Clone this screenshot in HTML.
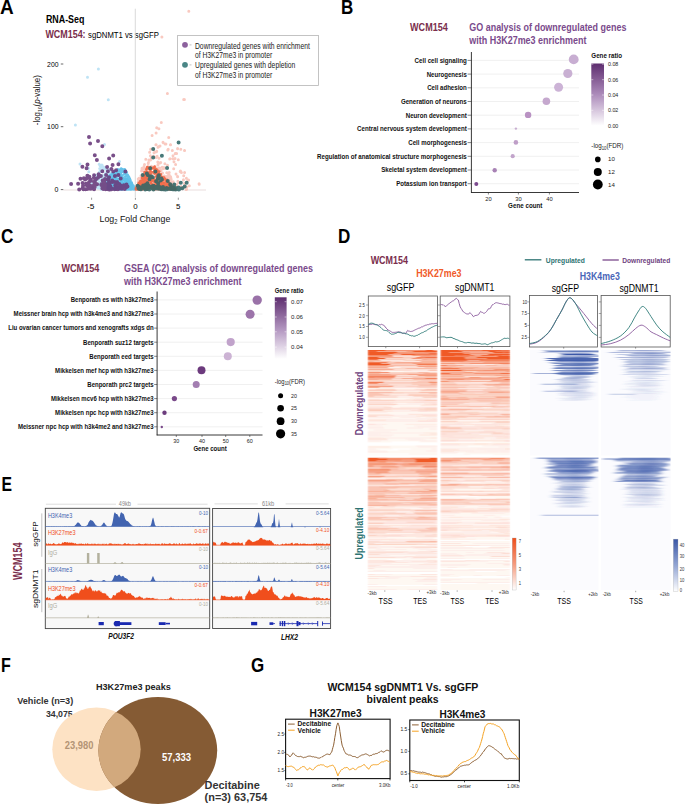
<!DOCTYPE html>
<html><head><meta charset="utf-8"><style>
html,body{margin:0;padding:0;background:#fff;overflow:hidden;}
svg{display:block;}
text{font-family:"Liberation Sans",sans-serif;}
</style></head><body>
<svg width="685" height="806" viewBox="0 0 685 806">
<defs><linearGradient id="gpb" x1="0" y1="0" x2="0" y2="1"><stop offset="0" stop-color="#5e2d6f"/><stop offset="0.5" stop-color="#ad8cbb"/><stop offset="1" stop-color="#ffffff"/></linearGradient><linearGradient id="gpc" x1="0" y1="0" x2="0" y2="1"><stop offset="0" stop-color="#5e2d6f"/><stop offset="0.55" stop-color="#b79cc4"/><stop offset="1" stop-color="#ffffff"/></linearGradient><filter id="hb" x="-0.1" y="-0.01" width="1.2" height="1.02"><feGaussianBlur stdDeviation="1.2 0.12"/></filter><filter id="hb2" x="-0.1" y="-0.01" width="1.2" height="1.02"><feGaussianBlur stdDeviation="2.8 0.45"/></filter><linearGradient id="cbo" x1="0" y1="0" x2="0" y2="1"><stop offset="0" stop-color="#ef4e1a"/><stop offset="0.5" stop-color="#f59a7c"/><stop offset="1" stop-color="#ffffff"/></linearGradient><linearGradient id="cbb" x1="0" y1="0" x2="0" y2="1"><stop offset="0" stop-color="#3a57a6"/><stop offset="0.5" stop-color="#93a6d4"/><stop offset="1" stop-color="#ffffff"/></linearGradient></defs>
<rect width="685" height="806" fill="#fff"/>
<text x="0.0" y="13.7" font-size="19.77" fill="#000" font-weight="bold" textLength="13.7" lengthAdjust="spacingAndGlyphs">A</text>
<text x="340.9" y="13.8" font-size="19.77" fill="#000" font-weight="bold" textLength="12.3" lengthAdjust="spacingAndGlyphs">B</text>
<text x="0.9" y="243.3" font-size="19.77" fill="#000" font-weight="bold" textLength="12.4" lengthAdjust="spacingAndGlyphs">C</text>
<text x="337.9" y="243.2" font-size="19.77" fill="#000" font-weight="bold" textLength="12.3" lengthAdjust="spacingAndGlyphs">D</text>
<text x="1.6" y="490.6" font-size="20.06" fill="#000" font-weight="bold" textLength="10.5" lengthAdjust="spacingAndGlyphs">E</text>
<text x="1.1" y="672.1" font-size="20.06" fill="#000" font-weight="bold" textLength="9.8" lengthAdjust="spacingAndGlyphs">F</text>
<text x="250.9" y="672.0" font-size="19.77" fill="#000" font-weight="bold" textLength="13.2" lengthAdjust="spacingAndGlyphs">G</text>
<text x="45.9" y="22.8" font-size="11.05" fill="#000" font-weight="bold" textLength="38.5" lengthAdjust="spacingAndGlyphs">RNA-Seq</text>
<text x="45.4" y="37.7" font-size="10.76" fill="#7a2e4c" font-weight="bold" textLength="40.2" lengthAdjust="spacingAndGlyphs">WCM154:</text>
<text x="88.1" y="37.7" font-size="9.59" fill="#000" textLength="70.7" lengthAdjust="spacingAndGlyphs">sgDNMT1 vs sgGFP</text>
<line x1="135.3" y1="8.7" x2="135.3" y2="197.0" stroke="#cfcfcf" stroke-width="0.8"/>
<line x1="63.5" y1="190.0" x2="206.0" y2="190.0" stroke="#e4d4d4" stroke-width="0.8"/>
<text x="47.1" y="66.6" font-size="7.70" fill="#000" textLength="11.4" lengthAdjust="spacingAndGlyphs">200</text>
<line x1="60.8" y1="64.0" x2="63.3" y2="64.0" stroke="#444" stroke-width="0.8"/>
<text x="47.1" y="129.3" font-size="7.70" fill="#000" textLength="11.4" lengthAdjust="spacingAndGlyphs">100</text>
<line x1="60.8" y1="126.7" x2="63.3" y2="126.7" stroke="#444" stroke-width="0.8"/>
<text x="54.6" y="192.2" font-size="7.70" fill="#000" textLength="3.9" lengthAdjust="spacingAndGlyphs">0</text>
<line x1="60.8" y1="189.6" x2="63.3" y2="189.6" stroke="#444" stroke-width="0.8"/>
<line x1="91.6" y1="197.7" x2="91.6" y2="199.8" stroke="#555" stroke-width="0.6"/>
<text x="87.1" y="209.3" font-size="7.70" fill="#000" textLength="7.4" lengthAdjust="spacingAndGlyphs">-5</text>
<line x1="135.4" y1="197.7" x2="135.4" y2="199.8" stroke="#555" stroke-width="0.6"/>
<text x="133.2" y="209.3" font-size="7.70" fill="#000" textLength="4.4" lengthAdjust="spacingAndGlyphs">0</text>
<line x1="178.3" y1="197.7" x2="178.3" y2="199.8" stroke="#555" stroke-width="0.6"/>
<text x="176.1" y="209.3" font-size="7.70" fill="#000" textLength="4.4" lengthAdjust="spacingAndGlyphs">5</text>
<text x="99.6" y="222.2" font-size="9.8" fill="#111" textLength="70.7" lengthAdjust="spacingAndGlyphs">Log<tspan font-size="6.5" dy="2.2">2</tspan><tspan dy="-2.2"> Fold Change</tspan></text>
<text transform="translate(39.6,125.2) rotate(-90)" font-size="8.4" fill="#111" textLength="50" lengthAdjust="spacingAndGlyphs">-log<tspan font-size="5.5" dy="2">10</tspan><tspan dy="-2">(</tspan><tspan font-style="italic">p</tspan>-value)</text>
<path d="M126.5 180.8h0M111.8 185.1h0M118.1 174.6h0M114.3 186.8h0M103.9 176.0h0M97.6 188.0h0M115.4 176.6h0M102.8 168.1h0M130.4 187.8h0M127.7 188.3h0M98.2 176.2h0M99.7 182.3h0M101.9 180.8h0M122.8 180.6h0M99.1 188.0h0M111.2 179.2h0M124.3 186.3h0M126.9 188.2h0M123.0 183.2h0M109.3 186.9h0M131.4 187.7h0M108.4 187.1h0M121.0 187.7h0M104.3 178.9h0M129.7 189.0h0M118.2 182.5h0M109.7 188.5h0M126.2 183.0h0M117.7 186.4h0M121.2 177.0h0M121.0 183.1h0M119.5 184.9h0M101.9 165.1h0M119.3 187.7h0M106.7 186.7h0M131.6 183.2h0M117.2 177.4h0M117.8 176.5h0M115.9 187.9h0M131.3 186.0h0M109.7 171.8h0M128.8 184.6h0M119.0 183.5h0M126.8 187.5h0M113.8 173.6h0M128.1 185.8h0M104.0 167.2h0M125.0 188.7h0M99.2 164.3h0M115.1 189.0h0M99.8 181.9h0M100.6 175.9h0M103.3 187.2h0M104.7 186.2h0M117.8 177.2h0M103.2 186.8h0M124.3 185.9h0M113.9 184.4h0M127.6 187.9h0M106.8 170.7h0M130.4 185.7h0M105.6 189.1h0M102.8 187.9h0M111.1 180.6h0M110.1 185.2h0M117.3 181.7h0M117.1 180.4h0M116.4 183.9h0M131.0 185.4h0M114.9 186.8h0M105.4 173.2h0M116.0 187.7h0M115.5 188.5h0M127.4 186.2h0M128.7 186.3h0M114.2 189.1h0M109.8 188.6h0M106.5 173.7h0M114.1 189.0h0M114.4 184.6h0M98.9 187.4h0M102.2 165.3h0M106.5 172.8h0M125.1 178.7h0M114.8 173.5h0M100.1 187.0h0M104.6 168.6h0M129.6 187.3h0M105.7 187.4h0M100.8 184.7h0M103.6 187.5h0M114.5 174.1h0M124.6 187.4h0M114.3 185.5h0M130.6 188.6h0M126.3 180.0h0M108.3 171.5h0M126.0 181.8h0M127.9 185.3h0M109.8 184.2h0M101.6 178.0h0M111.8 173.5h0M128.2 180.4h0M110.0 183.5h0M104.2 185.3h0M97.6 176.2h0M119.4 179.3h0M116.5 187.7h0M106.1 189.0h0M103.5 185.5h0M109.7 170.0h0M111.6 178.4h0M121.0 189.4h0M130.7 188.7h0M110.5 182.9h0M114.1 174.4h0M127.3 188.0h0M109.2 189.3h0M131.7 187.6h0M128.2 187.0h0M124.1 183.7h0M111.5 187.0h0M110.3 182.0h0M127.2 180.5h0M123.4 188.4h0M128.5 184.4h0M101.7 171.6h0M117.9 186.7h0M131.4 185.3h0M112.4 184.7h0M109.5 182.5h0M99.4 172.1h0M123.2 178.9h0M130.3 185.9h0M117.8 187.1h0M129.8 183.5h0M131.4 186.1h0M99.3 187.3h0M124.9 183.6h0M114.3 179.7h0M103.7 187.0h0M121.1 186.6h0M130.2 182.5h0M104.7 174.7h0M131.6 183.7h0M106.1 181.3h0M106.2 181.6h0M124.0 188.8h0M123.8 189.2h0M120.2 179.9h0M107.8 172.5h0M107.2 185.6h0M112.7 183.2h0M104.6 179.6h0M122.7 182.5h0M98.4 185.8h0M101.4 189.3h0M122.8 187.5h0M106.1 169.0h0M106.0 184.3h0M101.4 183.6h0M123.6 179.0h0M110.0 177.2h0M108.8 169.6h0M115.6 176.3h0M107.7 172.2h0M116.7 179.0h0M112.1 185.4h0M124.5 183.3h0M129.1 181.8h0M126.8 189.3h0M128.1 181.1h0M119.9 188.3h0M130.8 189.3h0M107.9 177.8h0M107.7 175.3h0M129.6 185.2h0M119.3 178.4h0M103.5 169.2h0M129.6 182.5h0M100.2 165.9h0M128.1 188.2h0M128.0 189.3h0M102.5 171.1h0M109.9 174.0h0M110.0 185.5h0M128.4 189.0h0M105.6 186.6h0M120.8 185.0h0M131.1 188.1h0M122.1 181.2h0M119.1 186.1h0M98.5 178.6h0M102.4 176.5h0M130.8 187.0h0M116.7 178.1h0M119.8 180.5h0M113.2 187.0h0M102.0 188.3h0M103.5 187.0h0M131.8 188.5h0M105.5 167.7h0M131.7 186.6h0M114.8 176.8h0M125.5 185.1h0M119.8 178.4h0M122.8 178.0h0M122.0 187.7h0M107.6 180.9h0M128.0 184.3h0M129.0 183.1h0M107.7 174.0h0M110.1 184.3h0M118.0 184.9h0M101.0 188.4h0M101.1 189.2h0M124.7 187.4h0M100.7 179.2h0M118.7 176.9h0M123.8 185.1h0M108.0 176.8h0M98.4 177.8h0M115.9 187.5h0M124.3 180.4h0M102.3 175.4h0M123.6 186.9h0M97.5 179.9h0M125.5 186.9h0M92.7 187.6h0M122.7 188.2h0M100.6 170.6h0M124.3 189.1h0M120.3 187.8h0M108.4 188.8h0M116.8 188.8h0M88.8 171.8h0M126.6 178.9h0M126.6 187.7h0M88.4 168.3h0M99.3 184.3h0M122.5 183.8h0M126.4 188.9h0M114.2 189.4h0M113.7 177.6h0M101.0 182.8h0M103.6 184.1h0M124.8 184.9h0M113.5 179.0h0M91.7 183.6h0M106.2 176.4h0M112.8 188.4h0M99.7 168.6h0M97.5 175.6h0M94.1 175.5h0M103.2 184.3h0M117.4 182.8h0M126.7 187.4h0M97.1 175.0h0M103.7 187.9h0M112.7 185.4h0M104.1 185.3h0M101.8 167.2h0M123.1 183.7h0M97.3 185.1h0M109.8 169.4h0M129.3 186.5h0M124.0 181.6h0M90.3 180.7h0M126.6 185.7h0M107.6 177.9h0M108.8 180.6h0M95.1 181.4h0M113.2 172.3h0M121.9 182.8h0M114.0 178.6h0M125.7 177.9h0M115.6 189.3h0M119.1 186.9h0M130.4 187.8h0M112.8 180.0h0M115.7 188.2h0M121.3 181.5h0M90.3 180.4h0M121.5 180.2h0M114.0 188.6h0M125.4 182.2h0M96.0 177.7h0M110.7 182.9h0M121.2 176.0h0M115.7 182.2h0M98.4 69.0h0M87.5 77.2h0M108.3 99.8h0M75.4 125.0h0M104.5 144.5h0M119.5 161.5h0M80.0 164.0h0M116.0 180.0h0" stroke="#b3def3" stroke-width="3.00" stroke-linecap="round" fill="none" stroke-opacity="0.85"/>
<path d="M153.7 181.0h0M157.6 188.9h0M171.3 181.8h0M160.7 162.4h0M161.6 181.6h0M146.8 183.3h0M138.9 178.3h0M168.4 184.0h0M144.6 169.3h0M168.6 174.7h0M144.0 166.6h0M168.1 176.7h0M149.8 181.2h0M167.9 183.3h0M151.3 167.4h0M151.3 157.5h0M146.6 187.4h0M158.5 168.2h0M167.7 176.8h0M170.8 177.8h0M155.9 169.8h0M143.6 180.2h0M159.0 186.2h0M162.9 184.5h0M154.0 152.8h0M141.2 188.3h0M153.9 180.9h0M164.2 189.3h0M168.4 175.5h0M166.5 180.5h0M148.2 163.5h0M156.6 173.2h0M150.2 171.5h0M162.1 167.2h0M170.7 187.0h0M148.6 171.3h0M158.4 176.8h0M145.0 186.0h0M149.7 170.7h0M173.2 181.8h0M169.3 175.2h0M172.8 183.6h0M167.4 188.0h0M162.5 172.9h0M148.7 166.7h0M172.5 184.5h0M161.4 180.1h0M150.4 155.7h0M138.9 186.3h0M162.6 177.0h0M141.0 175.7h0M151.4 166.3h0M153.0 168.2h0M158.4 175.3h0M142.0 184.5h0M170.2 181.8h0M142.0 169.6h0M147.1 184.9h0M157.2 179.5h0M155.7 167.7h0M146.1 168.6h0M142.0 176.9h0M159.3 186.2h0M152.7 185.8h0M153.9 156.4h0M157.9 164.9h0M165.4 186.4h0M173.9 184.1h0M141.6 171.1h0M152.1 181.7h0M172.8 184.1h0M166.1 186.1h0M166.1 187.9h0M146.5 174.8h0M138.4 181.5h0M145.6 178.2h0M163.6 178.3h0M170.2 180.8h0M169.6 181.0h0M171.2 179.3h0M144.0 167.6h0M150.3 159.9h0M162.6 167.9h0M142.4 179.6h0M164.7 168.3h0M164.1 188.0h0M159.8 185.6h0M157.8 162.1h0M142.0 168.2h0M162.4 181.9h0M144.9 174.4h0M168.3 179.5h0M142.0 188.7h0M141.9 171.0h0M144.6 171.7h0M148.4 162.6h0M151.7 182.8h0M169.7 181.4h0M162.9 168.8h0M172.4 189.2h0M150.3 182.5h0M156.1 157.4h0M167.0 188.5h0M144.5 164.5h0M162.6 178.4h0M155.2 182.2h0M168.6 182.6h0M169.6 180.3h0M140.7 182.4h0M145.8 159.3h0M159.3 187.6h0M144.1 178.0h0M154.9 166.5h0M152.0 174.6h0M138.1 182.2h0M150.0 188.3h0M154.6 152.2h0M139.5 186.6h0M162.3 181.3h0M147.8 169.2h0M147.4 166.8h0M157.1 156.2h0M173.9 189.1h0M158.3 163.6h0M169.6 178.2h0M160.9 170.6h0M151.1 177.4h0M166.8 172.8h0M172.0 182.2h0M148.9 159.9h0M164.8 177.4h0M161.0 178.4h0M157.9 174.6h0M140.1 182.9h0M149.6 152.2h0M155.4 174.3h0M146.7 179.6h0M150.6 183.2h0M138.2 178.9h0M154.4 171.2h0M158.6 178.4h0M144.0 186.9h0M148.8 176.3h0M164.3 176.1h0M172.0 185.5h0M171.4 182.5h0M140.8 185.3h0M159.0 158.3h0M150.9 159.5h0M153.5 156.3h0M140.4 180.0h0M170.6 185.5h0M147.3 188.1h0M143.9 180.8h0M163.5 183.3h0M152.4 180.5h0M159.8 163.0h0M161.4 183.1h0M164.6 167.8h0M159.7 186.3h0M178.3 159.7h0M156.4 189.0h0M149.3 184.3h0M181.4 172.6h0M183.6 187.5h0M155.8 176.9h0M170.8 183.9h0M172.2 185.5h0M143.2 187.1h0M142.6 184.4h0M156.1 183.9h0M168.4 187.3h0M162.1 189.4h0M183.7 175.8h0M186.6 189.3h0M169.2 172.6h0M155.9 189.2h0M147.8 189.1h0M176.3 189.1h0M178.5 182.4h0M165.7 179.2h0M166.4 176.4h0M168.6 185.9h0M175.1 187.0h0M173.7 168.8h0M176.7 185.8h0M176.6 153.6h0M161.7 187.3h0M164.9 163.7h0M146.6 189.4h0M162.7 177.6h0M176.7 184.5h0M186.7 187.1h0M175.8 189.1h0M141.8 189.2h0M143.3 186.0h0M166.4 188.4h0M184.4 183.6h0M147.5 188.9h0M175.0 158.6h0M148.1 189.4h0M176.8 187.2h0M186.4 178.3h0M170.2 185.5h0M177.9 181.3h0M155.6 171.2h0M145.5 181.4h0M143.5 183.8h0M159.3 170.8h0M143.3 185.2h0M159.6 168.1h0M184.6 172.4h0M151.0 188.2h0M152.7 185.6h0M151.3 188.6h0M176.0 174.1h0M154.4 168.3h0M150.6 183.4h0M147.8 177.0h0M181.1 186.5h0M175.6 164.5h0M153.7 187.1h0M163.2 167.4h0M148.0 181.6h0M168.4 182.9h0M167.5 165.3h0M150.3 175.0h0M157.3 175.1h0M180.8 188.1h0M180.8 149.3h0M154.4 189.4h0M145.7 175.1h0M140.9 179.8h0M147.5 180.5h0M145.0 189.0h0M172.4 189.1h0M156.3 170.2h0M174.0 161.8h0M186.2 189.4h0M151.4 177.3h0M167.4 93.6h0M183.7 99.4h0M161.3 122.6h0M156.7 127.8h0M158.9 128.8h0M156.1 133.0h0M152.1 135.6h0M168.7 137.6h0M156.1 144.7h0M163.2 142.8h0M170.4 144.7h0M184.5 150.6h0M177.6 148.6h0M172.3 150.6h0M175.3 153.6h0M167.8 149.9h0M169.7 159.1h0M173.0 155.8h0M180.2 171.4h0M177.6 176.6h0M183.4 179.9h0M188.6 179.9h0M199.1 183.8h0M189.3 185.8h0M158.0 147.3h0M160.0 146.0h0M165.2 144.1h0M156.7 151.2h0M153.5 149.3h0M188.8 11.2h0M161.9 37.0h0M167.4 93.5h0M184.4 99.4h0M155.9 144.7h0M158.9 146.4h0M163.0 142.3h0M165.9 144.1h0M170.6 144.7h0M168.2 149.3h0M172.3 150.5h0M177.6 148.8h0M184.6 150.5h0M175.2 153.4h0M170.0 158.7h0M172.9 158.7h0M180.5 171.0h0M177.6 176.8h0M170.6 176.8h0M183.4 179.7h0M188.1 180.3h0M199.2 184.2h0M150.7 149.3h0M156.5 151.7h0" stroke="#f7bcb0" stroke-width="3.00" stroke-linecap="round" fill="none" stroke-opacity="0.8"/>
<path d="M126.9 187.3h0M117.6 188.3h0M120.9 182.4h0M133.7 187.8h0M134.1 188.4h0M133.4 189.1h0M124.1 172.1h0M132.1 188.1h0M118.3 169.7h0M119.7 181.7h0M107.9 189.0h0M111.5 185.5h0M131.6 188.7h0M127.3 176.4h0M130.7 184.2h0M118.0 182.5h0M120.6 188.4h0M133.6 188.8h0M116.7 181.7h0M127.1 180.2h0M123.3 183.7h0M113.4 178.0h0M129.0 182.5h0M121.2 171.0h0M115.3 184.7h0M107.8 188.2h0M124.3 173.7h0M131.4 185.8h0M134.1 187.8h0M114.3 179.8h0M111.0 185.2h0M116.3 178.5h0M119.7 180.4h0M112.0 174.5h0M122.7 175.8h0M133.6 187.1h0M117.7 169.2h0M112.6 185.3h0M125.2 176.2h0M134.4 188.7h0M131.0 188.6h0M133.6 186.9h0M131.9 187.9h0M125.0 171.5h0M133.1 187.6h0M120.5 170.8h0M112.6 175.5h0M128.1 183.8h0M125.9 172.7h0M108.5 187.8h0M130.8 187.6h0M129.3 183.9h0M119.4 184.5h0M134.8 189.0h0M125.6 178.9h0M108.6 180.7h0M121.5 176.9h0M116.9 188.6h0M110.2 178.4h0M111.0 177.7h0M125.0 181.8h0M132.6 186.1h0M133.6 189.2h0M129.9 187.9h0M126.4 188.7h0M134.9 189.3h0M132.6 187.6h0M134.4 187.8h0M118.7 186.8h0M128.8 185.3h0M125.8 187.5h0M111.8 173.9h0M122.9 179.8h0M133.0 189.0h0M126.3 185.2h0M112.4 187.2h0M134.4 187.7h0M121.1 186.8h0M120.7 189.0h0M121.2 168.6h0M111.3 179.1h0M128.5 184.9h0M131.0 182.8h0M121.0 173.2h0M126.7 186.0h0M112.9 173.1h0M111.6 177.1h0M112.7 177.6h0M129.5 183.7h0M126.0 189.0h0M134.3 188.9h0M128.6 180.3h0M108.5 184.0h0M109.1 176.0h0M108.6 185.1h0M129.6 187.1h0M130.2 187.6h0M118.4 170.7h0M112.0 182.3h0M117.5 173.6h0M133.0 186.5h0M109.9 178.6h0M114.7 181.4h0M130.7 182.2h0M126.6 175.6h0M108.0 184.8h0M124.7 169.3h0M115.4 186.8h0M132.0 188.6h0M110.1 178.1h0M131.5 183.2h0M107.8 181.5h0M126.1 179.8h0M131.9 189.3h0M108.1 181.5h0M121.2 169.6h0M123.8 171.1h0M112.4 186.5h0M128.8 186.0h0M129.1 182.4h0M128.6 184.2h0M131.9 183.2h0M126.0 181.4h0M119.6 170.3h0M124.2 170.0h0M121.9 178.8h0M121.3 189.1h0M123.6 186.1h0M134.8 188.6h0M130.9 185.4h0M115.4 179.7h0M126.8 181.0h0M120.4 173.1h0M132.5 186.4h0M128.9 186.2h0M114.0 181.1h0M120.2 173.6h0M109.8 183.6h0M118.7 179.4h0M121.6 175.2h0M123.3 178.7h0M122.6 169.4h0M116.2 172.8h0M108.9 186.4h0M120.3 169.4h0M112.0 187.6h0M132.1 186.8h0M133.3 188.6h0M133.3 186.8h0M113.7 174.1h0M131.3 183.8h0M117.3 187.0h0M110.7 175.1h0M129.6 178.5h0M124.8 179.7h0M107.5 179.4h0M131.1 186.1h0M121.5 182.9h0M130.3 186.5h0M115.5 189.2h0M120.4 180.7h0M134.5 188.9h0M118.4 179.4h0M133.5 185.8h0M113.6 172.8h0M132.6 188.1h0M134.1 187.5h0M128.3 187.9h0M124.1 170.1h0M112.6 185.7h0M131.4 182.3h0M119.9 175.0h0M132.9 189.2h0M116.5 181.8h0M133.3 185.7h0M118.1 173.2h0M133.1 185.6h0M133.5 186.2h0M123.3 182.9h0M120.4 169.8h0M128.4 187.9h0M121.2 185.0h0M132.4 188.6h0M133.8 188.9h0M127.2 184.9h0M114.4 184.8h0M122.0 186.2h0M126.2 189.2h0M128.8 189.3h0M115.2 179.9h0M130.4 185.0h0M109.2 188.2h0M112.6 182.9h0M122.1 171.9h0M125.0 179.5h0M116.5 170.3h0M126.3 174.5h0M116.0 177.8h0M124.6 182.7h0M133.7 189.1h0M133.4 186.6h0M128.7 187.6h0M133.0 185.6h0M111.1 179.7h0M128.0 186.3h0M127.7 182.8h0M131.2 186.0h0M128.5 176.2h0M108.0 182.9h0M129.0 177.1h0M127.2 184.1h0M134.9 189.1h0M122.7 179.4h0M130.1 184.5h0M134.8 189.2h0M132.9 187.6h0M134.0 189.4h0M127.4 186.2h0M119.5 178.8h0M114.7 178.1h0M115.7 173.1h0M125.1 183.3h0M107.7 187.9h0M115.5 178.0h0M134.0 187.2h0M110.5 180.6h0M115.2 174.8h0M131.7 185.8h0M121.8 171.9h0M113.1 175.9h0M119.5 170.6h0M116.7 176.3h0M129.4 189.1h0M131.9 187.1h0M132.5 184.8h0M120.3 176.6h0M118.3 175.7h0M122.3 189.4h0M113.3 177.1h0M121.9 178.7h0M117.4 188.4h0M115.1 185.4h0M133.3 188.4h0M115.3 186.2h0M115.0 171.7h0M122.1 182.0h0M122.5 175.4h0M114.2 179.1h0M117.8 188.2h0M131.5 187.7h0M114.9 184.5h0M120.0 189.2h0M133.6 188.6h0M117.0 176.2h0M116.9 184.3h0M121.5 180.2h0M122.9 187.4h0M110.4 186.9h0M107.9 177.7h0M134.5 188.7h0M112.6 173.6h0M123.4 184.4h0M129.9 179.1h0M129.9 183.3h0M131.6 185.8h0M108.6 188.0h0M112.6 181.6h0M110.6 179.4h0M129.3 178.6h0M122.3 189.0h0M134.8 188.9h0M123.3 183.7h0M131.7 187.1h0M127.1 175.6h0M134.8 188.7h0M112.0 187.9h0M109.4 179.9h0M110.2 185.7h0M125.5 182.3h0M107.2 182.7h0M125.9 181.9h0M128.2 188.9h0M132.6 185.0h0M127.9 175.4h0M128.9 186.4h0M121.6 186.0h0M125.5 170.5h0M110.7 177.6h0M118.2 170.6h0M109.0 182.4h0M115.6 188.7h0M115.2 181.7h0M114.6 178.3h0M127.9 188.9h0M109.4 188.0h0M122.7 182.8h0M127.6 178.1h0M107.9 186.5h0M117.5 184.0h0M120.3 181.7h0M131.0 188.2h0M130.0 179.7h0M122.0 185.4h0M110.0 175.2h0M123.4 187.0h0M130.4 188.7h0M126.4 188.1h0M129.1 186.6h0M120.0 170.7h0M114.7 182.6h0M124.4 178.9h0M125.4 183.3h0M133.6 188.5h0M108.2 188.1h0M121.9 176.6h0M111.3 186.6h0M128.3 186.3h0M124.8 180.6h0M108.6 178.4h0M111.0 189.2h0M134.2 187.9h0M110.3 183.0h0M119.5 189.4h0M125.0 170.2h0M112.4 175.8h0M108.0 186.7h0M132.4 188.7h0M121.3 175.4h0M109.0 180.0h0M117.7 174.2h0M123.2 178.3h0M134.1 187.5h0M129.3 178.3h0M117.8 183.9h0M132.0 187.9h0M118.0 175.5h0M132.4 189.1h0M121.3 177.6h0M125.1 185.4h0M119.1 189.3h0M127.5 182.6h0M108.4 181.4h0M110.7 182.9h0M129.2 186.8h0M108.4 180.6h0M127.3 189.2h0M122.0 175.6h0M124.2 184.6h0M117.1 171.1h0M129.5 189.1h0M126.5 182.5h0M116.7 186.1h0M113.3 177.3h0M121.8 185.7h0M108.1 185.9h0M112.6 186.1h0M129.6 180.8h0M127.6 174.7h0M122.1 186.0h0M129.5 184.9h0M117.2 170.5h0M131.5 186.7h0M129.8 178.6h0M131.6 189.1h0M133.6 188.2h0M110.3 176.8h0M115.2 171.0h0M109.3 185.4h0M130.5 180.4h0M114.8 189.0h0M117.2 182.5h0M125.5 183.5h0M130.9 189.4h0M128.0 184.7h0M108.5 188.1h0M108.3 187.1h0M126.0 174.1h0M112.6 182.9h0M133.9 188.1h0M125.5 171.3h0M130.3 186.1h0M110.3 189.1h0M124.5 172.5h0M114.2 188.9h0M134.2 189.3h0M109.6 186.3h0M114.8 173.3h0M126.4 185.1h0M108.5 181.7h0M128.5 179.9h0M127.1 185.3h0M134.8 188.7h0M109.7 180.9h0M108.9 189.2h0M129.3 184.0h0M108.5 177.0h0M125.1 184.9h0M123.9 179.6h0M109.4 187.3h0M113.1 177.4h0M112.5 177.1h0M118.9 183.1h0M127.0 183.9h0M113.7 188.3h0M130.2 181.9h0M128.9 188.8h0M134.2 188.2h0M126.8 172.5h0M110.7 174.8h0M128.4 188.5h0M132.8 187.0h0M115.9 181.6h0M129.3 184.7h0M118.5 175.8h0M114.8 174.4h0M117.2 187.4h0M112.0 185.3h0M120.0 182.2h0M115.0 186.3h0M128.9 186.6h0" stroke="#55bde8" stroke-width="2.60" stroke-linecap="round" fill="none" stroke-opacity="0.9"/>
<path d="M167.0 181.8h0M151.7 184.2h0M155.1 187.5h0M167.7 186.8h0M168.5 187.7h0M148.0 185.1h0M150.0 186.4h0M135.8 188.8h0M144.4 186.2h0M145.2 181.7h0M150.1 176.3h0M159.9 184.2h0M172.1 186.0h0M137.0 186.8h0M171.1 185.4h0M139.5 183.1h0M158.7 189.3h0M135.9 188.3h0M159.7 186.1h0M138.3 188.9h0M142.7 179.1h0M146.9 187.1h0M171.0 185.3h0M140.4 181.0h0M157.6 174.6h0M160.3 174.5h0M165.6 180.3h0M141.4 182.0h0M154.3 173.6h0M150.5 170.0h0M155.4 184.9h0M142.7 188.1h0M152.8 188.7h0M151.7 187.2h0M152.7 179.6h0M154.7 170.5h0M135.8 188.6h0M151.7 178.1h0M160.1 175.4h0M148.0 181.5h0M173.6 189.3h0M158.9 178.6h0M136.3 188.4h0M160.9 174.4h0M146.3 169.2h0M153.5 179.9h0M170.7 189.3h0M162.5 181.1h0M146.6 171.6h0M147.6 180.2h0M154.1 172.9h0M141.9 184.8h0M149.9 178.3h0M167.4 187.3h0M167.4 186.3h0M153.2 184.7h0M153.3 167.5h0M159.7 176.0h0M146.3 184.2h0M145.1 179.7h0M158.8 175.5h0M136.6 187.8h0M170.1 186.3h0M136.8 188.7h0M135.8 189.3h0M171.8 186.9h0M159.8 176.2h0M171.3 186.6h0M158.0 178.3h0M161.5 181.0h0M160.8 186.8h0M160.2 182.7h0M164.5 188.6h0M140.9 189.2h0M165.0 178.7h0M159.7 184.1h0M167.2 182.3h0M155.7 185.1h0M145.2 182.8h0M145.8 182.2h0M159.1 172.5h0M136.9 187.8h0M136.6 189.2h0M166.6 184.2h0M171.7 187.6h0M136.0 189.0h0M156.9 170.3h0M174.6 188.8h0M149.5 187.9h0M159.2 186.6h0M139.9 189.3h0M135.8 188.8h0M138.9 182.9h0M137.9 185.3h0M139.1 189.3h0M162.5 186.7h0M163.2 187.5h0M136.8 187.3h0M162.3 177.1h0M163.0 188.7h0M158.5 176.9h0M151.4 168.6h0M143.4 174.8h0M162.4 189.3h0M136.0 188.6h0M167.0 188.9h0M145.5 176.2h0M140.3 181.5h0M152.5 188.6h0M147.7 177.8h0M150.5 175.3h0M139.7 183.2h0M147.5 176.1h0M158.6 182.8h0M148.4 172.5h0M172.9 186.9h0M155.9 184.4h0M137.1 186.1h0M161.8 177.2h0M146.3 178.0h0M174.4 188.1h0M157.3 184.5h0M150.1 169.8h0M148.1 175.1h0M157.4 171.7h0M166.5 187.1h0M135.8 189.2h0M149.9 177.5h0M166.9 180.9h0M136.6 187.4h0M166.7 180.9h0M156.1 184.8h0M168.5 183.2h0M161.0 174.8h0M146.9 188.3h0M155.3 172.3h0M141.5 181.1h0M172.3 188.7h0M157.6 176.9h0M151.6 186.0h0M143.4 178.5h0M165.8 185.1h0M137.9 185.6h0M164.9 187.3h0M156.4 170.8h0M170.1 186.5h0M152.1 177.4h0M141.1 187.9h0M140.8 182.6h0M147.5 178.0h0M149.1 179.2h0M139.8 189.2h0M175.4 189.2h0M138.4 186.0h0M165.6 188.2h0M157.2 183.7h0M153.9 189.2h0M136.4 187.3h0M169.2 186.3h0M155.9 185.0h0M165.2 185.2h0M173.0 187.0h0M167.0 180.1h0M143.4 189.1h0M141.5 187.9h0M137.8 189.3h0M155.5 170.5h0M151.3 168.3h0M171.3 189.2h0M157.2 182.7h0M138.9 183.0h0M143.5 181.6h0M159.1 172.0h0M160.3 183.9h0M150.9 186.9h0M173.9 187.2h0M142.3 189.1h0M143.5 185.0h0M170.9 184.6h0M167.9 189.2h0M165.6 181.9h0M159.3 171.6h0M137.0 189.1h0M164.1 177.5h0M160.6 185.5h0M156.9 174.6h0M138.4 187.9h0M143.5 188.1h0M152.3 186.7h0M142.9 188.0h0M160.7 189.3h0M162.4 187.3h0M136.5 187.4h0M142.2 177.4h0M169.2 183.1h0M139.5 186.4h0M138.2 184.5h0M168.1 184.5h0M151.1 183.2h0M167.2 185.5h0M158.5 187.6h0M142.3 189.0h0M162.3 182.1h0M139.6 182.5h0M143.9 183.8h0M140.0 187.5h0M168.0 187.1h0M140.4 185.3h0M145.8 171.9h0M138.7 183.2h0M137.0 186.6h0M160.3 186.8h0M152.1 184.4h0M143.6 187.1h0M147.6 167.1h0M175.4 188.9h0M138.2 188.2h0M170.6 189.2h0M162.8 186.1h0M174.5 189.4h0M166.5 186.6h0M139.5 189.4h0M167.7 185.2h0M141.0 185.4h0M171.4 188.6h0M156.1 187.4h0M140.8 181.8h0M162.2 187.3h0M137.6 189.2h0M157.7 180.8h0M144.1 186.9h0M157.8 176.4h0M166.7 184.1h0M141.6 188.9h0M163.1 184.6h0M162.6 189.0h0M166.7 186.7h0M168.1 182.2h0M152.8 189.2h0M171.3 187.3h0M169.5 188.0h0M141.0 180.8h0M147.7 186.8h0M147.8 177.3h0M135.8 189.0h0M150.8 179.2h0M138.9 184.9h0M166.9 181.2h0M145.9 176.1h0M148.2 173.4h0M137.1 186.5h0M173.3 188.2h0M153.6 178.9h0M154.6 189.2h0M174.0 189.0h0M140.9 188.7h0M143.3 177.6h0M136.3 189.3h0M161.6 187.2h0M136.0 188.6h0M156.3 179.6h0M161.8 188.4h0M169.4 184.6h0M136.7 189.2h0M152.8 179.6h0M144.4 188.0h0M149.2 187.3h0M156.9 172.1h0M139.7 185.1h0M163.8 187.9h0M167.4 180.8h0M148.5 181.4h0M168.0 185.4h0M148.8 168.4h0M165.1 186.2h0M142.9 185.5h0M150.4 167.3h0M166.4 180.1h0M166.9 181.3h0M136.9 188.0h0M173.5 187.0h0M143.2 184.1h0M158.7 183.8h0M154.3 188.5h0M150.3 179.5h0M136.1 189.3h0M174.1 187.9h0M172.5 187.2h0M166.6 180.6h0M170.1 189.3h0M159.1 185.7h0M160.7 185.9h0M154.8 168.9h0M158.2 185.7h0M153.9 181.1h0M173.2 188.7h0M145.3 178.2h0M138.9 185.8h0M173.4 188.2h0M143.9 182.9h0M154.5 187.1h0M139.0 188.8h0M144.9 183.3h0M144.7 186.2h0M137.9 187.0h0M168.0 184.6h0M156.0 176.5h0M141.5 181.6h0M151.4 178.4h0M157.8 181.5h0M145.5 185.9h0M142.3 183.5h0M148.3 177.5h0M135.9 189.1h0M169.0 188.0h0M155.4 179.9h0M144.5 172.2h0M144.9 176.1h0M140.1 189.0h0M169.5 186.8h0M137.1 188.3h0M150.6 173.8h0M138.5 188.4h0M173.6 187.6h0M140.0 187.0h0M147.1 175.5h0M158.0 173.3h0M167.1 185.1h0M163.4 179.8h0M164.3 184.2h0M165.5 181.9h0M171.5 189.0h0M169.4 189.4h0M164.6 182.9h0M153.0 167.8h0M156.1 181.8h0M165.4 179.7h0M157.6 183.2h0M151.1 180.6h0M162.7 186.1h0M148.6 178.3h0M148.4 183.6h0M165.6 180.1h0M153.0 180.9h0M141.0 186.8h0M139.7 185.2h0M156.5 188.3h0M171.7 188.2h0M168.2 182.5h0M173.6 189.0h0M150.0 169.2h0M135.9 189.4h0M155.8 179.9h0M171.7 186.0h0M154.7 166.9h0M153.8 179.2h0M161.0 184.2h0M147.3 177.3h0M147.1 168.6h0M160.6 181.7h0M138.2 187.7h0M149.0 178.1h0M156.2 171.0h0M173.8 188.4h0M150.6 176.6h0M175.3 189.2h0M154.3 171.7h0M140.5 186.9h0M174.5 188.1h0M153.6 187.8h0M170.5 185.6h0M167.1 179.9h0M170.2 187.2h0M140.0 187.4h0M153.5 179.5h0M141.1 188.0h0M158.6 179.1h0M147.1 167.2h0M158.9 189.0h0M149.4 172.5h0M145.4 177.2h0M135.8 189.2h0M168.1 184.9h0M160.3 187.0h0M153.0 178.3h0M143.9 179.8h0M154.4 166.9h0M156.2 182.0h0M138.9 188.7h0M164.3 188.5h0M138.2 188.7h0M154.0 171.5h0M157.8 174.2h0M137.2 189.4h0M164.8 186.3h0M162.4 185.1h0M140.5 187.4h0M138.2 184.5h0M156.5 183.4h0M151.0 182.2h0M136.9 186.7h0M156.5 169.3h0M150.6 176.7h0M143.2 189.0h0M172.2 186.1h0M145.7 172.2h0M166.9 187.0h0M157.4 170.2h0M152.9 168.2h0M143.0 184.7h0M162.5 187.0h0M145.5 173.1h0M152.4 172.3h0M143.0 187.6h0M147.3 186.4h0M174.2 189.0h0M155.6 187.8h0M154.5 182.2h0M149.1 188.5h0M139.0 183.9h0M147.1 185.3h0M141.2 187.0h0M142.8 189.1h0M160.1 184.6h0M140.0 183.6h0M138.0 188.3h0M167.8 188.6h0M150.7 171.2h0M166.4 188.3h0M147.1 174.3h0M148.1 167.9h0M141.8 177.9h0M153.3 185.6h0M151.1 187.4h0M162.0 186.4h0M170.8 186.4h0M147.7 185.2h0M157.6 186.3h0M169.5 188.8h0M153.6 178.6h0M144.0 177.4h0M148.4 175.8h0M155.9 184.0h0M148.6 188.2h0M140.7 181.0h0M145.9 177.2h0M138.5 186.4h0M147.5 179.6h0M145.0 188.7h0M145.5 186.2h0M139.0 184.7h0M144.5 183.6h0M171.2 185.6h0M170.0 184.0h0M139.2 187.8h0M136.3 188.2h0M160.1 184.5h0M149.5 175.7h0M161.6 186.5h0M168.3 187.0h0M158.5 187.0h0M138.7 183.6h0M163.2 180.2h0M136.6 189.3h0M140.2 188.1h0M145.2 183.5h0M136.5 188.8h0M159.0 187.0h0M168.0 185.0h0M162.4 186.5h0M150.4 175.1h0M147.0 189.4h0M167.7 182.8h0M144.6 189.0h0M168.7 185.0h0M136.8 188.9h0M138.6 184.7h0M141.9 178.3h0M163.9 188.7h0M161.4 184.2h0M163.8 178.8h0M144.4 188.4h0M173.0 188.2h0M172.2 186.8h0M163.4 178.5h0M158.5 182.1h0M136.9 187.4h0M150.1 179.3h0M172.1 189.0h0M164.4 189.1h0M161.8 177.5h0M143.7 181.8h0M174.1 188.2h0M154.9 185.1h0M137.1 188.4h0M149.4 186.1h0M145.5 187.6h0M162.0 180.0h0M142.8 186.8h0M153.7 180.9h0M172.5 188.3h0M145.1 173.5h0M139.6 185.4h0M146.4 173.0h0M155.1 173.1h0M140.5 183.4h0M157.2 181.4h0M164.6 179.5h0M138.7 188.0h0M147.4 186.0h0M137.1 188.7h0M141.4 181.9h0M150.9 187.8h0M146.0 181.2h0M147.5 186.7h0M137.4 189.4h0M175.1 188.8h0M137.8 186.3h0M174.6 188.6h0M138.5 186.8h0" stroke="#f0643f" stroke-width="2.60" stroke-linecap="round" fill="none" stroke-opacity="0.9"/>
<path d="M89.0 136.9h0M98.0 141.0h0M90.1 143.6h0M102.3 146.3h0M94.8 155.3h0M113.2 155.6h0M109.1 158.6h0M96.9 160.1h0M118.4 164.2h0M87.5 164.6h0M82.4 166.7h0M86.6 168.2h0M107.1 167.1h0M112.6 165.0h0M102.3 171.2h0M107.9 171.2h0M113.2 171.4h0M125.4 171.6h0M98.6 174.3h0M89.4 176.7h0M93.9 177.8h0M100.9 176.1h0M105.0 179.0h0M71.1 184.0h0M78.1 183.7h0M91.0 180.7h0M95.0 180.7h0M109.1 177.2h0M114.9 176.1h0M118.4 174.9h0M120.7 178.4h0M111.4 169.1h0M116.1 170.2h0M106.1 174.9h0M94.1 189.3h0M103.1 188.3h0M106.7 189.1h0M126.5 184.4h0M112.2 181.9h0M121.7 187.4h0M120.9 187.7h0M118.8 185.4h0M120.3 185.2h0M103.3 189.0h0M110.4 186.2h0M83.0 186.1h0M117.1 182.0h0M84.7 179.0h0M114.3 188.9h0M114.7 189.3h0M125.4 187.6h0M107.7 185.3h0M110.0 189.4h0M94.2 182.1h0M101.2 184.7h0M94.1 175.3h0M85.2 179.4h0M108.2 187.7h0M107.2 179.2h0M108.8 187.2h0M107.7 188.9h0M79.2 189.4h0M98.1 177.6h0M115.2 185.6h0M109.3 188.4h0M117.9 189.2h0M86.7 178.2h0M83.5 189.3h0M93.9 187.0h0M96.2 184.1h0M112.2 180.6h0M127.5 186.4h0M86.2 183.7h0M98.8 176.4h0M116.2 185.6h0M91.5 186.2h0M93.0 186.1h0M102.0 183.8h0M94.7 187.1h0M97.1 184.3h0M116.7 185.8h0M114.7 182.1h0M104.6 182.6h0M102.2 185.7h0M116.8 189.1h0M82.6 183.0h0M102.1 185.0h0M88.1 187.8h0M119.2 184.1h0M105.2 183.9h0M87.4 175.7h0M85.5 189.3h0M109.0 181.9h0M87.9 188.8h0M120.1 188.6h0M122.5 188.2h0M88.6 183.7h0M105.6 189.2h0M108.4 179.1h0M93.8 185.4h0M104.3 181.4h0M90.8 188.7h0M94.6 186.5h0M102.3 188.2h0M109.6 187.6h0M109.1 189.4h0M117.8 186.3h0M124.7 189.0h0M92.7 187.5h0M111.8 188.4h0M87.1 189.0h0M96.7 178.7h0M117.7 187.5h0M89.1 182.0h0M109.5 189.3h0M106.1 187.2h0M93.0 187.3h0M107.8 184.2h0M88.2 186.4h0M108.8 185.2h0M82.7 188.1h0M80.5 178.7h0M109.5 184.2h0M111.6 189.3h0M90.9 186.1h0M102.0 185.4h0M83.9 178.2h0M126.3 187.2h0M105.1 186.1h0M86.8 185.3h0M104.6 179.9h0M106.2 185.9h0M102.7 180.6h0M95.0 180.6h0M108.1 189.3h0M94.6 183.8h0M90.3 179.2h0M121.8 188.8h0M123.8 185.2h0" stroke="#6a3c7c" stroke-width="4.00" stroke-linecap="round" fill="none" stroke-opacity="0.9"/>
<path d="M178.6 142.4h0M153.2 148.9h0M161.9 155.8h0M153.2 157.5h0M167.1 167.9h0M150.2 168.2h0M155.4 171.4h0M158.9 175.3h0M151.5 176.6h0M161.9 179.6h0M167.8 180.9h0M180.8 182.8h0M186.7 182.8h0M174.3 184.5h0M184.7 186.4h0M170.4 185.1h0M146.9 173.4h0M156.1 181.2h0M141.1 189.3h0M170.4 188.5h0M139.3 187.5h0M168.4 188.7h0M139.3 187.4h0M154.7 188.2h0M182.3 188.2h0M176.1 189.3h0M150.9 188.3h0M137.6 185.8h0M148.3 189.0h0M150.0 189.0h0M175.5 188.6h0M159.0 188.7h0M139.2 188.9h0M175.9 188.0h0M175.4 189.2h0M145.2 189.4h0M160.2 188.8h0M156.8 188.5h0M162.3 188.9h0M172.7 189.2h0M178.5 188.7h0M139.2 188.8h0M160.0 188.8h0M161.5 189.0h0M148.3 187.2h0M149.1 187.6h0M172.8 188.5h0M156.4 186.8h0M155.9 187.1h0M139.4 188.5h0M165.0 189.4h0M175.7 189.4h0M162.9 189.2h0M178.6 188.7h0M172.7 188.7h0M166.6 188.1h0M149.2 189.1h0M174.5 189.3h0M178.4 189.2h0M141.1 189.3h0M171.9 187.4h0M154.5 187.9h0M147.6 186.6h0M167.2 189.3h0M139.4 187.4h0M138.8 186.7h0M149.1 189.1h0M162.3 189.0h0M161.3 189.3h0M178.1 189.1h0M174.7 189.3h0M172.6 187.3h0M153.5 189.4h0M153.0 187.9h0M146.1 188.2h0M140.8 188.4h0M169.2 188.8h0M166.8 189.3h0M174.0 189.3h0M178.7 187.5h0M179.5 188.7h0M149.0 188.8h0M170.3 188.7h0M179.0 189.4h0M157.7 187.2h0M163.0 188.4h0M140.6 189.2h0M148.2 186.7h0M174.9 189.2h0M178.7 189.4h0M163.0 187.0h0M151.4 186.6h0M165.8 189.4h0M150.9 188.5h0M147.1 187.4h0M144.2 187.1h0M149.3 189.4h0M161.2 189.3h0M160.8 187.6h0M162.9 188.7h0M138.5 188.2h0M140.9 187.6h0M142.3 188.0h0M153.5 185.8h0M163.4 188.4h0M147.7 175.1h0M152.8 177.3h0M170.2 184.2h0M147.0 188.9h0M170.4 188.8h0M158.1 183.2h0M146.0 184.4h0M147.5 183.3h0M158.4 185.9h0M148.5 185.4h0M148.7 188.7h0M149.9 176.6h0M158.3 176.2h0M142.7 175.0h0M157.9 178.4h0M160.5 180.4h0M149.6 179.2h0M147.1 187.3h0M143.2 185.5h0M158.8 186.9h0M170.7 189.0h0M160.7 187.6h0M161.3 178.5h0" stroke="#2f6767" stroke-width="4.00" stroke-linecap="round" fill="none" stroke-opacity="0.88"/>
<rect x="177.60" y="35.50" width="140.80" height="49.90" fill="#fff" stroke="#b5b5b5" stroke-width="0.8"/>
<circle cx="185.0" cy="44.8" r="2.90" fill="#8c619d"/>
<line x1="189.5" y1="44.9" x2="191.5" y2="44.9" stroke="#999" stroke-width="0.6"/>
<circle cx="185.0" cy="64.8" r="2.90" fill="#4a8686"/>
<line x1="189.5" y1="64.9" x2="191.5" y2="64.9" stroke="#999" stroke-width="0.6"/>
<text x="195.0" y="48.5" font-size="8.28" fill="#222" textLength="114.8" lengthAdjust="spacingAndGlyphs">Downregulated genes with enrichment</text>
<text x="195.0" y="58.3" font-size="8.28" fill="#222" textLength="77.2" lengthAdjust="spacingAndGlyphs">of H3K27me3 in promoter</text>
<text x="195.0" y="68.3" font-size="8.28" fill="#222" textLength="100.3" lengthAdjust="spacingAndGlyphs">Upregulated genes with depletion</text>
<text x="195.0" y="78.3" font-size="8.28" fill="#222" textLength="77.2" lengthAdjust="spacingAndGlyphs">of H3K27me3 in promoter</text>
<text x="410.1" y="31.0" font-size="11.48" fill="#7a2e4c" font-weight="bold" textLength="37.6" lengthAdjust="spacingAndGlyphs">WCM154</text>
<text x="469.3" y="31.0" font-size="11.48" fill="#7a4a8c" font-weight="bold" textLength="157.1" lengthAdjust="spacingAndGlyphs">GO analysis of downregulated genes</text>
<text x="469.3" y="43.5" font-size="11.48" fill="#7a4a8c" font-weight="bold" textLength="117.1" lengthAdjust="spacingAndGlyphs">with H3K27me3 enrichment</text>
<line x1="471.4" y1="60.4" x2="579.0" y2="60.4" stroke="#ececec" stroke-width="0.8"/>
<line x1="467.6" y1="60.4" x2="471.4" y2="60.4" stroke="#333" stroke-width="0.6"/>
<text x="414.6" y="62.8" font-size="7.12" fill="#111" font-weight="bold" textLength="52.2" lengthAdjust="spacingAndGlyphs">Cell cell signaling</text>
<line x1="471.4" y1="74.1" x2="579.0" y2="74.1" stroke="#ececec" stroke-width="0.8"/>
<line x1="467.6" y1="74.1" x2="471.4" y2="74.1" stroke="#333" stroke-width="0.6"/>
<text x="426.7" y="76.5" font-size="7.12" fill="#111" font-weight="bold" textLength="40.1" lengthAdjust="spacingAndGlyphs">Neurogenesis</text>
<line x1="471.4" y1="87.8" x2="579.0" y2="87.8" stroke="#ececec" stroke-width="0.8"/>
<line x1="467.6" y1="87.8" x2="471.4" y2="87.8" stroke="#333" stroke-width="0.6"/>
<text x="427.2" y="90.2" font-size="7.12" fill="#111" font-weight="bold" textLength="39.6" lengthAdjust="spacingAndGlyphs">Cell adhesion</text>
<line x1="471.4" y1="101.5" x2="579.0" y2="101.5" stroke="#ececec" stroke-width="0.8"/>
<line x1="467.6" y1="101.5" x2="471.4" y2="101.5" stroke="#333" stroke-width="0.6"/>
<text x="400.9" y="103.9" font-size="7.12" fill="#111" font-weight="bold" textLength="65.9" lengthAdjust="spacingAndGlyphs">Generation of neurons</text>
<line x1="471.4" y1="115.2" x2="579.0" y2="115.2" stroke="#ececec" stroke-width="0.8"/>
<line x1="467.6" y1="115.2" x2="471.4" y2="115.2" stroke="#333" stroke-width="0.6"/>
<text x="405.7" y="117.6" font-size="7.12" fill="#111" font-weight="bold" textLength="61.1" lengthAdjust="spacingAndGlyphs">Neuron development</text>
<line x1="471.4" y1="128.9" x2="579.0" y2="128.9" stroke="#ececec" stroke-width="0.8"/>
<line x1="467.6" y1="128.9" x2="471.4" y2="128.9" stroke="#333" stroke-width="0.6"/>
<text x="357.1" y="131.3" font-size="7.12" fill="#111" font-weight="bold" textLength="109.7" lengthAdjust="spacingAndGlyphs">Central nervous system development</text>
<line x1="471.4" y1="142.6" x2="579.0" y2="142.6" stroke="#ececec" stroke-width="0.8"/>
<line x1="467.6" y1="142.6" x2="471.4" y2="142.6" stroke="#333" stroke-width="0.6"/>
<text x="408.3" y="145.0" font-size="7.12" fill="#111" font-weight="bold" textLength="58.5" lengthAdjust="spacingAndGlyphs">Cell morphogenesis</text>
<line x1="471.4" y1="156.3" x2="579.0" y2="156.3" stroke="#ececec" stroke-width="0.8"/>
<line x1="467.6" y1="156.3" x2="471.4" y2="156.3" stroke="#333" stroke-width="0.6"/>
<text x="317.1" y="158.7" font-size="7.12" fill="#111" font-weight="bold" textLength="149.7" lengthAdjust="spacingAndGlyphs">Regulation of anatomical structure morphogenesis</text>
<line x1="471.4" y1="170.0" x2="579.0" y2="170.0" stroke="#ececec" stroke-width="0.8"/>
<line x1="467.6" y1="170.0" x2="471.4" y2="170.0" stroke="#333" stroke-width="0.6"/>
<text x="381.2" y="172.4" font-size="7.12" fill="#111" font-weight="bold" textLength="85.6" lengthAdjust="spacingAndGlyphs">Skeletal system development</text>
<line x1="471.4" y1="183.7" x2="579.0" y2="183.7" stroke="#ececec" stroke-width="0.8"/>
<line x1="467.6" y1="183.7" x2="471.4" y2="183.7" stroke="#333" stroke-width="0.6"/>
<text x="396.2" y="186.1" font-size="7.12" fill="#111" font-weight="bold" textLength="70.6" lengthAdjust="spacingAndGlyphs">Potassium ion transport</text>
<line x1="471.4" y1="52.0" x2="471.4" y2="192.8" stroke="#222" stroke-width="0.9"/>
<line x1="471.0" y1="192.5" x2="579.0" y2="192.5" stroke="#222" stroke-width="0.9"/>
<line x1="488.4" y1="192.5" x2="488.4" y2="194.5" stroke="#333" stroke-width="0.6"/>
<text x="485.2" y="200.6" font-size="6.10" fill="#222" textLength="6.4" lengthAdjust="spacingAndGlyphs">20</text>
<line x1="518.4" y1="192.5" x2="518.4" y2="194.5" stroke="#333" stroke-width="0.6"/>
<text x="515.2" y="200.6" font-size="6.10" fill="#222" textLength="6.4" lengthAdjust="spacingAndGlyphs">30</text>
<line x1="549.4" y1="192.5" x2="549.4" y2="194.5" stroke="#333" stroke-width="0.6"/>
<text x="546.2" y="200.6" font-size="6.10" fill="#222" textLength="6.4" lengthAdjust="spacingAndGlyphs">40</text>
<text x="508.1" y="208.0" font-size="7.85" fill="#111" font-weight="bold" textLength="34.3" lengthAdjust="spacingAndGlyphs">Gene count</text>
<circle cx="573.7" cy="59.4" r="4.90" fill="#c8aed2"/>
<circle cx="567.8" cy="73.5" r="4.60" fill="#c9b0d3"/>
<circle cx="558.6" cy="87.2" r="4.50" fill="#ccb3d6"/>
<circle cx="546.4" cy="101.3" r="3.80" fill="#c5a8ce"/>
<circle cx="528.1" cy="114.9" r="3.20" fill="#b992c3"/>
<circle cx="515.9" cy="128.6" r="1.20" fill="#c8aed1"/>
<circle cx="515.9" cy="142.4" r="2.30" fill="#bf9fc8"/>
<circle cx="512.7" cy="156.2" r="2.10" fill="#c2a4cb"/>
<circle cx="494.7" cy="170.2" r="2.20" fill="#a882b5"/>
<circle cx="476.3" cy="184.1" r="2.00" fill="#7b4a8e"/>
<text x="591.3" y="58.0" font-size="7.56" fill="#111" font-weight="bold" textLength="30.8" lengthAdjust="spacingAndGlyphs">Gene ratio</text>
<rect x="591.30" y="63.50" width="12.70" height="62.20" fill="url(#gpb)"/>
<text x="608.0" y="66.2" font-size="5.81" fill="#222" textLength="10.3" lengthAdjust="spacingAndGlyphs">0.08</text>
<line x1="591.3" y1="64.2" x2="593.3" y2="64.2" stroke="#fff" stroke-width="0.5"/>
<line x1="602.0" y1="64.2" x2="604.0" y2="64.2" stroke="#fff" stroke-width="0.5"/>
<text x="608.0" y="81.7" font-size="5.81" fill="#222" textLength="10.3" lengthAdjust="spacingAndGlyphs">0.06</text>
<line x1="591.3" y1="79.7" x2="593.3" y2="79.7" stroke="#fff" stroke-width="0.5"/>
<line x1="602.0" y1="79.7" x2="604.0" y2="79.7" stroke="#fff" stroke-width="0.5"/>
<text x="608.0" y="97.0" font-size="5.81" fill="#222" textLength="10.3" lengthAdjust="spacingAndGlyphs">0.04</text>
<line x1="591.3" y1="95.0" x2="593.3" y2="95.0" stroke="#fff" stroke-width="0.5"/>
<line x1="602.0" y1="95.0" x2="604.0" y2="95.0" stroke="#fff" stroke-width="0.5"/>
<text x="608.0" y="112.3" font-size="5.81" fill="#222" textLength="10.3" lengthAdjust="spacingAndGlyphs">0.02</text>
<line x1="591.3" y1="110.3" x2="593.3" y2="110.3" stroke="#fff" stroke-width="0.5"/>
<line x1="602.0" y1="110.3" x2="604.0" y2="110.3" stroke="#fff" stroke-width="0.5"/>
<text x="608.0" y="127.9" font-size="5.81" fill="#222" textLength="10.3" lengthAdjust="spacingAndGlyphs">0.00</text>
<line x1="591.3" y1="125.9" x2="593.3" y2="125.9" stroke="#fff" stroke-width="0.5"/>
<line x1="602.0" y1="125.9" x2="604.0" y2="125.9" stroke="#fff" stroke-width="0.5"/>
<text x="591.3" y="148.2" font-size="6.9" fill="#222" textLength="32.1" lengthAdjust="spacingAndGlyphs">-log<tspan font-size="4.6" dy="1.6">10</tspan><tspan dy="-1.6">(FDR)</tspan></text>
<circle cx="597.8" cy="159.4" r="2.80" fill="#000"/>
<text x="608.0" y="161.4" font-size="5.81" fill="#222" textLength="6.8" lengthAdjust="spacingAndGlyphs">10</text>
<circle cx="597.8" cy="172.1" r="4.00" fill="#000"/>
<text x="608.0" y="174.1" font-size="5.81" fill="#222" textLength="6.8" lengthAdjust="spacingAndGlyphs">12</text>
<circle cx="597.8" cy="184.5" r="4.90" fill="#000"/>
<text x="608.0" y="186.5" font-size="5.81" fill="#222" textLength="6.8" lengthAdjust="spacingAndGlyphs">14</text>
<text x="61.5" y="272.1" font-size="11.48" fill="#7a2e4c" font-weight="bold" textLength="37.8" lengthAdjust="spacingAndGlyphs">WCM154</text>
<text x="124.1" y="272.1" font-size="11.48" fill="#7a4a8c" font-weight="bold" textLength="188.8" lengthAdjust="spacingAndGlyphs">GSEA (C2) analysis of downregulated genes</text>
<text x="124.1" y="284.9" font-size="11.48" fill="#7a4a8c" font-weight="bold" textLength="117.3" lengthAdjust="spacingAndGlyphs">with H3K27me3 enrichment</text>
<line x1="157.1" y1="299.9" x2="262.5" y2="299.9" stroke="#ececec" stroke-width="0.8"/>
<line x1="154.2" y1="299.9" x2="157.1" y2="299.9" stroke="#333" stroke-width="0.6"/>
<text x="70.7" y="302.2" font-size="6.98" fill="#111" font-weight="bold" textLength="82.9" lengthAdjust="spacingAndGlyphs">Benporath es with h3k27me3</text>
<line x1="157.1" y1="314.0" x2="262.5" y2="314.0" stroke="#ececec" stroke-width="0.8"/>
<line x1="154.2" y1="314.0" x2="157.1" y2="314.0" stroke="#333" stroke-width="0.6"/>
<text x="13.6" y="316.3" font-size="6.98" fill="#111" font-weight="bold" textLength="140.0" lengthAdjust="spacingAndGlyphs">Meissner brain hcp with h3k4me3 and h3k27me3</text>
<line x1="157.1" y1="328.1" x2="262.5" y2="328.1" stroke="#ececec" stroke-width="0.8"/>
<line x1="154.2" y1="328.1" x2="157.1" y2="328.1" stroke="#333" stroke-width="0.6"/>
<text x="8.2" y="330.4" font-size="6.98" fill="#111" font-weight="bold" textLength="145.4" lengthAdjust="spacingAndGlyphs">Liu ovarian cancer tumors and xenografts xdgs dn</text>
<line x1="157.1" y1="342.2" x2="262.5" y2="342.2" stroke="#ececec" stroke-width="0.8"/>
<line x1="154.2" y1="342.2" x2="157.1" y2="342.2" stroke="#333" stroke-width="0.6"/>
<text x="83.1" y="344.5" font-size="6.98" fill="#111" font-weight="bold" textLength="70.5" lengthAdjust="spacingAndGlyphs">Benporath suz12 targets</text>
<line x1="157.1" y1="356.3" x2="262.5" y2="356.3" stroke="#ececec" stroke-width="0.8"/>
<line x1="154.2" y1="356.3" x2="157.1" y2="356.3" stroke="#333" stroke-width="0.6"/>
<text x="89.3" y="358.6" font-size="6.98" fill="#111" font-weight="bold" textLength="64.3" lengthAdjust="spacingAndGlyphs">Benporath eed targets</text>
<line x1="157.1" y1="370.4" x2="262.5" y2="370.4" stroke="#ececec" stroke-width="0.8"/>
<line x1="154.2" y1="370.4" x2="157.1" y2="370.4" stroke="#333" stroke-width="0.6"/>
<text x="55.1" y="372.7" font-size="6.98" fill="#111" font-weight="bold" textLength="98.5" lengthAdjust="spacingAndGlyphs">Mikkelsen mef hcp with h3k27me3</text>
<line x1="157.1" y1="384.5" x2="262.5" y2="384.5" stroke="#ececec" stroke-width="0.8"/>
<line x1="154.2" y1="384.5" x2="157.1" y2="384.5" stroke="#333" stroke-width="0.6"/>
<text x="87.3" y="386.8" font-size="6.98" fill="#111" font-weight="bold" textLength="66.3" lengthAdjust="spacingAndGlyphs">Benporath prc2 targets</text>
<line x1="157.1" y1="398.6" x2="262.5" y2="398.6" stroke="#ececec" stroke-width="0.8"/>
<line x1="154.2" y1="398.6" x2="157.1" y2="398.6" stroke="#333" stroke-width="0.6"/>
<text x="50.9" y="400.9" font-size="6.98" fill="#111" font-weight="bold" textLength="102.7" lengthAdjust="spacingAndGlyphs">Mikkelsen mcv6 hcp with h3k27me3</text>
<line x1="157.1" y1="412.7" x2="262.5" y2="412.7" stroke="#ececec" stroke-width="0.8"/>
<line x1="154.2" y1="412.7" x2="157.1" y2="412.7" stroke="#333" stroke-width="0.6"/>
<text x="55.1" y="415.0" font-size="6.98" fill="#111" font-weight="bold" textLength="98.5" lengthAdjust="spacingAndGlyphs">Mikkelsen npc hcp with h3k27me3</text>
<line x1="157.1" y1="426.8" x2="262.5" y2="426.8" stroke="#ececec" stroke-width="0.8"/>
<line x1="154.2" y1="426.8" x2="157.1" y2="426.8" stroke="#333" stroke-width="0.6"/>
<text x="17.9" y="429.1" font-size="6.98" fill="#111" font-weight="bold" textLength="135.7" lengthAdjust="spacingAndGlyphs">Meissner npc hcp with h3k4me2 and h3k27me3</text>
<line x1="157.1" y1="291.5" x2="157.1" y2="435.3" stroke="#222" stroke-width="0.9"/>
<line x1="156.7" y1="435.0" x2="262.5" y2="435.0" stroke="#222" stroke-width="0.9"/>
<line x1="176.3" y1="435.0" x2="176.3" y2="437.0" stroke="#333" stroke-width="0.6"/>
<text x="173.3" y="442.9" font-size="5.81" fill="#222" textLength="6.0" lengthAdjust="spacingAndGlyphs">30</text>
<line x1="202.0" y1="435.0" x2="202.0" y2="437.0" stroke="#333" stroke-width="0.6"/>
<text x="199.0" y="442.9" font-size="5.81" fill="#222" textLength="6.0" lengthAdjust="spacingAndGlyphs">40</text>
<line x1="225.7" y1="435.0" x2="225.7" y2="437.0" stroke="#333" stroke-width="0.6"/>
<text x="222.7" y="442.9" font-size="5.81" fill="#222" textLength="6.0" lengthAdjust="spacingAndGlyphs">50</text>
<line x1="249.8" y1="435.0" x2="249.8" y2="437.0" stroke="#333" stroke-width="0.6"/>
<text x="246.8" y="442.9" font-size="5.81" fill="#222" textLength="6.0" lengthAdjust="spacingAndGlyphs">60</text>
<text x="193.4" y="451.3" font-size="7.70" fill="#111" font-weight="bold" textLength="33.3" lengthAdjust="spacingAndGlyphs">Gene count</text>
<circle cx="257.2" cy="300.1" r="4.70" fill="#9a72a8"/>
<circle cx="250.1" cy="314.3" r="4.50" fill="#9c74aa"/>
<circle cx="230.7" cy="342.1" r="4.10" fill="#c1a3cb"/>
<circle cx="227.8" cy="356.3" r="4.00" fill="#ccb3d4"/>
<circle cx="201.5" cy="370.2" r="4.00" fill="#6c3a7d"/>
<circle cx="196.2" cy="384.4" r="3.50" fill="#a37eb1"/>
<circle cx="174.4" cy="398.6" r="2.60" fill="#7a4a8a"/>
<circle cx="164.5" cy="412.8" r="2.20" fill="#6c3c7d"/>
<circle cx="161.8" cy="427.0" r="1.20" fill="#7a4a8a"/>
<text x="274.8" y="292.8" font-size="7.41" fill="#111" font-weight="bold" textLength="28.9" lengthAdjust="spacingAndGlyphs">Gene ratio</text>
<rect x="274.80" y="297.30" width="11.80" height="61.60" fill="url(#gpc)"/>
<text x="291.1" y="303.6" font-size="5.67" fill="#222" textLength="11.9" lengthAdjust="spacingAndGlyphs">0.07</text>
<line x1="274.8" y1="301.7" x2="276.8" y2="301.7" stroke="#fff" stroke-width="0.5"/>
<line x1="284.6" y1="301.7" x2="286.6" y2="301.7" stroke="#fff" stroke-width="0.5"/>
<text x="291.1" y="318.9" font-size="5.67" fill="#222" textLength="11.9" lengthAdjust="spacingAndGlyphs">0.06</text>
<line x1="274.8" y1="317.0" x2="276.8" y2="317.0" stroke="#fff" stroke-width="0.5"/>
<line x1="284.6" y1="317.0" x2="286.6" y2="317.0" stroke="#fff" stroke-width="0.5"/>
<text x="291.1" y="333.7" font-size="5.67" fill="#222" textLength="11.9" lengthAdjust="spacingAndGlyphs">0.05</text>
<line x1="274.8" y1="331.8" x2="276.8" y2="331.8" stroke="#fff" stroke-width="0.5"/>
<line x1="284.6" y1="331.8" x2="286.6" y2="331.8" stroke="#fff" stroke-width="0.5"/>
<text x="291.1" y="349.0" font-size="5.67" fill="#222" textLength="11.9" lengthAdjust="spacingAndGlyphs">0.04</text>
<line x1="274.8" y1="347.1" x2="276.8" y2="347.1" stroke="#fff" stroke-width="0.5"/>
<line x1="284.6" y1="347.1" x2="286.6" y2="347.1" stroke="#fff" stroke-width="0.5"/>
<text x="274.8" y="383.5" font-size="6.8" fill="#222" textLength="30.2" lengthAdjust="spacingAndGlyphs">-log<tspan font-size="4.5" dy="1.6">10</tspan><tspan dy="-1.6">(FDR)</tspan></text>
<circle cx="280.6" cy="395.7" r="2.50" fill="#000"/>
<text x="291.1" y="397.7" font-size="5.67" fill="#222" textLength="5.9" lengthAdjust="spacingAndGlyphs">20</text>
<circle cx="280.6" cy="408.3" r="3.30" fill="#000"/>
<text x="291.1" y="410.3" font-size="5.67" fill="#222" textLength="5.9" lengthAdjust="spacingAndGlyphs">25</text>
<circle cx="280.6" cy="421.2" r="3.90" fill="#000"/>
<text x="291.1" y="423.2" font-size="5.67" fill="#222" textLength="5.9" lengthAdjust="spacingAndGlyphs">30</text>
<circle cx="280.6" cy="433.8" r="4.60" fill="#000"/>
<text x="291.1" y="435.8" font-size="5.67" fill="#222" textLength="5.9" lengthAdjust="spacingAndGlyphs">35</text>
<text x="370.7" y="263.6" font-size="11.34" fill="#7a2e4c" font-weight="bold" textLength="37.2" lengthAdjust="spacingAndGlyphs">WCM154</text>
<text x="416.2" y="276.6" font-size="10.61" fill="#f05a28" font-weight="bold" textLength="45.3" lengthAdjust="spacingAndGlyphs">H3K27me3</text>
<text x="579.7" y="279.8" font-size="11.19" fill="#4a66b8" font-weight="bold" textLength="40.1" lengthAdjust="spacingAndGlyphs">H3K4me3</text>
<text x="386.7" y="290.9" font-size="10.17" fill="#000" textLength="27.8" lengthAdjust="spacingAndGlyphs">sgGFP</text>
<text x="455.0" y="290.8" font-size="10.17" fill="#000" textLength="39.4" lengthAdjust="spacingAndGlyphs">sgDNMT1</text>
<text x="551.7" y="291.7" font-size="10.17" fill="#000" textLength="27.3" lengthAdjust="spacingAndGlyphs">sgGFP</text>
<text x="619.5" y="291.6" font-size="10.17" fill="#000" textLength="39.2" lengthAdjust="spacingAndGlyphs">sgDNMT1</text>
<line x1="524.8" y1="259.8" x2="541.4" y2="259.8" stroke="#2d7372" stroke-width="1.3"/>
<text x="545.8" y="262.6" font-size="7.99" fill="#2d7372" font-weight="bold" textLength="39.1" lengthAdjust="spacingAndGlyphs">Upregulated</text>
<line x1="602.5" y1="260.0" x2="618.8" y2="260.0" stroke="#7a4a8c" stroke-width="1.3"/>
<text x="622.2" y="262.6" font-size="7.99" fill="#6e4280" font-weight="bold" textLength="48.0" lengthAdjust="spacingAndGlyphs">Downregulated</text>
<rect x="368.30" y="296.00" width="69.30" height="50.60" fill="#fff" stroke="#555" stroke-width="0.8"/>
<line x1="385.8" y1="346.6" x2="385.8" y2="348.2" stroke="#555" stroke-width="0.6"/>
<line x1="419.6" y1="346.6" x2="419.6" y2="348.2" stroke="#555" stroke-width="0.6"/>
<line x1="385.8" y1="296.0" x2="385.8" y2="294.8" stroke="#bbb" stroke-width="0.5"/>
<line x1="419.6" y1="296.0" x2="419.6" y2="294.8" stroke="#bbb" stroke-width="0.5"/>
<rect x="440.20" y="296.00" width="69.70" height="50.60" fill="#fff" stroke="#555" stroke-width="0.8"/>
<line x1="457.5" y1="346.6" x2="457.5" y2="348.2" stroke="#555" stroke-width="0.6"/>
<line x1="492.0" y1="346.6" x2="492.0" y2="348.2" stroke="#555" stroke-width="0.6"/>
<line x1="457.5" y1="296.0" x2="457.5" y2="294.8" stroke="#bbb" stroke-width="0.5"/>
<line x1="492.0" y1="296.0" x2="492.0" y2="294.8" stroke="#bbb" stroke-width="0.5"/>
<rect x="529.60" y="295.50" width="67.90" height="51.50" fill="#fff" stroke="#555" stroke-width="0.8"/>
<line x1="563.7" y1="347.0" x2="563.7" y2="348.6" stroke="#555" stroke-width="0.6"/>
<line x1="563.7" y1="295.5" x2="563.7" y2="294.3" stroke="#bbb" stroke-width="0.5"/>
<rect x="601.10" y="295.50" width="69.10" height="51.50" fill="#fff" stroke="#555" stroke-width="0.8"/>
<line x1="635.6" y1="347.0" x2="635.6" y2="348.6" stroke="#555" stroke-width="0.6"/>
<line x1="635.6" y1="295.5" x2="635.6" y2="294.3" stroke="#bbb" stroke-width="0.5"/>
<text x="359.0" y="306.9" font-size="5.52" fill="#222" textLength="5.8" lengthAdjust="spacingAndGlyphs">2.5</text>
<line x1="366.0" y1="305.0" x2="368.3" y2="305.0" stroke="#555" stroke-width="0.5"/>
<text x="359.0" y="317.6" font-size="5.52" fill="#222" textLength="5.8" lengthAdjust="spacingAndGlyphs">2.0</text>
<line x1="366.0" y1="315.7" x2="368.3" y2="315.7" stroke="#555" stroke-width="0.5"/>
<text x="359.0" y="328.4" font-size="5.52" fill="#222" textLength="5.8" lengthAdjust="spacingAndGlyphs">1.5</text>
<line x1="366.0" y1="326.5" x2="368.3" y2="326.5" stroke="#555" stroke-width="0.5"/>
<text x="359.0" y="339.2" font-size="5.52" fill="#222" textLength="5.8" lengthAdjust="spacingAndGlyphs">1.0</text>
<line x1="366.0" y1="337.3" x2="368.3" y2="337.3" stroke="#555" stroke-width="0.5"/>
<line x1="437.9" y1="305.0" x2="440.2" y2="305.0" stroke="#555" stroke-width="0.5"/>
<line x1="437.9" y1="315.7" x2="440.2" y2="315.7" stroke="#555" stroke-width="0.5"/>
<line x1="437.9" y1="326.5" x2="440.2" y2="326.5" stroke="#555" stroke-width="0.5"/>
<line x1="437.9" y1="337.3" x2="440.2" y2="337.3" stroke="#555" stroke-width="0.5"/>
<text x="522.4" y="303.8" font-size="5.52" fill="#222" textLength="4.6" lengthAdjust="spacingAndGlyphs">10</text>
<line x1="527.4" y1="301.9" x2="529.6" y2="301.9" stroke="#555" stroke-width="0.5"/>
<text x="521.4" y="315.4" font-size="5.52" fill="#222" textLength="5.6" lengthAdjust="spacingAndGlyphs">7.5</text>
<line x1="527.4" y1="313.5" x2="529.6" y2="313.5" stroke="#555" stroke-width="0.5"/>
<text x="524.5" y="327.3" font-size="5.52" fill="#222" textLength="2.5" lengthAdjust="spacingAndGlyphs">5</text>
<line x1="527.4" y1="325.4" x2="529.6" y2="325.4" stroke="#555" stroke-width="0.5"/>
<text x="521.4" y="339.3" font-size="5.52" fill="#222" textLength="5.6" lengthAdjust="spacingAndGlyphs">2.5</text>
<line x1="527.4" y1="337.4" x2="529.6" y2="337.4" stroke="#555" stroke-width="0.5"/>
<line x1="598.8" y1="301.9" x2="601.1" y2="301.9" stroke="#555" stroke-width="0.5"/>
<line x1="598.8" y1="313.5" x2="601.1" y2="313.5" stroke="#555" stroke-width="0.5"/>
<line x1="598.8" y1="325.4" x2="601.1" y2="325.4" stroke="#555" stroke-width="0.5"/>
<line x1="598.8" y1="337.4" x2="601.1" y2="337.4" stroke="#555" stroke-width="0.5"/>
<polyline points="368.2,325.1 369.2,324.6 370.1,324.4 371.0,324.3 371.9,324.3 372.7,323.9 373.5,324.3 374.4,324.5 375.2,324.7 376.0,324.6 376.8,324.9 377.6,324.9 378.5,325.2 379.4,324.5 380.4,324.8 381.4,324.3 382.4,324.7 383.3,325.1 384.3,325.6 385.2,327.0 386.1,328.0 387.0,328.9 388.0,330.1 388.9,330.4 389.8,330.9 390.7,331.4 391.6,332.0 392.5,332.4 393.4,332.4 394.3,332.4 395.3,332.3 396.2,332.2 397.1,332.1 398.0,332.0 398.9,331.7 399.8,332.0 400.7,332.2 401.6,332.8 402.6,333.2 403.5,333.4 404.5,333.2 405.5,333.6 406.6,332.0 407.7,330.4 408.6,331.1 409.5,331.2 410.4,331.5 411.3,331.4 412.2,331.3 413.1,330.9 413.9,330.5 414.8,330.0 415.7,329.6 416.6,329.2 417.4,328.8 418.3,328.3 419.2,328.2 420.1,327.8 420.9,327.5 421.7,326.8 422.6,326.8 423.4,326.2 424.2,326.0 425.1,325.2 425.9,325.3 426.7,325.0 427.6,324.6 428.4,324.7 429.2,324.2 430.1,324.1 430.9,324.0 431.8,323.7 432.6,323.7 433.5,323.8 434.4,323.6 435.3,323.5 436.1,323.2 437.6,323.9" fill="none" stroke="#8a5a9c" stroke-width="0.9" stroke-linejoin="round"/>
<polyline points="368.2,324.4 369.2,324.0 370.2,323.4 371.2,323.1 372.0,323.3 372.8,323.3 373.6,323.5 374.5,324.0 375.3,324.4 376.1,324.4 376.9,324.8 377.7,325.2 378.6,325.9 379.4,326.2 380.2,327.2 381.1,327.7 381.9,328.5 382.7,329.6 383.6,330.1 384.5,330.4 385.4,330.5 386.3,330.6 387.2,330.7 388.1,331.5 389.0,332.5 389.9,333.1 390.7,333.7 391.6,334.3 392.6,334.2 393.6,334.1 394.5,333.8 395.4,333.5 396.4,333.2 397.3,332.5 398.2,332.4 399.1,332.3 399.9,332.8 400.8,332.6 401.7,332.8 402.6,333.3 403.4,333.1 404.3,333.2 405.2,333.7 406.1,333.7 406.9,334.0 407.9,334.2 408.9,334.8 409.9,335.5 410.7,335.5 411.6,335.9 412.4,335.7 413.3,336.2 414.1,336.1 415.0,336.4 415.8,335.7 416.7,335.4 417.5,335.3 418.4,334.6 419.2,334.4 420.1,333.7 420.9,333.3 421.7,332.8 422.6,332.6 423.4,332.3 424.2,331.7 425.1,331.2 425.9,331.1 426.7,330.6 427.6,329.9 428.4,329.1 429.2,328.9 430.1,328.2 430.9,328.0 431.8,327.2 432.6,327.0 433.4,326.6 434.3,326.1 435.1,325.8 435.9,325.5 436.8,325.3 437.6,324.7" fill="none" stroke="#2f7c78" stroke-width="0.9" stroke-linejoin="round"/>
<polyline points="440.5,304.4 441.4,304.5 442.3,304.9 443.1,304.6 444.0,305.6 444.9,306.1 445.8,306.6 446.6,305.6 447.5,304.9 448.4,304.1 449.2,303.5 450.0,303.0 450.9,302.1 451.7,301.7 452.6,301.0 453.4,300.8 454.3,300.2 455.3,298.9 456.3,298.3 457.3,299.3 458.3,300.0 459.2,303.5 460.2,306.9 461.1,308.4 462.0,309.8 462.9,311.5 463.7,311.9 464.6,312.7 465.5,313.3 466.4,313.8 467.2,313.9 468.1,314.2 469.1,313.5 470.1,312.6 471.1,313.9 472.0,314.8 473.4,316.7 474.2,316.1 475.1,315.6 476.0,315.4 476.9,315.3 477.7,315.0 478.6,314.6 479.6,312.9 480.6,311.4 481.6,312.2 482.6,312.5 483.5,313.2 484.5,313.2 485.5,312.5 486.5,311.6 487.5,310.2 488.5,308.7 489.5,308.7 490.4,308.3 491.4,306.3 492.4,304.7 493.2,304.6 494.1,303.7 494.9,303.3 495.7,302.8 496.6,302.7 497.5,302.9 498.3,303.1 499.2,303.3 500.0,303.7 500.8,303.6 501.6,303.8 502.4,304.2 503.3,304.1 504.1,304.5 504.9,304.5 505.8,304.6 506.7,304.3 507.5,304.3 508.5,305.0 509.5,305.2" fill="none" stroke="#8a5a9c" stroke-width="0.9" stroke-linejoin="round"/>
<polyline points="440.5,337.0 441.4,337.0 442.3,336.9 443.1,336.9 444.1,336.9 445.1,337.1 446.1,337.7 447.1,337.7 448.1,337.5 449.1,337.5 450.0,337.3 451.0,337.4 452.0,337.5 453.0,338.3 454.0,338.6 455.0,338.9 456.0,339.6 456.9,339.7 457.9,340.1 458.9,340.5 459.7,341.0 460.6,341.3 461.4,341.5 462.2,341.6 463.1,342.2 463.9,342.3 464.8,342.8 465.6,342.8 466.5,342.8 467.3,342.5 468.1,342.4 469.1,342.6 470.1,342.5 471.1,343.0 472.0,343.1 473.0,342.9 474.0,343.1 475.0,343.4 476.0,343.2 477.0,343.2 478.0,343.6 478.9,343.5 479.9,343.6 480.8,343.9 481.7,344.2 482.6,344.1 483.4,344.0 484.3,343.8 485.2,343.8 486.1,344.1 486.9,344.6 487.8,344.7 488.7,344.2 489.6,343.7 490.4,343.4 491.4,342.9 492.4,342.8 493.4,342.5 494.4,342.2 495.4,341.7 496.4,341.9 497.3,341.8 498.3,341.6 499.2,341.3 500.0,340.8 500.8,340.3 501.6,339.8 502.5,339.3 503.4,339.0 504.2,338.1 505.1,338.4 505.9,338.4 506.7,338.4 507.5,338.2 508.5,338.4 509.5,339.0" fill="none" stroke="#2f7c78" stroke-width="0.9" stroke-linejoin="round"/>
<path d="M529.40,344.26 C530.72,343.92 534.64,343.62 537.32,342.21 C540.01,340.80 543.24,337.96 545.52,335.79 C547.80,333.63 549.16,331.92 550.98,329.23 C552.81,326.55 554.63,322.86 556.45,319.67 C558.27,316.48 560.32,313.07 561.91,310.11 C563.51,307.15 564.76,303.96 566.01,301.91 C567.26,299.86 568.29,298.16 569.43,297.81 C570.56,297.47 572.04,299.18 572.84,299.86 C573.64,300.55 572.84,300.20 574.21,301.91 C575.57,303.62 578.99,307.60 581.04,310.11 C583.09,312.61 584.68,314.66 586.50,316.94 C588.32,319.22 590.15,321.77 591.97,323.77 C593.79,325.77 596.52,328.10 597.43,328.96" fill="none" stroke="#8a5a9c" stroke-width="0.9"/>
<path d="M529.40,343.58 C530.72,343.24 534.64,342.90 537.32,341.53 C540.01,340.16 543.24,337.43 545.52,335.38 C547.80,333.33 549.16,331.85 550.98,329.23 C552.81,326.62 554.63,322.86 556.45,319.67 C558.27,316.48 560.32,313.07 561.91,310.11 C563.51,307.15 564.76,303.96 566.01,301.91 C567.26,299.86 568.29,298.16 569.43,297.81 C570.56,297.47 571.59,298.50 572.84,299.86 C574.09,301.23 575.57,303.62 576.94,306.01 C578.31,308.40 579.44,311.25 581.04,314.21 C582.63,317.17 584.68,320.81 586.50,323.77 C588.32,326.73 590.15,329.96 591.97,331.97 C593.79,333.97 596.52,335.15 597.43,335.79" fill="none" stroke="#2f7c78" stroke-width="0.9"/>
<path d="M601.10,345.01 C602.71,344.78 607.57,344.43 610.80,343.62 C614.04,342.81 617.51,341.66 620.51,340.15 C623.52,338.65 626.29,336.57 628.83,334.60 C631.38,332.64 633.74,329.94 635.77,328.36 C637.80,326.79 639.42,325.40 641.04,325.17 C642.66,324.94 643.81,325.87 645.48,326.98 C647.14,328.09 649.18,330.56 651.03,331.83 C652.88,333.10 654.49,333.56 656.57,334.60 C658.65,335.64 661.24,337.03 663.51,338.07 C665.77,339.11 669.06,340.38 670.17,340.85" fill="none" stroke="#8a5a9c" stroke-width="0.9"/>
<path d="M601.10,343.62 C602.71,343.16 607.57,342.12 610.80,340.85 C614.04,339.57 617.51,338.19 620.51,335.99 C623.52,333.80 626.52,330.67 628.83,327.67 C631.15,324.66 632.76,320.74 634.38,317.96 C636.00,315.19 637.27,312.92 638.54,311.03 C639.82,309.13 640.86,307.05 642.01,306.59 C643.17,306.13 643.98,306.59 645.48,308.25 C646.98,309.92 649.18,313.80 651.03,316.57 C652.88,319.35 654.72,322.47 656.57,324.90 C658.42,327.32 659.86,329.06 662.12,331.14 C664.39,333.22 668.83,336.34 670.17,337.38" fill="none" stroke="#2f7c78" stroke-width="0.9"/>
<rect x="367.50" y="350.00" width="70.10" height="105.50" fill="#fff"/>
<svg x="367.5" y="350.0" width="70.1" height="105.5" viewBox="367.5 350.0 70.1 105.5" overflow="hidden"><g filter="url(#hb)"><path d="M387.4 370.9h16.9v1h-16.9zM367.5 387.8h10.8v1h-10.8zM378.3 387.8h27.9v1h-27.9zM406.2 387.8h8.8v1h-8.8zM415.0 387.8h22.6v1h-22.6zM367.5 390.8h22.8v1h-22.8zM390.3 390.8h10.4v1h-10.4zM400.7 390.8h23.7v1h-23.7zM424.4 390.8h13.2v1h-13.2zM367.5 397.8h17.3v1h-17.3zM384.8 397.8h17.9v1h-17.9zM402.7 397.8h7.4v1h-7.4zM380.3 398.8h13.1v1h-13.1zM393.4 398.8h11.9v1h-11.9zM392.3 402.8h14.6v1h-14.6zM394.8 404.7h15.0v1h-15.0zM409.7 404.7h11.1v1h-11.1zM388.5 405.7h11.1v1h-11.1zM399.6 405.7h12.2v1h-12.2zM411.8 405.7h14.9v1h-14.9zM426.6 405.7h11.0v1h-11.0zM392.1 406.7h7.9v1h-7.9zM387.1 411.7h21.6v1h-21.6zM408.7 411.7h7.5v1h-7.5zM416.3 411.7h21.3v1h-21.3zM367.5 412.7h8.0v1h-8.0zM375.5 412.7h9.5v1h-9.5zM385.0 412.7h21.6v1h-21.6zM406.6 412.7h11.3v1h-11.3zM417.9 412.7h19.7v1h-19.7zM389.6 413.7h18.9v1h-18.9zM392.1 416.7h7.5v1h-7.5zM419.6 416.7h6.9v1h-6.9zM367.5 417.7h11.4v1h-11.4zM378.9 417.7h12.7v1h-12.7zM391.6 417.7h24.2v1h-24.2zM367.5 421.7h24.5v1h-24.5zM392.0 421.7h25.7v1h-25.7zM417.7 421.7h19.9v1h-19.9zM367.5 422.7h17.5v1h-17.5zM385.0 422.7h28.9v1h-28.9zM414.0 422.7h23.6v1h-23.6zM386.7 423.7h18.6v1h-18.6zM382.1 424.6h8.5v1h-8.5zM390.7 424.6h17.1v1h-17.1zM407.8 424.6h25.9v1h-25.9zM433.7 424.6h3.9v1h-3.9zM367.5 425.6h17.0v1h-17.0zM384.5 425.6h29.8v1h-29.8zM382.9 426.6h12.2v1h-12.2zM395.1 426.6h23.6v1h-23.6zM384.0 427.6h23.0v1h-23.0zM422.6 427.6h15.0v1h-15.0zM367.5 428.6h15.8v1h-15.8zM383.3 428.6h28.1v1h-28.1zM411.4 428.6h18.3v1h-18.3zM367.5 429.6h6.4v1h-6.4zM396.7 429.6h25.0v1h-25.0zM421.6 429.6h16.0v1h-16.0zM367.5 430.6h8.6v1h-8.6zM376.1 430.6h18.2v1h-18.2zM394.3 430.6h25.8v1h-25.8zM420.1 430.6h9.8v1h-9.8zM429.9 430.6h7.7v1h-7.7zM390.6 431.6h18.4v1h-18.4zM409.0 431.6h28.6v1h-28.6zM379.8 433.6h29.8v1h-29.8zM409.7 433.6h20.4v1h-20.4zM393.4 434.6h19.1v1h-19.1zM412.6 434.6h6.8v1h-6.8zM391.2 435.6h20.2v1h-20.2zM411.4 435.6h6.4v1h-6.4zM417.8 435.6h19.8v1h-19.8zM367.5 436.6h18.5v1h-18.5zM386.0 436.6h19.6v1h-19.6zM405.6 436.6h21.4v1h-21.4zM427.0 436.6h10.6v1h-10.6zM387.1 438.6h18.6v1h-18.6zM422.1 438.6h15.5v1h-15.5zM387.8 439.6h13.3v1h-13.3zM401.2 439.6h7.7v1h-7.7zM425.6 439.6h12.0v1h-12.0zM380.9 440.6h11.7v1h-11.7zM392.5 440.6h27.9v1h-27.9zM367.5 441.6h23.9v1h-23.9zM419.1 441.6h18.5v1h-18.5zM367.5 445.5h21.2v1h-21.2zM388.7 445.5h27.1v1h-27.1zM390.2 446.5h16.7v1h-16.7zM406.9 446.5h11.4v1h-11.4zM367.5 447.5h25.0v1h-25.0zM392.5 447.5h21.9v1h-21.9zM414.4 447.5h20.2v1h-20.2zM434.5 447.5h3.1v1h-3.1zM375.7 448.5h16.6v1h-16.6zM411.0 448.5h20.4v1h-20.4zM367.5 449.5h11.9v1h-11.9zM398.6 449.5h27.5v1h-27.5zM426.1 449.5h6.8v1h-6.8zM432.9 449.5h4.7v1h-4.7zM386.8 450.5h14.6v1h-14.6zM401.5 450.5h24.8v1h-24.8zM387.6 451.5h11.6v1h-11.6zM399.3 451.5h24.6v1h-24.6zM423.8 451.5h13.8v1h-13.8zM367.5 452.5h18.0v1h-18.0zM385.5 452.5h20.3v1h-20.3zM405.8 452.5h19.7v1h-19.7zM425.5 452.5h12.1v1h-12.1zM409.3 453.5h28.3v1h-28.3zM367.5 454.5h9.5v1h-9.5zM377.0 454.5h7.0v1h-7.0zM384.0 454.5h20.9v1h-20.9zM404.9 454.5h12.4v1h-12.4zM417.3 454.5h8.1v1h-8.1zM425.4 454.5h12.2v1h-12.2z" fill="#f05a28" fill-opacity="0.05"/><path d="M388.2 366.9h12.1v1h-12.1zM380.9 370.9h6.5v1h-6.5zM404.3 370.9h25.9v1h-25.9zM430.2 370.9h7.4v1h-7.4zM388.0 380.9h29.3v1h-29.3zM395.3 388.8h19.6v1h-19.6zM390.9 393.8h17.3v1h-17.3zM397.8 395.8h15.6v1h-15.6zM397.4 396.8h25.4v1h-25.4zM410.1 397.8h16.1v1h-16.1zM426.2 397.8h11.4v1h-11.4zM405.3 398.8h9.8v1h-9.8zM430.4 398.8h7.2v1h-7.2zM388.0 400.8h21.0v1h-21.0zM409.0 400.8h10.9v1h-10.9zM406.9 402.8h22.4v1h-22.4zM397.0 403.7h27.1v1h-27.1zM367.5 404.7h8.1v1h-8.1zM375.6 404.7h19.2v1h-19.2zM367.5 405.7h21.0v1h-21.0zM400.0 406.7h19.5v1h-19.5zM383.1 409.7h27.5v1h-27.5zM392.6 410.7h26.1v1h-26.1zM367.5 411.7h19.6v1h-19.6zM367.5 413.7h22.1v1h-22.1zM393.5 414.7h29.0v1h-29.0zM377.0 415.7h29.8v1h-29.8zM406.8 415.7h10.0v1h-10.0zM367.5 416.7h24.6v1h-24.6zM399.6 416.7h20.0v1h-20.0zM426.5 416.7h11.1v1h-11.1zM415.8 417.7h21.8v1h-21.8zM367.5 418.7h27.9v1h-27.9zM395.4 418.7h19.1v1h-19.1zM414.6 418.7h17.6v1h-17.6zM385.9 419.7h29.8v1h-29.8zM415.6 419.7h11.7v1h-11.7zM367.5 420.7h9.8v1h-9.8zM377.3 420.7h13.7v1h-13.7zM391.0 420.7h26.9v1h-26.9zM375.7 423.7h11.0v1h-11.0zM405.3 423.7h26.0v1h-26.0zM431.3 423.7h6.3v1h-6.3zM367.5 424.6h14.6v1h-14.6zM414.3 425.6h11.0v1h-11.0zM425.3 425.6h12.3v1h-12.3zM367.5 426.6h15.4v1h-15.4zM418.6 426.6h19.0v1h-19.0zM367.5 427.6h8.2v1h-8.2zM375.7 427.6h8.3v1h-8.3zM407.0 427.6h15.7v1h-15.7zM429.6 428.6h8.0v1h-8.0zM373.9 429.6h22.8v1h-22.8zM367.5 431.6h23.1v1h-23.1zM367.5 432.6h8.0v1h-8.0zM375.5 432.6h19.8v1h-19.8zM395.3 432.6h13.9v1h-13.9zM409.2 432.6h14.7v1h-14.7zM367.5 433.6h12.3v1h-12.3zM430.1 433.6h7.5v1h-7.5zM367.5 434.6h25.9v1h-25.9zM367.5 435.6h23.7v1h-23.7zM383.4 437.6h22.5v1h-22.5zM405.9 437.6h24.0v1h-24.0zM405.7 438.6h16.4v1h-16.4zM367.5 439.6h20.3v1h-20.3zM408.8 439.6h16.7v1h-16.7zM367.5 440.6h13.4v1h-13.4zM420.4 440.6h17.2v1h-17.2zM415.8 445.5h8.5v1h-8.5zM424.3 445.5h13.3v1h-13.3zM418.2 446.5h19.4v1h-19.4zM367.5 448.5h8.2v1h-8.2zM431.4 448.5h6.2v1h-6.2zM367.5 450.5h19.3v1h-19.3zM426.3 450.5h11.3v1h-11.3zM367.5 451.5h10.2v1h-10.2zM377.7 451.5h10.0v1h-10.0z" fill="#f05a28" fill-opacity="0.1"/><path d="M380.5 360.0h23.3v1h-23.3zM400.8 360.9h19.7v1h-19.7zM411.5 369.9h16.9v1h-16.9zM367.5 380.9h20.5v1h-20.5zM367.5 388.8h8.5v1h-8.5zM367.5 398.8h12.8v1h-12.8zM415.0 398.8h15.4v1h-15.4zM367.5 400.8h20.5v1h-20.5zM419.9 400.8h17.7v1h-17.7zM395.9 401.8h18.7v1h-18.7zM367.5 402.8h24.8v1h-24.8zM429.4 402.8h8.2v1h-8.2zM420.8 404.7h16.8v1h-16.8zM367.5 406.7h16.3v1h-16.3zM419.5 406.7h18.1v1h-18.1zM390.5 408.7h28.0v1h-28.0zM367.5 410.7h25.1v1h-25.1zM428.9 410.7h8.7v1h-8.7zM408.5 413.7h23.0v1h-23.0zM431.5 413.7h6.1v1h-6.1zM416.8 415.7h16.2v1h-16.2zM433.0 415.7h4.6v1h-4.6zM432.2 418.7h5.4v1h-5.4zM367.5 419.7h18.4v1h-18.4zM427.3 419.7h10.3v1h-10.3zM367.5 423.7h8.2v1h-8.2zM423.9 432.6h9.0v1h-9.0zM432.9 432.6h4.7v1h-4.7zM419.4 434.6h18.2v1h-18.2zM367.5 437.6h15.9v1h-15.9zM430.0 437.6h7.6v1h-7.6zM367.5 438.6h19.6v1h-19.6zM367.5 446.5h22.7v1h-22.7z" fill="#f05a28" fill-opacity="0.15"/><path d="M392.8 356.0h27.2v1h-27.2zM405.4 359.0h16.1v1h-16.1zM390.6 360.9h10.2v1h-10.2zM393.6 365.9h24.0v1h-24.0zM400.4 366.9h13.2v1h-13.2zM413.6 366.9h10.9v1h-10.9zM393.6 368.9h23.1v1h-23.1zM416.7 368.9h12.6v1h-12.6zM385.4 369.9h26.1v1h-26.1zM396.2 374.9h21.6v1h-21.6zM394.7 376.9h17.7v1h-17.7zM391.8 378.9h21.3v1h-21.3zM432.9 380.9h4.7v1h-4.7zM388.4 383.8h23.5v1h-23.5zM397.1 384.8h21.3v1h-21.3zM393.0 385.8h13.6v1h-13.6zM391.5 386.8h26.0v1h-26.0zM414.9 388.8h10.4v1h-10.4zM396.3 389.8h24.4v1h-24.4zM403.6 392.8h25.6v1h-25.6zM383.2 393.8h7.7v1h-7.7zM389.3 394.8h18.8v1h-18.8zM374.0 395.8h23.7v1h-23.7zM395.2 399.8h17.5v1h-17.5zM367.5 401.8h12.3v1h-12.3zM379.8 401.8h16.1v1h-16.1zM414.6 401.8h23.0v1h-23.0zM424.1 403.7h7.5v1h-7.5zM383.8 406.7h8.3v1h-8.3zM367.5 407.7h21.9v1h-21.9zM389.4 407.7h13.3v1h-13.3zM402.7 407.7h22.7v1h-22.7zM410.6 409.7h14.7v1h-14.7zM418.7 410.7h10.2v1h-10.2zM367.5 414.7h26.0v1h-26.0zM422.5 414.7h15.1v1h-15.1zM417.9 420.7h19.7v1h-19.7z" fill="#f05a28" fill-opacity="0.2"/><path d="M385.1 358.0h26.8v1h-26.8zM403.8 360.0h11.5v1h-11.5zM389.5 367.9h16.3v1h-16.3zM429.3 368.9h8.3v1h-8.3zM367.5 369.9h17.9v1h-17.9zM367.5 370.9h13.4v1h-13.4zM389.2 371.9h29.0v1h-29.0zM429.0 371.9h8.6v1h-8.6zM367.5 379.9h27.6v1h-27.6zM395.1 379.9h26.4v1h-26.4zM417.3 380.9h15.6v1h-15.6zM386.2 384.8h10.9v1h-10.9zM379.2 386.8h12.2v1h-12.2zM376.0 388.8h19.2v1h-19.2zM392.7 391.8h26.7v1h-26.7zM379.7 392.8h23.9v1h-23.9zM408.2 393.8h14.5v1h-14.5zM422.7 393.8h14.9v1h-14.9zM413.4 395.8h10.7v1h-10.7zM424.1 395.8h8.4v1h-8.4zM367.5 396.8h29.9v1h-29.9zM412.7 399.8h11.8v1h-11.8zM431.6 403.7h6.0v1h-6.0zM425.3 407.7h12.3v1h-12.3zM367.5 408.7h23.0v1h-23.0zM418.6 408.7h19.0v1h-19.0zM425.2 409.7h12.4v1h-12.4zM367.5 415.7h9.5v1h-9.5z" fill="#f05a28" fill-opacity="0.25"/><path d="M392.6 355.0h19.4v1h-19.4zM403.2 357.0h13.1v1h-13.1zM378.2 359.0h27.2v1h-27.2zM389.9 363.9h26.9v1h-26.9zM380.0 372.9h22.7v1h-22.7zM395.1 375.9h29.5v1h-29.5zM392.4 377.9h9.6v1h-9.6zM421.5 379.9h16.1v1h-16.1zM383.4 381.8h28.2v1h-28.2zM378.1 382.8h28.2v1h-28.2zM406.3 382.8h24.7v1h-24.7zM367.5 384.8h18.7v1h-18.7zM406.5 385.8h31.1v1h-31.1zM417.4 386.8h20.2v1h-20.2zM432.5 395.8h5.1v1h-5.1zM422.8 396.8h14.8v1h-14.8zM367.5 399.8h27.7v1h-27.7zM367.5 403.7h29.5v1h-29.5z" fill="#f05a28" fill-opacity="0.3"/><path d="M373.9 360.9h16.7v1h-16.7zM387.5 361.9h6.8v1h-6.8zM424.5 366.9h13.1v1h-13.1zM367.5 367.9h22.0v1h-22.0zM428.4 369.9h9.2v1h-9.2zM402.8 372.9h20.7v1h-20.7zM412.4 376.9h25.2v1h-25.2zM411.9 383.8h18.3v1h-18.3zM425.4 388.8h12.2v1h-12.2zM367.5 392.8h12.2v1h-12.2zM429.1 392.8h8.5v1h-8.5zM367.5 393.8h15.7v1h-15.7zM367.5 394.8h21.8v1h-21.8zM408.1 394.8h29.5v1h-29.5zM367.5 395.8h6.5v1h-6.5zM424.5 399.8h13.1v1h-13.1zM367.5 409.7h15.6v1h-15.6z" fill="#f05a28" fill-opacity="0.35"/><path d="M396.0 351.0h10.6v1h-10.6zM415.3 360.0h22.3v1h-22.3zM389.0 362.9h23.7v1h-23.7zM387.5 364.9h7.9v1h-7.9zM395.4 364.9h29.8v1h-29.8zM405.8 367.9h27.9v1h-27.9zM433.8 367.9h3.8v1h-3.8zM418.2 371.9h10.8v1h-10.8zM390.8 373.9h16.9v1h-16.9zM424.6 375.9h13.0v1h-13.0zM378.8 378.9h13.0v1h-13.0zM413.1 378.9h24.5v1h-24.5zM411.6 381.8h17.4v1h-17.4zM367.5 383.8h20.9v1h-20.9zM418.4 384.8h19.2v1h-19.2zM367.5 389.8h28.8v1h-28.8zM420.7 389.8h16.9v1h-16.9z" fill="#f05a28" fill-opacity="0.4"/><path d="M428.4 359.0h9.2v1h-9.2zM367.5 360.0h13.0v1h-13.0zM367.5 360.9h6.4v1h-6.4zM420.6 360.9h17.0v1h-17.0zM422.2 361.9h15.4v1h-15.4zM425.2 364.9h12.4v1h-12.4zM367.5 365.9h26.1v1h-26.1zM367.5 372.9h12.5v1h-12.5zM431.0 382.8h6.6v1h-6.6zM367.5 391.8h25.2v1h-25.2zM419.4 391.8h18.2v1h-18.2z" fill="#f05a28" fill-opacity="0.45"/><path d="M388.6 354.0h12.5v1h-12.5zM378.6 357.0h24.5v1h-24.5zM421.6 358.0h16.0v1h-16.0zM421.5 359.0h6.9v1h-6.9zM394.4 361.9h27.8v1h-27.8zM381.2 362.9h7.8v1h-7.8zM367.5 366.9h20.7v1h-20.7zM367.5 368.9h26.1v1h-26.1zM423.5 372.9h14.1v1h-14.1zM367.5 377.9h24.9v1h-24.9zM402.0 377.9h23.4v1h-23.4zM367.5 378.9h11.3v1h-11.3zM430.2 383.8h7.4v1h-7.4z" fill="#f05a28" fill-opacity="0.5"/><path d="M377.3 351.0h18.7v1h-18.7zM420.0 356.0h17.6v1h-17.6zM417.6 365.9h20.0v1h-20.0zM367.5 373.9h23.3v1h-23.3zM407.7 373.9h29.9v1h-29.9zM367.5 374.9h28.7v1h-28.7z" fill="#f05a28" fill-opacity="0.55"/><path d="M433.7 350.0h3.9v1h-3.9zM406.5 351.0h6.7v1h-6.7zM397.4 352.0h26.2v1h-26.2zM412.1 355.0h10.6v1h-10.6zM431.8 355.0h5.8v1h-5.8zM367.5 356.0h25.3v1h-25.3zM412.6 362.9h25.0v1h-25.0zM417.8 374.9h19.8v1h-19.8z" fill="#f05a28" fill-opacity="0.6"/><path d="M396.1 350.0h21.1v1h-21.1zM423.6 352.0h14.0v1h-14.0zM393.8 353.0h29.0v1h-29.0zM422.8 353.0h6.0v1h-6.0zM422.6 355.0h9.1v1h-9.1zM411.9 358.0h9.7v1h-9.7zM367.5 364.9h20.0v1h-20.0zM367.5 371.9h21.7v1h-21.7zM375.5 376.9h19.2v1h-19.2zM367.5 386.8h11.7v1h-11.7z" fill="#f05a28" fill-opacity="0.65"/><path d="M385.7 350.0h10.4v1h-10.4zM417.2 350.0h8.3v1h-8.3zM367.5 355.0h25.1v1h-25.1zM367.5 376.9h8.0v1h-8.0zM367.5 385.8h25.5v1h-25.5z" fill="#f05a28" fill-opacity="0.7"/><path d="M416.3 357.0h8.2v1h-8.2zM367.5 375.9h27.6v1h-27.6zM425.3 377.9h12.3v1h-12.3z" fill="#f05a28" fill-opacity="0.75"/><path d="M415.1 354.0h22.5v1h-22.5zM367.5 361.9h20.0v1h-20.0zM416.8 363.9h20.8v1h-20.8zM428.9 381.8h8.7v1h-8.7zM367.5 382.8h10.6v1h-10.6z" fill="#f05a28" fill-opacity="0.8"/><path d="M428.8 353.0h8.8v1h-8.8zM424.4 357.0h13.2v1h-13.2zM367.5 359.0h10.7v1h-10.7z" fill="#f05a28" fill-opacity="0.85"/><path d="M367.5 351.0h9.8v1h-9.8zM401.1 354.0h14.0v1h-14.0z" fill="#f05a28" fill-opacity="0.95"/><path d="M367.5 350.0h18.2v1h-18.2zM425.5 350.0h8.2v1h-8.2zM413.2 351.0h16.6v1h-16.6zM429.8 351.0h7.8v1h-7.8zM367.5 352.0h29.9v1h-29.9zM367.5 353.0h26.3v1h-26.3zM367.5 354.0h21.1v1h-21.1zM367.5 357.0h11.1v1h-11.1zM367.5 358.0h17.6v1h-17.6zM367.5 362.9h13.7v1h-13.7zM367.5 363.9h22.4v1h-22.4zM367.5 381.8h15.9v1h-15.9z" fill="#f05a28" fill-opacity="1.0"/></g></svg>
<rect x="440.30" y="350.00" width="70.00" height="105.50" fill="#fff"/>
<svg x="440.3" y="350.0" width="70.0" height="105.5" viewBox="440.3 350.0 70.0 105.5" overflow="hidden"><g filter="url(#hb)"><path d="M440.3 419.7h28.3v1h-28.3zM468.6 419.7h28.8v1h-28.8zM497.3 419.7h13.0v1h-13.0zM471.5 422.7h21.3v1h-21.3zM464.4 424.6h8.9v1h-8.9zM499.3 424.6h11.0v1h-11.0zM471.9 438.6h19.5v1h-19.5zM492.4 441.6h17.9v1h-17.9zM440.3 442.6h25.4v1h-25.4zM465.7 442.6h26.1v1h-26.1zM491.7 442.6h18.6v1h-18.6zM458.8 444.6h15.2v1h-15.2zM474.0 444.6h18.6v1h-18.6zM467.9 445.5h14.7v1h-14.7zM498.9 446.5h11.4v1h-11.4zM458.3 448.5h19.4v1h-19.4zM472.8 450.5h13.1v1h-13.1zM458.2 451.5h7.9v1h-7.9zM456.9 452.5h16.8v1h-16.8zM473.7 452.5h17.4v1h-17.4zM491.1 452.5h19.2v1h-19.2zM464.1 453.5h13.4v1h-13.4zM477.5 453.5h11.4v1h-11.4zM488.9 453.5h12.3v1h-12.3zM501.2 453.5h9.1v1h-9.1zM440.3 454.5h29.3v1h-29.3zM493.6 454.5h16.7v1h-16.7z" fill="#f05a28" fill-opacity="0.05"/><path d="M458.1 387.8h28.4v1h-28.4zM469.0 404.7h22.1v1h-22.1zM498.1 404.7h9.0v1h-9.0zM482.3 406.7h9.6v1h-9.6zM460.6 407.7h27.1v1h-27.1zM464.2 410.7h13.5v1h-13.5zM477.7 410.7h23.5v1h-23.5zM457.9 417.7h23.4v1h-23.4zM457.3 420.7h22.7v1h-22.7zM440.3 422.7h15.2v1h-15.2zM463.0 422.7h8.5v1h-8.5zM440.3 424.6h24.1v1h-24.1zM473.4 424.6h25.9v1h-25.9zM449.2 425.6h13.9v1h-13.9zM463.1 425.6h11.8v1h-11.8zM440.3 429.6h26.0v1h-26.0zM466.3 429.6h13.2v1h-13.2zM479.5 429.6h30.8v1h-30.8zM464.2 430.6h20.0v1h-20.0zM470.6 433.6h21.1v1h-21.1zM479.0 434.6h25.6v1h-25.6zM475.0 436.6h20.9v1h-20.9zM484.0 437.6h12.1v1h-12.1zM440.3 438.6h11.3v1h-11.3zM451.6 438.6h20.3v1h-20.3zM491.4 438.6h18.9v1h-18.9zM458.2 439.6h21.3v1h-21.3zM479.5 439.6h11.8v1h-11.8zM491.3 439.6h19.0v1h-19.0zM440.3 444.6h18.5v1h-18.5zM492.6 444.6h17.7v1h-17.7zM440.3 445.5h27.6v1h-27.6zM482.6 445.5h27.7v1h-27.7zM440.3 447.5h6.5v1h-6.5zM446.8 447.5h23.1v1h-23.1zM470.0 447.5h21.7v1h-21.7zM491.6 447.5h8.3v1h-8.3zM499.9 447.5h10.4v1h-10.4zM440.3 448.5h18.0v1h-18.0zM477.7 448.5h27.9v1h-27.9zM459.1 449.5h24.7v1h-24.7zM483.7 449.5h6.3v1h-6.3zM490.0 449.5h20.3v1h-20.3zM453.3 450.5h19.5v1h-19.5zM485.9 450.5h24.4v1h-24.4zM440.3 451.5h17.9v1h-17.9zM466.1 451.5h26.1v1h-26.1zM492.1 451.5h7.5v1h-7.5zM499.7 451.5h10.6v1h-10.6zM440.3 452.5h7.6v1h-7.6zM447.9 452.5h9.0v1h-9.0z" fill="#f05a28" fill-opacity="0.1"/><path d="M471.5 363.9h22.4v1h-22.4zM471.3 381.8h15.6v1h-15.6zM455.8 382.8h21.5v1h-21.5zM477.4 382.8h22.1v1h-22.1zM479.1 385.8h14.5v1h-14.5zM466.4 389.8h16.5v1h-16.5zM463.8 402.8h27.4v1h-27.4zM440.3 406.7h28.0v1h-28.0zM440.3 407.7h20.3v1h-20.3zM487.7 407.7h22.6v1h-22.6zM501.1 410.7h9.2v1h-9.2zM440.3 411.7h10.2v1h-10.2zM450.5 411.7h7.6v1h-7.6zM479.0 411.7h6.1v1h-6.1zM485.2 411.7h14.5v1h-14.5zM499.7 411.7h10.6v1h-10.6zM498.3 412.7h12.0v1h-12.0zM476.4 414.7h8.7v1h-8.7zM485.2 414.7h17.4v1h-17.4zM481.3 417.7h9.5v1h-9.5zM490.8 417.7h19.5v1h-19.5zM440.3 421.7h27.5v1h-27.5zM467.8 421.7h27.6v1h-27.6zM455.5 422.7h7.4v1h-7.4zM492.8 422.7h17.5v1h-17.5zM440.3 423.7h11.0v1h-11.0zM451.3 423.7h16.9v1h-16.9zM468.2 423.7h26.6v1h-26.6zM494.8 423.7h15.5v1h-15.5zM474.9 425.6h20.8v1h-20.8zM503.7 425.6h6.6v1h-6.6zM461.2 427.6h20.8v1h-20.8zM484.2 430.6h26.1v1h-26.1zM457.8 431.6h21.5v1h-21.5zM495.3 431.6h15.0v1h-15.0zM440.3 432.6h27.5v1h-27.5zM480.7 432.6h12.2v1h-12.2zM502.4 432.6h7.9v1h-7.9zM440.3 434.6h25.4v1h-25.4zM465.7 434.6h13.3v1h-13.3zM504.6 434.6h5.7v1h-5.7zM453.7 435.6h20.7v1h-20.7zM474.4 435.6h18.5v1h-18.5zM503.1 435.6h7.2v1h-7.2zM440.3 436.6h24.8v1h-24.8zM465.1 436.6h9.9v1h-9.9zM495.8 436.6h8.2v1h-8.2zM440.3 437.6h8.1v1h-8.1zM496.2 437.6h14.1v1h-14.1zM440.3 439.6h17.9v1h-17.9zM475.8 440.6h28.9v1h-28.9zM460.0 443.6h14.1v1h-14.1zM487.7 443.6h6.7v1h-6.7zM505.6 448.5h4.7v1h-4.7zM440.3 449.5h18.8v1h-18.8zM440.3 450.5h13.0v1h-13.0z" fill="#f05a28" fill-opacity="0.15"/><path d="M455.8 363.9h15.8v1h-15.8zM464.4 375.9h9.1v1h-9.1zM473.5 375.9h8.6v1h-8.6zM482.1 375.9h7.4v1h-7.4zM470.7 379.9h20.7v1h-20.7zM454.2 381.8h17.0v1h-17.0zM458.3 385.8h20.8v1h-20.8zM500.2 385.8h10.1v1h-10.1zM499.7 388.8h10.6v1h-10.6zM474.8 392.8h9.0v1h-9.0zM458.2 403.7h9.5v1h-9.5zM467.7 403.7h19.2v1h-19.2zM440.3 404.7h28.7v1h-28.7zM491.1 404.7h7.0v1h-7.0zM507.1 404.7h3.2v1h-3.2zM468.3 406.7h14.0v1h-14.0zM467.0 409.7h15.4v1h-15.4zM440.3 410.7h23.9v1h-23.9zM450.6 414.7h16.3v1h-16.3zM466.8 414.7h9.6v1h-9.6zM466.8 416.7h19.1v1h-19.1zM440.3 425.6h8.9v1h-8.9zM495.6 425.6h8.1v1h-8.1zM446.5 426.6h27.4v1h-27.4zM473.9 426.6h20.4v1h-20.4zM494.4 426.6h15.9v1h-15.9zM477.9 428.6h25.0v1h-25.0zM467.8 432.6h12.9v1h-12.9zM446.6 433.6h24.0v1h-24.0zM440.3 435.6h13.4v1h-13.4zM493.0 435.6h10.2v1h-10.2zM504.0 436.6h6.3v1h-6.3zM448.4 437.6h19.4v1h-19.4zM467.8 437.6h16.2v1h-16.2zM456.1 440.6h19.8v1h-19.8zM440.3 443.6h19.7v1h-19.7zM474.1 443.6h13.6v1h-13.6zM494.4 443.6h15.9v1h-15.9z" fill="#f05a28" fill-opacity="0.2"/><path d="M494.0 363.9h8.2v1h-8.2zM465.7 370.9h10.9v1h-10.9zM489.4 375.9h12.0v1h-12.0zM486.9 381.8h13.7v1h-13.7zM440.3 382.8h15.5v1h-15.5zM468.8 384.8h17.2v1h-17.2zM440.3 385.8h18.0v1h-18.0zM440.3 387.8h17.8v1h-17.8zM486.5 387.8h11.5v1h-11.5zM500.8 389.8h9.5v1h-9.5zM461.9 392.8h12.9v1h-12.9zM440.3 393.8h18.8v1h-18.8zM460.0 394.8h24.0v1h-24.0zM484.0 394.8h26.3v1h-26.3zM446.8 395.8h14.6v1h-14.6zM461.4 395.8h17.8v1h-17.8zM467.2 396.8h28.5v1h-28.5zM440.3 400.8h16.7v1h-16.7zM457.0 400.8h10.8v1h-10.8zM467.9 400.8h10.2v1h-10.2zM469.4 401.8h21.6v1h-21.6zM500.5 401.8h9.8v1h-9.8zM486.9 403.7h23.4v1h-23.4zM504.3 406.7h6.0v1h-6.0zM483.7 408.7h17.4v1h-17.4zM501.2 408.7h9.1v1h-9.1zM482.4 409.7h21.7v1h-21.7zM458.1 411.7h21.0v1h-21.0zM472.8 412.7h25.5v1h-25.5zM449.7 413.7h18.8v1h-18.8zM479.6 413.7h20.9v1h-20.9zM440.3 414.7h10.3v1h-10.3zM440.3 417.7h17.6v1h-17.6zM451.7 418.7h15.9v1h-15.9zM467.5 418.7h10.3v1h-10.3zM479.9 420.7h21.3v1h-21.3zM501.3 420.7h9.0v1h-9.0zM482.0 427.6h28.3v1h-28.3zM440.3 428.6h8.5v1h-8.5zM462.3 428.6h15.5v1h-15.5zM440.3 430.6h23.9v1h-23.9zM440.3 431.6h17.5v1h-17.5zM479.3 431.6h16.0v1h-16.0zM440.3 433.6h6.3v1h-6.3zM491.6 433.6h18.7v1h-18.7zM440.3 440.6h15.8v1h-15.8zM504.8 440.6h5.5v1h-5.5z" fill="#f05a28" fill-opacity="0.25"/><path d="M440.3 363.9h15.5v1h-15.5zM463.7 364.9h22.0v1h-22.0zM497.4 364.9h12.9v1h-12.9zM456.7 365.9h28.1v1h-28.1zM484.7 365.9h25.6v1h-25.6zM459.2 379.9h11.5v1h-11.5zM440.3 381.8h13.9v1h-13.9zM456.8 383.8h26.2v1h-26.2zM493.7 385.8h6.6v1h-6.6zM466.4 386.8h13.5v1h-13.5zM479.9 386.8h15.9v1h-15.9zM497.9 387.8h12.4v1h-12.4zM468.2 388.8h19.2v1h-19.2zM487.4 388.8h12.3v1h-12.3zM482.9 389.8h17.9v1h-17.9zM459.0 391.8h29.8v1h-29.8zM483.7 392.8h26.6v1h-26.6zM484.9 393.8h25.4v1h-25.4zM440.3 394.8h19.7v1h-19.7zM449.2 397.8h7.6v1h-7.6zM502.1 398.8h8.2v1h-8.2zM458.6 399.8h17.2v1h-17.2zM491.0 401.8h9.5v1h-9.5zM440.3 402.8h23.5v1h-23.5zM491.9 406.7h12.4v1h-12.4zM440.3 409.7h26.7v1h-26.7zM504.1 409.7h6.2v1h-6.2zM449.5 412.7h23.2v1h-23.2zM502.5 414.7h7.8v1h-7.8zM440.3 415.7h16.1v1h-16.1zM440.3 418.7h11.4v1h-11.4zM477.8 418.7h14.3v1h-14.3zM492.1 418.7h18.2v1h-18.2zM440.3 420.7h17.0v1h-17.0zM495.4 421.7h14.9v1h-14.9zM448.8 428.6h13.5v1h-13.5zM502.9 428.6h7.4v1h-7.4zM492.9 432.6h9.6v1h-9.6z" fill="#f05a28" fill-opacity="0.3"/><path d="M440.3 361.9h19.5v1h-19.5zM502.1 363.9h8.2v1h-8.2zM478.8 366.9h11.5v1h-11.5zM440.3 376.9h28.8v1h-28.8zM440.3 379.9h18.9v1h-18.9zM448.8 380.9h21.2v1h-21.2zM499.5 382.8h10.8v1h-10.8zM440.3 384.8h28.5v1h-28.5zM495.9 386.8h7.2v1h-7.2zM503.1 386.8h7.2v1h-7.2zM440.3 388.8h27.9v1h-27.9zM466.5 390.8h19.2v1h-19.2zM459.1 393.8h25.8v1h-25.8zM479.1 395.8h13.8v1h-13.8zM469.3 398.8h21.8v1h-21.8zM491.2 398.8h10.9v1h-10.9zM440.3 399.8h18.3v1h-18.3zM498.8 399.8h11.5v1h-11.5zM478.1 400.8h13.9v1h-13.9zM492.0 400.8h18.3v1h-18.3zM440.3 401.8h29.1v1h-29.1zM499.3 402.8h11.0v1h-11.0zM495.0 405.7h15.3v1h-15.3zM440.3 408.7h8.5v1h-8.5zM471.5 408.7h12.2v1h-12.2zM440.3 412.7h9.2v1h-9.2zM464.2 415.7h7.0v1h-7.0zM471.1 415.7h22.2v1h-22.2zM440.3 416.7h26.5v1h-26.5zM485.9 416.7h21.1v1h-21.1zM440.3 426.6h6.2v1h-6.2z" fill="#f05a28" fill-opacity="0.35"/><path d="M459.8 361.9h23.0v1h-23.0zM485.7 364.9h11.7v1h-11.7zM440.3 365.9h16.4v1h-16.4zM490.3 366.9h20.0v1h-20.0zM474.0 367.9h13.7v1h-13.7zM502.4 367.9h7.9v1h-7.9zM465.6 368.9h28.5v1h-28.5zM440.3 370.9h25.4v1h-25.4zM476.6 370.9h29.3v1h-29.3zM473.2 371.9h26.0v1h-26.0zM499.2 371.9h11.1v1h-11.1zM461.9 373.9h18.1v1h-18.1zM440.3 374.9h28.2v1h-28.2zM468.5 374.9h26.5v1h-26.5zM501.4 375.9h8.9v1h-8.9zM480.6 376.9h17.4v1h-17.4zM501.6 377.9h8.7v1h-8.7zM469.9 380.9h19.2v1h-19.2zM500.6 381.8h9.7v1h-9.7zM440.3 389.8h26.1v1h-26.1zM485.7 390.8h24.6v1h-24.6zM440.3 392.8h21.6v1h-21.6zM493.0 395.8h17.3v1h-17.3zM440.3 396.8h26.9v1h-26.9zM456.8 397.8h16.3v1h-16.3zM495.4 397.8h14.9v1h-14.9zM475.9 399.8h23.0v1h-23.0zM491.2 402.8h8.1v1h-8.1zM440.3 403.7h17.9v1h-17.9zM446.5 405.7h9.4v1h-9.4zM455.9 405.7h11.0v1h-11.0zM468.6 413.7h11.0v1h-11.0zM456.4 415.7h7.7v1h-7.7zM500.8 415.7h9.5v1h-9.5zM507.0 416.7h3.3v1h-3.3zM440.3 427.6h20.9v1h-20.9z" fill="#f05a28" fill-opacity="0.4"/><path d="M452.3 366.9h26.5v1h-26.5zM487.7 367.9h14.7v1h-14.7zM463.3 372.9h10.4v1h-10.4zM480.1 373.9h17.2v1h-17.2zM497.3 373.9h13.0v1h-13.0zM440.3 375.9h24.1v1h-24.1zM440.3 378.9h6.3v1h-6.3zM489.1 380.9h21.2v1h-21.2zM440.3 383.8h16.5v1h-16.5zM486.0 384.8h24.3v1h-24.3zM440.3 386.8h26.1v1h-26.1zM440.3 395.8h6.5v1h-6.5zM473.1 397.8h22.3v1h-22.3zM466.9 405.7h28.1v1h-28.1zM493.4 415.7h7.4v1h-7.4z" fill="#f05a28" fill-opacity="0.45"/><path d="M470.5 352.0h22.7v1h-22.7zM470.2 354.0h18.0v1h-18.0zM467.6 360.0h11.8v1h-11.8zM455.4 362.9h14.5v1h-14.5zM447.0 364.9h16.6v1h-16.6zM459.6 367.9h14.4v1h-14.4zM440.3 368.9h25.3v1h-25.3zM440.3 371.9h23.6v1h-23.6zM450.2 372.9h13.1v1h-13.1zM495.0 374.9h15.3v1h-15.3zM440.3 377.9h8.1v1h-8.1zM464.2 378.9h25.8v1h-25.8zM490.0 378.9h14.2v1h-14.2zM483.0 383.8h10.7v1h-10.7zM448.8 408.7h22.7v1h-22.7zM500.6 413.7h9.7v1h-9.7z" fill="#f05a28" fill-opacity="0.5"/><path d="M462.2 351.0h26.2v1h-26.2zM474.4 355.0h6.9v1h-6.9zM464.6 360.9h20.1v1h-20.1zM482.9 361.9h27.4v1h-27.4zM440.3 366.9h12.0v1h-12.0zM505.9 370.9h4.4v1h-4.4zM448.4 377.9h28.9v1h-28.9zM477.3 377.9h24.4v1h-24.4zM491.4 379.9h18.9v1h-18.9zM440.3 391.8h18.7v1h-18.7zM504.5 391.8h5.8v1h-5.8zM440.3 397.8h8.9v1h-8.9zM440.3 413.7h9.4v1h-9.4z" fill="#f05a28" fill-opacity="0.55"/><path d="M469.2 356.0h28.2v1h-28.2zM464.8 357.0h11.8v1h-11.8zM484.7 360.9h25.6v1h-25.6zM440.3 362.9h15.1v1h-15.1zM461.7 369.9h20.6v1h-20.6zM498.2 369.9h12.1v1h-12.1zM463.9 371.9h9.3v1h-9.3zM440.3 373.9h21.6v1h-21.6zM469.1 376.9h11.5v1h-11.5zM498.0 376.9h12.3v1h-12.3zM440.3 380.9h8.5v1h-8.5zM493.7 383.8h16.6v1h-16.6zM440.3 390.8h26.2v1h-26.2zM440.3 398.8h29.0v1h-29.0zM440.3 405.7h6.2v1h-6.2z" fill="#f05a28" fill-opacity="0.6"/><path d="M449.5 352.0h20.9v1h-20.9zM463.7 353.0h29.4v1h-29.4zM465.2 358.0h21.3v1h-21.3zM469.9 362.9h28.4v1h-28.4zM494.1 368.9h16.2v1h-16.2zM482.3 369.9h15.9v1h-15.9zM473.8 372.9h26.7v1h-26.7zM446.6 378.9h17.6v1h-17.6zM488.7 391.8h15.8v1h-15.8zM495.7 396.8h14.6v1h-14.6z" fill="#f05a28" fill-opacity="0.65"/><path d="M493.2 353.0h17.1v1h-17.1zM440.3 360.9h24.3v1h-24.3zM440.3 364.9h6.7v1h-6.7z" fill="#f05a28" fill-opacity="0.7"/><path d="M459.1 350.0h22.6v1h-22.6zM502.7 355.0h7.6v1h-7.6zM440.3 356.0h28.9v1h-28.9zM479.4 360.0h30.9v1h-30.9zM498.3 362.9h12.0v1h-12.0z" fill="#f05a28" fill-opacity="0.75"/><path d="M495.9 351.0h14.4v1h-14.4zM464.1 355.0h10.3v1h-10.3zM484.3 359.0h22.9v1h-22.9zM440.3 367.9h19.3v1h-19.3z" fill="#f05a28" fill-opacity="0.8"/><path d="M501.1 350.0h9.2v1h-9.2zM455.6 355.0h8.5v1h-8.5zM495.5 355.0h7.2v1h-7.2zM466.0 359.0h18.4v1h-18.4zM507.2 359.0h3.1v1h-3.1zM440.3 360.0h27.3v1h-27.3zM440.3 372.9h9.9v1h-9.9zM500.4 372.9h9.9v1h-9.9zM504.2 378.9h6.1v1h-6.1z" fill="#f05a28" fill-opacity="0.85"/><path d="M481.2 355.0h14.3v1h-14.3z" fill="#f05a28" fill-opacity="0.9"/><path d="M481.7 350.0h19.4v1h-19.4zM503.3 352.0h7.0v1h-7.0z" fill="#f05a28" fill-opacity="0.95"/><path d="M440.3 350.0h6.3v1h-6.3zM446.6 350.0h12.6v1h-12.6zM440.3 351.0h7.8v1h-7.8zM448.1 351.0h14.1v1h-14.1zM488.4 351.0h7.5v1h-7.5zM440.3 352.0h9.2v1h-9.2zM493.2 352.0h10.1v1h-10.1zM440.3 353.0h23.4v1h-23.4zM440.3 354.0h11.6v1h-11.6zM451.9 354.0h18.3v1h-18.3zM488.2 354.0h22.1v1h-22.1zM440.3 355.0h15.3v1h-15.3zM497.4 356.0h12.9v1h-12.9zM440.3 357.0h24.5v1h-24.5zM476.6 357.0h7.0v1h-7.0zM483.6 357.0h26.7v1h-26.7zM440.3 358.0h24.9v1h-24.9zM486.5 358.0h18.7v1h-18.7zM505.2 358.0h5.1v1h-5.1zM440.3 359.0h13.0v1h-13.0zM453.3 359.0h12.7v1h-12.7zM440.3 369.9h21.4v1h-21.4z" fill="#f05a28" fill-opacity="1.0"/></g></svg>
<rect x="367.50" y="457.60" width="70.10" height="132.40" fill="#fff"/>
<svg x="367.5" y="457.6" width="70.1" height="132.4" viewBox="367.5 457.6 70.1 132.4" overflow="hidden"><g filter="url(#hb)"><path d="M367.5 477.7h26.7v1h-26.7zM394.2 477.7h26.2v1h-26.2zM427.6 477.7h10.0v1h-10.0zM403.9 507.8h18.4v1h-18.4zM367.5 523.8h8.6v1h-8.6zM376.1 523.8h27.9v1h-27.9zM404.0 523.8h13.1v1h-13.1zM417.1 523.8h20.5v1h-20.5zM386.1 532.8h27.9v1h-27.9zM386.7 536.8h29.5v1h-29.5zM367.5 537.8h19.4v1h-19.4zM386.9 537.8h18.0v1h-18.0zM404.8 537.8h29.6v1h-29.6zM380.0 544.9h6.4v1h-6.4zM386.4 544.9h17.6v1h-17.6zM404.0 544.9h22.9v1h-22.9zM380.8 547.9h8.7v1h-8.7zM389.5 547.9h6.3v1h-6.3zM395.8 547.9h17.5v1h-17.5zM430.6 547.9h7.0v1h-7.0zM367.5 548.9h8.7v1h-8.7zM406.0 548.9h12.6v1h-12.6zM385.1 549.9h18.6v1h-18.6zM403.6 549.9h23.3v1h-23.3zM389.3 554.9h26.8v1h-26.8zM367.5 557.9h27.0v1h-27.0zM394.5 557.9h16.8v1h-16.8zM426.8 557.9h10.8v1h-10.8zM367.5 558.9h20.0v1h-20.0zM402.6 558.9h23.4v1h-23.4zM426.0 558.9h11.6v1h-11.6zM391.1 562.9h25.9v1h-25.9zM417.0 562.9h7.3v1h-7.3zM380.5 564.9h29.8v1h-29.8zM374.0 567.9h17.7v1h-17.7zM391.6 567.9h21.9v1h-21.9zM367.5 568.9h13.9v1h-13.9zM381.4 568.9h21.1v1h-21.1zM402.5 568.9h7.3v1h-7.3zM409.8 568.9h18.7v1h-18.7zM428.5 568.9h9.1v1h-9.1zM367.5 569.9h6.6v1h-6.6zM385.0 569.9h8.7v1h-8.7zM393.8 569.9h25.0v1h-25.0zM418.8 569.9h18.8v1h-18.8zM392.0 574.0h28.5v1h-28.5zM367.5 575.0h23.5v1h-23.5zM391.0 575.0h14.0v1h-14.0zM405.1 575.0h15.9v1h-15.9zM421.0 575.0h16.6v1h-16.6zM367.5 577.0h18.3v1h-18.3zM400.4 577.0h27.1v1h-27.1zM397.9 578.0h26.6v1h-26.6zM367.5 579.0h25.7v1h-25.7zM393.2 579.0h20.1v1h-20.1zM367.5 580.0h26.1v1h-26.1zM393.6 580.0h24.2v1h-24.2zM367.5 581.0h23.9v1h-23.9zM391.4 581.0h24.4v1h-24.4zM367.5 582.0h13.3v1h-13.3zM380.8 582.0h14.3v1h-14.3zM395.0 582.0h26.1v1h-26.1zM421.1 582.0h16.5v1h-16.5zM367.5 583.0h8.6v1h-8.6zM376.1 583.0h25.4v1h-25.4zM401.6 583.0h9.7v1h-9.7zM411.3 583.0h7.4v1h-7.4zM418.7 583.0h18.9v1h-18.9zM377.2 584.0h13.1v1h-13.1zM390.3 584.0h19.2v1h-19.2zM409.4 584.0h14.5v1h-14.5zM386.2 586.0h26.0v1h-26.0zM412.2 586.0h14.6v1h-14.6zM426.8 586.0h10.8v1h-10.8zM367.5 587.0h14.7v1h-14.7zM382.2 587.0h26.5v1h-26.5zM408.7 587.0h14.6v1h-14.6zM423.3 587.0h11.1v1h-11.1zM434.4 587.0h3.2v1h-3.2zM367.5 588.0h12.3v1h-12.3zM379.8 588.0h17.4v1h-17.4zM397.1 588.0h25.0v1h-25.0zM422.2 588.0h11.2v1h-11.2zM433.3 588.0h4.3v1h-4.3zM396.2 589.0h11.8v1h-11.8z" fill="#f05a28" fill-opacity="0.05"/><path d="M420.3 477.7h7.3v1h-7.3zM382.8 484.7h9.8v1h-9.8zM392.6 484.7h22.8v1h-22.8zM373.8 506.7h6.5v1h-6.5zM394.1 506.7h23.8v1h-23.8zM367.5 507.8h24.5v1h-24.5zM392.0 507.8h12.0v1h-12.0zM430.6 507.8h7.0v1h-7.0zM410.5 508.8h27.1v1h-27.1zM378.5 510.8h10.1v1h-10.1zM388.5 510.8h21.7v1h-21.7zM396.5 511.8h17.5v1h-17.5zM384.3 514.8h14.8v1h-14.8zM379.8 515.8h13.6v1h-13.6zM393.4 515.8h9.5v1h-9.5zM367.5 520.8h19.3v1h-19.3zM389.6 525.8h18.6v1h-18.6zM392.4 526.8h10.2v1h-10.2zM425.2 532.8h12.4v1h-12.4zM367.5 533.8h22.1v1h-22.1zM367.5 536.8h19.2v1h-19.2zM416.2 536.8h7.1v1h-7.1zM423.3 536.8h14.3v1h-14.3zM395.5 538.8h27.4v1h-27.4zM433.1 538.8h4.5v1h-4.5zM381.0 539.8h8.6v1h-8.6zM374.7 542.9h8.6v1h-8.6zM422.5 542.9h15.1v1h-15.1zM367.5 544.9h12.5v1h-12.5zM426.9 544.9h10.7v1h-10.7zM367.5 545.9h14.4v1h-14.4zM381.9 545.9h29.3v1h-29.3zM376.5 546.9h18.1v1h-18.1zM367.5 547.9h13.3v1h-13.3zM413.3 547.9h17.3v1h-17.3zM376.2 548.9h29.7v1h-29.7zM418.6 548.9h7.1v1h-7.1zM425.7 548.9h11.9v1h-11.9zM367.5 549.9h17.6v1h-17.6zM426.9 549.9h10.7v1h-10.7zM408.1 550.9h10.2v1h-10.2zM433.4 551.9h4.2v1h-4.2zM385.7 552.9h22.3v1h-22.3zM380.0 553.9h12.6v1h-12.6zM392.6 553.9h23.8v1h-23.8zM416.4 553.9h21.2v1h-21.2zM367.5 554.9h21.8v1h-21.8zM416.1 554.9h10.6v1h-10.6zM426.7 554.9h10.9v1h-10.9zM367.5 555.9h22.6v1h-22.6zM390.1 555.9h14.8v1h-14.8zM406.3 556.9h6.8v1h-6.8zM411.2 557.9h7.1v1h-7.1zM418.3 557.9h8.5v1h-8.5zM392.1 559.9h27.4v1h-27.4zM419.5 559.9h7.3v1h-7.3zM395.5 560.9h9.7v1h-9.7zM405.3 560.9h6.6v1h-6.6zM407.9 561.9h20.4v1h-20.4zM367.5 562.9h23.6v1h-23.6zM424.2 562.9h13.4v1h-13.4zM367.5 563.9h23.6v1h-23.6zM391.1 563.9h11.0v1h-11.0zM402.1 563.9h17.0v1h-17.0zM410.3 564.9h16.2v1h-16.2zM426.5 564.9h11.1v1h-11.1zM375.4 565.9h24.0v1h-24.0zM399.4 565.9h12.5v1h-12.5zM411.9 565.9h25.7v1h-25.7zM367.5 566.9h25.5v1h-25.5zM393.0 566.9h25.9v1h-25.9zM418.9 566.9h9.2v1h-9.2zM428.2 566.9h9.4v1h-9.4zM413.5 567.9h9.5v1h-9.5zM423.0 567.9h14.6v1h-14.6zM374.1 569.9h11.0v1h-11.0zM367.5 570.9h15.4v1h-15.4zM382.9 570.9h27.6v1h-27.6zM410.5 570.9h27.1v1h-27.1zM374.7 574.0h17.3v1h-17.3zM388.9 576.0h21.9v1h-21.9zM385.8 577.0h14.5v1h-14.5zM427.4 577.0h10.2v1h-10.2zM378.1 578.0h19.7v1h-19.7zM424.5 578.0h13.1v1h-13.1zM413.3 579.0h9.7v1h-9.7zM417.8 580.0h15.3v1h-15.3zM433.1 580.0h4.5v1h-4.5zM415.8 581.0h15.6v1h-15.6zM431.4 581.0h6.2v1h-6.2zM367.5 584.0h9.7v1h-9.7zM423.9 584.0h13.7v1h-13.7zM367.5 586.0h18.7v1h-18.7zM367.5 589.0h14.0v1h-14.0zM381.5 589.0h14.7v1h-14.7zM408.0 589.0h24.5v1h-24.5zM432.5 589.0h5.1v1h-5.1z" fill="#f05a28" fill-opacity="0.1"/><path d="M367.5 474.7h28.5v1h-28.5zM367.5 484.7h15.3v1h-15.3zM385.5 493.7h7.0v1h-7.0zM392.5 493.7h23.8v1h-23.8zM416.3 493.7h21.3v1h-21.3zM377.6 500.7h11.9v1h-11.9zM389.5 500.7h16.8v1h-16.8zM406.3 500.7h8.6v1h-8.6zM426.5 500.7h11.1v1h-11.1zM367.5 505.7h15.2v1h-15.2zM396.1 505.7h17.3v1h-17.3zM413.4 505.7h16.2v1h-16.2zM429.6 505.7h8.0v1h-8.0zM380.3 506.7h13.9v1h-13.9zM422.3 507.8h8.3v1h-8.3zM367.5 510.8h11.0v1h-11.0zM410.2 510.8h10.6v1h-10.6zM429.8 510.8h7.8v1h-7.8zM367.5 511.8h15.9v1h-15.9zM405.8 512.8h8.6v1h-8.6zM399.1 514.8h12.8v1h-12.8zM411.9 514.8h25.7v1h-25.7zM367.5 515.8h12.3v1h-12.3zM424.5 515.8h13.1v1h-13.1zM386.8 520.8h11.0v1h-11.0zM397.8 520.8h25.3v1h-25.3zM423.1 520.8h14.5v1h-14.5zM367.5 521.8h21.6v1h-21.6zM389.1 521.8h17.5v1h-17.5zM434.4 521.8h3.2v1h-3.2zM382.8 524.8h27.9v1h-27.9zM408.2 525.8h29.4v1h-29.4zM378.5 526.8h13.8v1h-13.8zM402.6 526.8h27.6v1h-27.6zM402.2 530.8h18.1v1h-18.1zM414.0 532.8h11.3v1h-11.3zM389.6 533.8h15.9v1h-15.9zM405.5 533.8h26.7v1h-26.7zM401.2 534.8h24.1v1h-24.1zM367.5 535.8h15.4v1h-15.4zM405.8 535.8h19.6v1h-19.6zM367.5 538.8h28.0v1h-28.0zM422.8 538.8h10.2v1h-10.2zM367.5 539.8h13.5v1h-13.5zM389.7 539.8h7.4v1h-7.4zM397.1 539.8h12.0v1h-12.0zM379.5 540.9h26.8v1h-26.8zM383.3 542.9h12.1v1h-12.1zM395.3 542.9h17.6v1h-17.6zM413.0 542.9h9.6v1h-9.6zM411.2 545.9h26.4v1h-26.4zM367.5 546.9h9.0v1h-9.0zM394.7 546.9h20.5v1h-20.5zM367.5 550.9h13.1v1h-13.1zM380.6 550.9h27.4v1h-27.4zM418.2 550.9h12.4v1h-12.4zM403.4 551.9h29.9v1h-29.9zM367.5 552.9h18.2v1h-18.2zM408.0 552.9h21.6v1h-21.6zM429.6 552.9h8.0v1h-8.0zM404.9 555.9h20.4v1h-20.4zM425.3 555.9h12.3v1h-12.3zM395.0 556.9h11.3v1h-11.3zM367.5 559.9h24.6v1h-24.6zM426.8 559.9h10.8v1h-10.8zM367.5 560.9h10.3v1h-10.3zM377.8 560.9h6.5v1h-6.5zM411.8 560.9h22.7v1h-22.7zM367.5 561.9h22.4v1h-22.4zM389.9 561.9h18.0v1h-18.0zM428.3 561.9h9.3v1h-9.3zM419.1 563.9h18.5v1h-18.5zM367.5 564.9h13.0v1h-13.0zM367.5 565.9h7.9v1h-7.9zM367.5 567.9h6.5v1h-6.5zM367.5 574.0h7.2v1h-7.2zM420.5 574.0h17.1v1h-17.1zM367.5 576.0h21.4v1h-21.4zM410.8 576.0h26.8v1h-26.8zM367.5 578.0h10.6v1h-10.6zM423.0 579.0h14.6v1h-14.6z" fill="#f05a28" fill-opacity="0.15"/><path d="M405.3 467.6h20.4v1h-20.4zM396.0 474.7h26.4v1h-26.4zM398.8 476.7h26.0v1h-26.0zM367.5 478.7h18.7v1h-18.7zM403.0 478.7h14.2v1h-14.2zM415.4 484.7h11.6v1h-11.6zM387.3 488.7h23.0v1h-23.0zM406.1 498.7h7.4v1h-7.4zM367.5 500.7h10.1v1h-10.1zM414.9 500.7h11.6v1h-11.6zM367.5 506.7h6.3v1h-6.3zM418.0 506.7h16.3v1h-16.3zM434.3 506.7h3.3v1h-3.3zM367.5 508.8h26.2v1h-26.2zM393.7 508.8h6.3v1h-6.3zM400.0 508.8h10.6v1h-10.6zM420.8 510.8h9.0v1h-9.0zM383.4 511.8h13.1v1h-13.1zM367.5 514.8h16.8v1h-16.8zM402.9 515.8h21.6v1h-21.6zM381.4 517.8h16.4v1h-16.4zM393.6 519.8h26.9v1h-26.9zM420.5 519.8h17.1v1h-17.1zM383.7 522.8h13.3v1h-13.3zM397.0 522.8h24.8v1h-24.8zM421.9 522.8h15.7v1h-15.7zM367.5 524.8h15.3v1h-15.3zM410.7 524.8h26.9v1h-26.9zM367.5 525.8h22.1v1h-22.1zM398.2 527.8h27.8v1h-27.8zM402.5 529.8h14.1v1h-14.1zM367.5 530.8h14.7v1h-14.7zM382.2 530.8h20.0v1h-20.0zM367.5 532.8h18.6v1h-18.6zM432.2 533.8h5.4v1h-5.4zM376.6 534.8h24.6v1h-24.6zM425.2 534.8h12.4v1h-12.4zM382.9 535.8h22.9v1h-22.9zM409.1 539.8h8.8v1h-8.8zM417.8 539.8h6.7v1h-6.7zM424.5 539.8h13.1v1h-13.1zM367.5 540.9h12.0v1h-12.0zM367.5 541.9h11.2v1h-11.2zM378.7 541.9h16.0v1h-16.0zM394.7 541.9h13.1v1h-13.1zM367.5 542.9h7.2v1h-7.2zM416.6 543.9h21.0v1h-21.0zM415.1 546.9h11.0v1h-11.0zM426.1 546.9h8.0v1h-8.0zM430.6 550.9h7.0v1h-7.0zM367.5 551.9h15.0v1h-15.0zM382.5 551.9h20.9v1h-20.9zM367.5 553.9h6.1v1h-6.1zM373.6 553.9h6.3v1h-6.3zM367.5 556.9h27.5v1h-27.5zM413.0 556.9h12.1v1h-12.1zM425.2 556.9h12.4v1h-12.4zM384.3 560.9h11.2v1h-11.2zM434.5 560.9h3.1v1h-3.1z" fill="#f05a28" fill-opacity="0.2"/><path d="M393.6 462.6h9.8v1h-9.8zM367.5 472.6h8.1v1h-8.1zM380.9 476.7h17.9v1h-17.9zM387.2 481.7h28.4v1h-28.4zM409.1 483.7h13.1v1h-13.1zM422.2 483.7h15.4v1h-15.4zM426.9 484.7h10.7v1h-10.7zM396.7 487.7h25.4v1h-25.4zM430.4 488.7h7.2v1h-7.2zM389.6 489.7h11.9v1h-11.9zM401.5 489.7h27.7v1h-27.7zM394.9 491.7h14.2v1h-14.2zM433.3 495.7h4.3v1h-4.3zM404.7 496.7h17.2v1h-17.2zM377.0 497.7h23.3v1h-23.3zM402.3 502.7h8.6v1h-8.6zM382.7 505.7h13.3v1h-13.3zM394.5 509.8h13.1v1h-13.1zM407.6 509.8h7.5v1h-7.5zM414.0 511.8h9.5v1h-9.5zM367.5 512.8h19.9v1h-19.9zM367.5 513.8h23.2v1h-23.2zM390.7 513.8h26.4v1h-26.4zM401.7 516.8h6.5v1h-6.5zM395.2 518.8h20.5v1h-20.5zM367.5 519.8h26.1v1h-26.1zM406.6 521.8h27.8v1h-27.8zM367.5 526.8h11.0v1h-11.0zM430.1 526.8h7.5v1h-7.5zM388.0 528.8h10.2v1h-10.2zM398.2 528.8h14.4v1h-14.4zM412.5 528.8h15.7v1h-15.7zM367.5 529.8h21.2v1h-21.2zM432.3 530.8h5.3v1h-5.3zM374.9 531.8h28.0v1h-28.0zM402.9 531.8h22.2v1h-22.2zM425.0 531.8h12.6v1h-12.6zM425.4 535.8h12.2v1h-12.2zM407.8 541.9h29.8v1h-29.8zM367.5 543.9h26.9v1h-26.9zM394.4 543.9h22.2v1h-22.2zM434.2 546.9h3.4v1h-3.4z" fill="#f05a28" fill-opacity="0.25"/><path d="M430.3 462.6h7.3v1h-7.3zM390.3 467.6h6.9v1h-6.9zM425.6 467.6h12.0v1h-12.0zM398.4 468.6h11.2v1h-11.2zM409.7 468.6h15.3v1h-15.3zM431.4 473.6h6.2v1h-6.2zM422.4 474.7h15.2v1h-15.2zM415.6 481.7h22.0v1h-22.0zM367.5 482.7h15.0v1h-15.0zM367.5 483.7h7.9v1h-7.9zM375.4 483.7h9.5v1h-9.5zM367.5 485.7h26.5v1h-26.5zM422.1 487.7h15.5v1h-15.5zM410.3 488.7h14.0v1h-14.0zM367.5 493.7h18.0v1h-18.0zM400.1 494.7h19.5v1h-19.5zM384.7 495.7h20.1v1h-20.1zM400.3 497.7h19.6v1h-19.6zM395.8 498.7h10.3v1h-10.3zM380.1 501.7h25.4v1h-25.4zM431.8 502.7h5.8v1h-5.8zM397.5 504.7h7.8v1h-7.8zM405.3 504.7h22.5v1h-22.5zM367.5 509.8h27.0v1h-27.0zM423.5 511.8h14.1v1h-14.1zM387.4 512.8h18.4v1h-18.4zM387.3 516.8h14.4v1h-14.4zM408.2 516.8h10.3v1h-10.3zM397.8 517.8h16.2v1h-16.2zM429.5 517.8h8.1v1h-8.1zM420.3 530.8h12.0v1h-12.0zM367.5 531.8h7.4v1h-7.4zM367.5 534.8h9.1v1h-9.1z" fill="#f05a28" fill-opacity="0.3"/><path d="M389.9 464.6h11.4v1h-11.4zM367.5 467.6h11.9v1h-11.9zM379.4 467.6h10.9v1h-10.9zM397.2 467.6h8.1v1h-8.1zM388.4 471.6h27.5v1h-27.5zM389.1 473.6h29.9v1h-29.9zM384.6 475.7h18.9v1h-18.9zM424.8 476.7h12.8v1h-12.8zM386.2 478.7h16.8v1h-16.8zM398.3 480.7h20.6v1h-20.6zM367.5 481.7h19.7v1h-19.7zM398.1 483.7h11.0v1h-11.0zM394.0 485.7h7.3v1h-7.3zM401.3 485.7h18.5v1h-18.5zM419.7 485.7h17.9v1h-17.9zM399.3 486.7h27.8v1h-27.8zM427.0 486.7h10.6v1h-10.6zM367.5 487.7h29.2v1h-29.2zM367.5 488.7h19.8v1h-19.8zM367.5 489.7h16.1v1h-16.1zM367.5 491.7h20.9v1h-20.9zM409.0 491.7h12.9v1h-12.9zM384.1 492.7h24.0v1h-24.0zM404.8 495.7h28.5v1h-28.5zM421.8 496.7h15.8v1h-15.8zM388.3 498.7h7.6v1h-7.6zM388.8 499.7h9.4v1h-9.4zM405.5 501.7h6.0v1h-6.0zM411.5 501.7h19.9v1h-19.9zM431.4 501.7h6.2v1h-6.2zM367.5 502.7h27.1v1h-27.1zM394.6 502.7h7.7v1h-7.7zM367.5 503.7h23.2v1h-23.2zM390.7 503.7h23.2v1h-23.2zM387.8 504.7h9.7v1h-9.7zM417.1 513.8h20.5v1h-20.5zM432.5 516.8h5.1v1h-5.1zM367.5 517.8h13.9v1h-13.9zM367.5 518.8h27.7v1h-27.7zM367.5 522.8h16.2v1h-16.2zM367.5 527.8h8.0v1h-8.0zM375.5 527.8h22.7v1h-22.7zM367.5 528.8h6.6v1h-6.6zM374.1 528.8h13.9v1h-13.9zM428.3 528.8h9.3v1h-9.3zM388.7 529.8h13.8v1h-13.8zM416.7 529.8h20.9v1h-20.9zM406.2 540.9h22.2v1h-22.2z" fill="#f05a28" fill-opacity="0.35"/><path d="M367.5 462.6h26.1v1h-26.1zM422.8 464.6h14.8v1h-14.8zM367.5 466.6h13.1v1h-13.1zM398.7 466.6h23.7v1h-23.7zM390.3 469.6h19.1v1h-19.1zM367.5 470.6h25.2v1h-25.2zM390.9 472.6h26.8v1h-26.8zM417.7 472.6h19.9v1h-19.9zM380.5 473.6h8.6v1h-8.6zM403.4 475.7h15.0v1h-15.0zM367.5 476.7h13.4v1h-13.4zM417.2 478.7h7.2v1h-7.2zM390.9 480.7h7.4v1h-7.4zM382.5 482.7h17.5v1h-17.5zM367.5 486.7h11.9v1h-11.9zM388.4 491.7h6.5v1h-6.5zM367.5 492.7h16.6v1h-16.6zM431.9 492.7h5.7v1h-5.7zM367.5 494.7h7.4v1h-7.4zM367.5 498.7h12.0v1h-12.0zM367.5 499.7h21.3v1h-21.3zM367.5 501.7h12.6v1h-12.6zM410.9 502.7h20.9v1h-20.9zM413.8 503.7h14.2v1h-14.2zM427.8 504.7h9.8v1h-9.8zM414.4 512.8h23.2v1h-23.2zM367.5 516.8h19.8v1h-19.8zM426.1 516.8h6.4v1h-6.4zM414.0 517.8h15.6v1h-15.6zM426.0 527.8h11.6v1h-11.6zM428.5 540.9h9.1v1h-9.1z" fill="#f05a28" fill-opacity="0.4"/><path d="M403.4 462.6h26.8v1h-26.8zM367.5 464.6h22.4v1h-22.4zM394.9 465.6h7.9v1h-7.9zM367.5 468.6h12.9v1h-12.9zM425.0 468.6h9.1v1h-9.1zM392.7 470.6h23.2v1h-23.2zM382.3 472.6h8.6v1h-8.6zM395.9 479.7h26.0v1h-26.0zM425.5 482.7h12.1v1h-12.1zM384.9 483.7h13.2v1h-13.2zM379.4 486.7h19.9v1h-19.9zM424.3 488.7h6.0v1h-6.0zM383.6 489.7h6.0v1h-6.0zM387.0 490.7h28.6v1h-28.6zM421.9 491.7h15.7v1h-15.7zM374.9 494.7h25.3v1h-25.3zM419.7 494.7h6.9v1h-6.9zM367.5 496.7h8.7v1h-8.7zM379.5 498.7h8.8v1h-8.8zM413.5 498.7h21.0v1h-21.0zM434.5 498.7h3.1v1h-3.1zM428.0 503.7h9.6v1h-9.6zM415.1 509.8h22.5v1h-22.5zM415.7 518.8h21.9v1h-21.9z" fill="#f05a28" fill-opacity="0.45"/><path d="M417.6 465.6h6.1v1h-6.1zM389.7 468.6h8.7v1h-8.7zM375.6 472.6h6.7v1h-6.7zM424.4 478.7h13.2v1h-13.2zM367.5 480.7h23.4v1h-23.4zM400.0 482.7h25.5v1h-25.5zM408.1 492.7h23.8v1h-23.8zM426.6 494.7h11.0v1h-11.0zM376.2 496.7h28.4v1h-28.4zM398.1 499.7h18.6v1h-18.6zM418.4 516.8h7.7v1h-7.7z" fill="#f05a28" fill-opacity="0.5"/><path d="M385.9 461.6h28.9v1h-28.9zM401.3 464.6h21.4v1h-21.4zM373.6 465.6h8.9v1h-8.9zM409.4 469.6h6.1v1h-6.1zM416.0 470.6h21.6v1h-21.6zM418.5 475.7h10.6v1h-10.6zM367.5 490.7h19.5v1h-19.5zM367.5 495.7h9.2v1h-9.2zM376.7 495.7h8.1v1h-8.1zM367.5 497.7h9.5v1h-9.5zM416.7 499.7h20.9v1h-20.9zM367.5 504.7h20.3v1h-20.3z" fill="#f05a28" fill-opacity="0.55"/><path d="M401.8 459.6h13.5v1h-13.5zM382.5 465.6h12.5v1h-12.5zM380.4 468.6h9.3v1h-9.3zM415.6 469.6h22.0v1h-22.0zM421.8 479.7h15.8v1h-15.8zM429.2 489.7h8.4v1h-8.4zM415.7 490.7h21.9v1h-21.9zM419.9 497.7h17.7v1h-17.7z" fill="#f05a28" fill-opacity="0.6"/><path d="M387.5 457.6h23.6v1h-23.6zM402.8 465.6h14.8v1h-14.8zM434.1 468.6h3.5v1h-3.5zM367.5 473.6h13.0v1h-13.0zM419.0 473.6h12.4v1h-12.4zM367.5 479.7h28.4v1h-28.4zM418.9 480.7h18.7v1h-18.7z" fill="#f05a28" fill-opacity="0.65"/><path d="M415.9 471.6h9.3v1h-9.3zM367.5 475.7h17.1v1h-17.1zM429.0 475.7h8.6v1h-8.6z" fill="#f05a28" fill-opacity="0.7"/><path d="M376.7 460.6h16.6v1h-16.6zM380.6 466.6h18.0v1h-18.0zM425.2 471.6h12.4v1h-12.4z" fill="#f05a28" fill-opacity="0.75"/><path d="M393.4 460.6h10.9v1h-10.9zM367.5 461.6h10.7v1h-10.7zM397.3 463.6h11.1v1h-11.1z" fill="#f05a28" fill-opacity="0.8"/><path d="M387.0 459.6h14.7v1h-14.7zM404.2 460.6h12.1v1h-12.1zM422.4 466.6h15.2v1h-15.2z" fill="#f05a28" fill-opacity="0.85"/><path d="M411.1 457.6h18.8v1h-18.8zM367.5 465.6h6.1v1h-6.1zM423.7 465.6h13.9v1h-13.9zM367.5 471.6h20.9v1h-20.9z" fill="#f05a28" fill-opacity="0.9"/><path d="M378.0 457.6h9.5v1h-9.5zM378.2 461.6h7.8v1h-7.8z" fill="#f05a28" fill-opacity="0.95"/><path d="M367.5 457.6h10.5v1h-10.5zM429.9 457.6h7.7v1h-7.7zM367.5 458.6h9.5v1h-9.5zM377.0 458.6h25.4v1h-25.4zM402.5 458.6h25.8v1h-25.8zM428.3 458.6h9.3v1h-9.3zM367.5 459.6h19.5v1h-19.5zM415.3 459.6h22.3v1h-22.3zM367.5 460.6h9.2v1h-9.2zM416.3 460.6h21.3v1h-21.3zM414.8 461.6h22.8v1h-22.8zM367.5 463.6h9.3v1h-9.3zM376.8 463.6h20.5v1h-20.5zM408.4 463.6h19.9v1h-19.9zM428.3 463.6h9.3v1h-9.3zM367.5 469.6h9.1v1h-9.1zM376.6 469.6h13.7v1h-13.7z" fill="#f05a28" fill-opacity="1.0"/></g></svg>
<rect x="440.30" y="457.60" width="70.00" height="132.40" fill="#fff"/>
<svg x="440.3" y="457.6" width="70.0" height="132.4" viewBox="440.3 457.6 70.0 132.4" overflow="hidden"><g filter="url(#hb)"><path d="M440.3 471.6h16.8v1h-16.8zM457.1 471.6h17.9v1h-17.9zM475.0 471.6h13.1v1h-13.1zM488.1 471.6h12.0v1h-12.0zM500.0 471.6h10.3v1h-10.3zM464.5 475.7h11.7v1h-11.7zM460.5 481.7h20.3v1h-20.3zM463.0 482.7h24.0v1h-24.0zM487.1 482.7h18.8v1h-18.8zM453.7 488.7h19.4v1h-19.4zM473.2 488.7h29.2v1h-29.2zM458.4 489.7h16.8v1h-16.8zM475.2 489.7h7.2v1h-7.2zM482.4 489.7h16.9v1h-16.9zM440.3 491.7h14.2v1h-14.2zM454.5 491.7h29.0v1h-29.0zM483.5 491.7h16.7v1h-16.7zM500.2 491.7h10.1v1h-10.1zM440.3 495.7h13.1v1h-13.1zM453.4 495.7h7.0v1h-7.0zM478.6 495.7h26.9v1h-26.9zM505.5 495.7h4.8v1h-4.8zM440.3 496.7h27.1v1h-27.1zM467.4 496.7h19.7v1h-19.7zM487.1 496.7h23.2v1h-23.2zM466.8 497.7h8.3v1h-8.3zM495.9 497.7h14.4v1h-14.4zM465.8 505.7h12.7v1h-12.7zM463.6 506.7h28.1v1h-28.1zM460.1 512.8h11.2v1h-11.2zM504.7 512.8h5.6v1h-5.6zM440.3 513.8h10.9v1h-10.9zM451.2 513.8h14.2v1h-14.2zM465.4 513.8h14.9v1h-14.9zM480.2 513.8h30.1v1h-30.1zM454.8 514.8h29.3v1h-29.3zM494.6 514.8h15.7v1h-15.7zM440.3 515.8h25.8v1h-25.8zM466.1 515.8h17.2v1h-17.2zM483.3 515.8h17.6v1h-17.6zM487.5 516.8h7.1v1h-7.1zM501.3 516.8h9.0v1h-9.0zM440.3 517.8h12.3v1h-12.3zM452.6 517.8h12.7v1h-12.7zM465.3 517.8h25.1v1h-25.1zM490.4 517.8h19.9v1h-19.9zM461.1 519.8h20.4v1h-20.4zM507.3 519.8h3.0v1h-3.0zM440.3 520.8h29.2v1h-29.2zM469.5 520.8h7.7v1h-7.7zM477.2 520.8h29.8v1h-29.8zM506.9 520.8h3.4v1h-3.4zM440.3 523.8h29.7v1h-29.7zM470.0 523.8h11.0v1h-11.0zM481.0 523.8h18.1v1h-18.1zM499.1 523.8h11.2v1h-11.2zM472.8 527.8h25.6v1h-25.6zM440.3 530.8h21.6v1h-21.6zM489.6 531.8h9.1v1h-9.1zM466.1 536.8h26.2v1h-26.2zM492.3 536.8h18.0v1h-18.0zM457.4 537.8h21.9v1h-21.9zM479.3 537.8h8.9v1h-8.9zM488.1 537.8h22.2v1h-22.2zM475.9 538.8h29.0v1h-29.0zM469.2 540.9h23.9v1h-23.9zM493.1 540.9h17.2v1h-17.2zM440.3 541.9h15.5v1h-15.5zM455.8 541.9h12.5v1h-12.5zM468.3 541.9h25.2v1h-25.2zM493.5 541.9h12.1v1h-12.1zM505.6 541.9h4.7v1h-4.7zM461.0 542.9h12.4v1h-12.4zM440.3 543.9h12.3v1h-12.3zM452.6 543.9h26.8v1h-26.8zM479.4 543.9h18.3v1h-18.3zM497.8 543.9h12.5v1h-12.5zM440.3 545.9h24.2v1h-24.2zM490.9 545.9h19.4v1h-19.4zM471.9 546.9h16.7v1h-16.7zM503.6 547.9h6.7v1h-6.7zM440.3 548.9h22.8v1h-22.8zM463.1 548.9h12.7v1h-12.7zM475.8 548.9h23.3v1h-23.3zM499.1 548.9h11.2v1h-11.2zM504.4 549.9h5.9v1h-5.9zM440.3 550.9h29.5v1h-29.5zM469.8 550.9h10.0v1h-10.0zM479.8 550.9h30.5v1h-30.5zM440.3 551.9h26.2v1h-26.2zM473.6 551.9h13.4v1h-13.4zM456.2 552.9h28.1v1h-28.1zM460.1 553.9h6.1v1h-6.1zM463.7 555.9h27.2v1h-27.2zM440.3 556.9h25.3v1h-25.3zM465.6 556.9h16.7v1h-16.7zM482.3 556.9h18.7v1h-18.7zM501.0 556.9h9.3v1h-9.3zM464.4 557.9h25.3v1h-25.3zM487.7 560.9h16.7v1h-16.7zM440.3 561.9h25.3v1h-25.3zM465.6 561.9h20.4v1h-20.4zM486.0 561.9h24.3v1h-24.3zM440.3 562.9h21.3v1h-21.3zM461.6 562.9h18.3v1h-18.3zM479.9 562.9h6.9v1h-6.9zM470.2 563.9h10.6v1h-10.6zM480.8 563.9h22.9v1h-22.9zM466.9 564.9h14.2v1h-14.2zM481.1 564.9h23.2v1h-23.2zM440.3 565.9h25.6v1h-25.6zM465.9 565.9h8.8v1h-8.8zM474.7 565.9h16.6v1h-16.6zM491.3 565.9h7.8v1h-7.8zM499.1 565.9h11.2v1h-11.2zM440.3 566.9h7.8v1h-7.8zM456.8 566.9h25.0v1h-25.0zM481.8 566.9h20.0v1h-20.0zM501.8 566.9h8.5v1h-8.5zM452.2 568.9h17.0v1h-17.0zM505.3 569.9h5.0v1h-5.0zM440.3 570.9h17.9v1h-17.9zM458.2 570.9h17.2v1h-17.2zM496.3 570.9h14.0v1h-14.0zM440.3 571.9h15.8v1h-15.8zM456.1 571.9h10.5v1h-10.5zM466.6 571.9h7.6v1h-7.6zM474.2 571.9h6.4v1h-6.4zM480.6 571.9h16.3v1h-16.3zM496.9 571.9h13.4v1h-13.4zM440.3 572.9h14.7v1h-14.7zM455.0 572.9h18.3v1h-18.3zM473.3 572.9h12.2v1h-12.2zM485.4 572.9h12.0v1h-12.0zM497.4 572.9h12.9v1h-12.9zM453.7 574.0h29.5v1h-29.5zM483.2 574.0h12.1v1h-12.1zM495.3 574.0h15.0v1h-15.0zM448.9 575.0h10.3v1h-10.3zM459.2 575.0h14.6v1h-14.6zM481.5 575.0h15.9v1h-15.9zM440.3 576.0h18.9v1h-18.9zM506.4 577.0h3.9v1h-3.9zM440.3 578.0h15.7v1h-15.7zM456.0 578.0h7.6v1h-7.6zM463.5 578.0h8.5v1h-8.5zM472.0 578.0h11.7v1h-11.7zM483.7 578.0h12.8v1h-12.8zM496.5 578.0h13.8v1h-13.8zM461.5 579.0h21.2v1h-21.2zM450.7 580.0h13.8v1h-13.8zM464.5 580.0h8.8v1h-8.8zM473.3 580.0h23.3v1h-23.3zM496.6 580.0h13.7v1h-13.7zM440.3 581.0h22.3v1h-22.3zM462.6 581.0h17.8v1h-17.8zM480.4 581.0h22.2v1h-22.2zM502.6 581.0h7.7v1h-7.7zM476.6 583.0h11.4v1h-11.4zM440.3 584.0h17.8v1h-17.8zM458.1 584.0h19.5v1h-19.5zM477.6 584.0h25.7v1h-25.7zM503.4 584.0h6.9v1h-6.9zM440.3 585.0h10.2v1h-10.2zM450.5 585.0h26.8v1h-26.8zM477.3 585.0h27.1v1h-27.1zM504.4 585.0h5.9v1h-5.9zM440.3 586.0h17.1v1h-17.1zM457.4 586.0h11.1v1h-11.1zM468.4 586.0h29.1v1h-29.1zM497.5 586.0h12.8v1h-12.8zM440.3 587.0h22.2v1h-22.2zM462.5 587.0h8.5v1h-8.5zM471.0 587.0h11.3v1h-11.3zM482.3 587.0h6.8v1h-6.8zM489.1 587.0h21.2v1h-21.2zM440.3 588.0h19.1v1h-19.1zM459.4 588.0h12.7v1h-12.7zM472.1 588.0h20.2v1h-20.2zM492.3 588.0h8.2v1h-8.2zM500.4 588.0h9.9v1h-9.9zM440.3 589.0h22.0v1h-22.0zM462.3 589.0h26.2v1h-26.2zM488.5 589.0h21.8v1h-21.8z" fill="#f05a28" fill-opacity="0.05"/><path d="M460.4 464.6h28.5v1h-28.5zM488.8 464.6h12.0v1h-12.0zM440.3 475.7h15.3v1h-15.3zM455.6 475.7h8.9v1h-8.9zM476.2 475.7h26.6v1h-26.6zM440.3 478.7h26.6v1h-26.6zM466.9 478.7h27.7v1h-27.7zM485.3 480.7h16.4v1h-16.4zM449.0 481.7h11.4v1h-11.4zM480.7 481.7h24.6v1h-24.6zM440.3 482.7h11.8v1h-11.8zM452.1 482.7h10.9v1h-10.9zM505.9 482.7h4.4v1h-4.4zM468.5 485.7h16.2v1h-16.2zM469.2 486.7h28.7v1h-28.7zM440.3 489.7h18.1v1h-18.1zM499.3 489.7h11.0v1h-11.0zM440.3 504.7h21.3v1h-21.3zM461.6 504.7h27.3v1h-27.3zM440.3 505.7h8.6v1h-8.6zM448.9 505.7h17.0v1h-17.0zM478.6 505.7h13.1v1h-13.1zM491.6 505.7h9.2v1h-9.2zM500.8 505.7h9.5v1h-9.5zM457.6 506.7h6.0v1h-6.0zM491.7 506.7h13.6v1h-13.6zM505.4 506.7h4.9v1h-4.9zM451.1 507.8h26.8v1h-26.8zM473.7 508.8h15.7v1h-15.7zM478.0 511.8h26.4v1h-26.4zM504.4 511.8h5.9v1h-5.9zM440.3 512.8h19.8v1h-19.8zM471.3 512.8h13.8v1h-13.8zM485.1 512.8h19.6v1h-19.6zM440.3 514.8h14.5v1h-14.5zM484.0 514.8h10.6v1h-10.6zM440.3 516.8h9.0v1h-9.0zM462.3 516.8h25.1v1h-25.1zM494.5 516.8h6.8v1h-6.8zM440.3 518.8h24.7v1h-24.7zM465.0 518.8h18.4v1h-18.4zM483.5 518.8h16.3v1h-16.3zM440.3 519.8h20.8v1h-20.8zM481.5 519.8h25.8v1h-25.8zM461.8 521.8h28.7v1h-28.7zM490.5 521.8h10.4v1h-10.4zM457.5 522.8h17.7v1h-17.7zM472.4 524.8h16.9v1h-16.9zM448.3 525.8h25.7v1h-25.7zM473.9 525.8h28.5v1h-28.5zM502.5 525.8h7.8v1h-7.8zM452.4 527.8h20.4v1h-20.4zM498.4 527.8h11.9v1h-11.9zM458.8 528.8h18.2v1h-18.2zM481.4 529.8h8.4v1h-8.4zM461.9 530.8h21.9v1h-21.9zM483.8 530.8h10.4v1h-10.4zM440.3 531.8h9.6v1h-9.6zM449.9 531.8h26.7v1h-26.7zM476.6 531.8h13.1v1h-13.1zM506.3 531.8h4.0v1h-4.0zM440.3 532.8h12.0v1h-12.0zM452.3 532.8h19.0v1h-19.0zM471.3 532.8h11.4v1h-11.4zM482.7 532.8h21.6v1h-21.6zM463.7 533.8h19.9v1h-19.9zM483.6 533.8h26.7v1h-26.7zM440.3 537.8h17.1v1h-17.1zM440.3 538.8h8.0v1h-8.0zM448.3 538.8h16.5v1h-16.5zM464.9 538.8h11.0v1h-11.0zM504.9 538.8h5.4v1h-5.4zM440.3 540.9h28.9v1h-28.9zM473.4 542.9h24.7v1h-24.7zM498.1 542.9h12.2v1h-12.2zM479.6 544.9h8.5v1h-8.5zM488.0 544.9h22.3v1h-22.3zM440.3 546.9h14.5v1h-14.5zM454.8 546.9h17.1v1h-17.1zM440.3 547.9h26.1v1h-26.1zM466.4 547.9h19.9v1h-19.9zM486.2 547.9h17.4v1h-17.4zM440.3 549.9h23.9v1h-23.9zM464.2 549.9h26.8v1h-26.8zM491.0 549.9h13.4v1h-13.4zM466.5 551.9h7.0v1h-7.0zM505.2 551.9h5.1v1h-5.1zM440.3 552.9h6.9v1h-6.9zM447.2 552.9h9.0v1h-9.0zM484.3 552.9h17.6v1h-17.6zM440.3 553.9h19.8v1h-19.8zM466.2 553.9h22.3v1h-22.3zM488.5 553.9h10.6v1h-10.6zM499.1 553.9h11.2v1h-11.2zM462.5 554.9h21.9v1h-21.9zM484.4 554.9h25.9v1h-25.9zM440.3 555.9h23.4v1h-23.4zM440.3 557.9h24.1v1h-24.1zM489.7 557.9h20.6v1h-20.6zM440.3 559.9h12.2v1h-12.2zM452.5 559.9h12.3v1h-12.3zM479.3 559.9h31.0v1h-31.0zM465.0 560.9h22.7v1h-22.7zM486.9 562.9h23.4v1h-23.4zM440.3 563.9h19.6v1h-19.6zM459.9 563.9h10.3v1h-10.3zM440.3 564.9h9.7v1h-9.7zM450.0 564.9h17.0v1h-17.0zM504.3 564.9h6.0v1h-6.0zM448.1 566.9h8.7v1h-8.7zM440.3 568.9h11.9v1h-11.9zM469.2 568.9h24.9v1h-24.9zM494.1 568.9h16.2v1h-16.2zM440.3 569.9h19.3v1h-19.3zM459.6 569.9h21.2v1h-21.2zM480.8 569.9h24.5v1h-24.5zM440.3 574.0h13.4v1h-13.4zM440.3 575.0h8.6v1h-8.6zM473.8 575.0h7.7v1h-7.7zM497.4 575.0h12.9v1h-12.9zM440.3 579.0h21.2v1h-21.2zM482.7 579.0h27.6v1h-27.6zM440.3 580.0h10.4v1h-10.4zM440.3 582.0h29.4v1h-29.4zM469.7 582.0h26.1v1h-26.1zM495.8 582.0h14.5v1h-14.5z" fill="#f05a28" fill-opacity="0.1"/><path d="M440.3 464.6h20.1v1h-20.1zM500.9 464.6h9.4v1h-9.4zM452.3 465.6h28.0v1h-28.0zM503.4 470.6h6.9v1h-6.9zM502.8 475.7h7.5v1h-7.5zM472.9 477.7h14.4v1h-14.4zM487.2 477.7h23.1v1h-23.1zM494.6 478.7h9.7v1h-9.7zM504.3 478.7h6.0v1h-6.0zM457.1 479.7h7.6v1h-7.6zM505.3 481.7h5.0v1h-5.0zM484.7 485.7h25.6v1h-25.6zM453.4 487.7h29.1v1h-29.1zM440.3 488.7h13.4v1h-13.4zM502.3 488.7h8.0v1h-8.0zM440.3 492.7h12.9v1h-12.9zM453.2 492.7h19.7v1h-19.7zM472.9 492.7h23.8v1h-23.8zM470.0 501.7h29.9v1h-29.9zM502.9 504.7h7.4v1h-7.4zM440.3 506.7h17.3v1h-17.3zM440.3 507.8h10.8v1h-10.8zM477.9 507.8h22.4v1h-22.4zM500.3 507.8h10.0v1h-10.0zM440.3 508.8h17.5v1h-17.5zM457.8 508.8h15.9v1h-15.9zM496.6 510.8h13.7v1h-13.7zM458.1 511.8h19.9v1h-19.9zM449.3 516.8h13.0v1h-13.0zM499.8 518.8h10.5v1h-10.5zM440.3 521.8h11.3v1h-11.3zM451.6 521.8h10.2v1h-10.2zM500.9 521.8h9.4v1h-9.4zM440.3 524.8h18.4v1h-18.4zM458.7 524.8h13.7v1h-13.7zM489.3 524.8h21.0v1h-21.0zM440.3 525.8h8.0v1h-8.0zM460.5 526.8h29.9v1h-29.9zM490.3 526.8h6.1v1h-6.1zM440.3 527.8h12.1v1h-12.1zM440.3 528.8h18.5v1h-18.5zM477.0 528.8h20.0v1h-20.0zM497.1 528.8h13.2v1h-13.2zM447.7 529.8h18.4v1h-18.4zM466.1 529.8h15.3v1h-15.3zM489.8 529.8h20.5v1h-20.5zM494.2 530.8h16.1v1h-16.1zM498.8 531.8h7.6v1h-7.6zM504.3 532.8h6.0v1h-6.0zM440.3 533.8h23.4v1h-23.4zM460.0 534.8h27.1v1h-27.1zM440.3 535.8h11.2v1h-11.2zM475.9 535.8h9.1v1h-9.1zM485.0 535.8h11.6v1h-11.6zM440.3 536.8h25.8v1h-25.8zM440.3 542.9h20.7v1h-20.7zM440.3 544.9h17.1v1h-17.1zM457.4 544.9h22.2v1h-22.2zM488.6 546.9h21.7v1h-21.7zM487.0 551.9h18.1v1h-18.1zM440.3 554.9h22.2v1h-22.2zM464.9 559.9h14.4v1h-14.4zM440.3 560.9h24.7v1h-24.7zM504.4 560.9h5.9v1h-5.9zM503.6 563.9h6.7v1h-6.7z" fill="#f05a28" fill-opacity="0.15"/><path d="M468.8 463.6h13.3v1h-13.3zM480.3 465.6h24.3v1h-24.3zM440.3 468.6h9.1v1h-9.1zM458.9 468.6h9.5v1h-9.5zM468.4 468.6h11.3v1h-11.3zM479.8 468.6h21.8v1h-21.8zM469.8 470.6h25.9v1h-25.9zM495.7 470.6h7.6v1h-7.6zM456.8 474.7h25.1v1h-25.1zM504.2 474.7h6.1v1h-6.1zM440.3 477.7h15.2v1h-15.2zM455.5 477.7h17.4v1h-17.4zM440.3 480.7h19.3v1h-19.3zM459.6 480.7h25.6v1h-25.6zM440.3 481.7h8.7v1h-8.7zM440.3 485.7h28.2v1h-28.2zM440.3 486.7h28.9v1h-28.9zM497.9 486.7h12.4v1h-12.4zM440.3 487.7h13.1v1h-13.1zM494.3 487.7h10.9v1h-10.9zM505.2 487.7h5.1v1h-5.1zM496.7 492.7h13.6v1h-13.6zM472.3 493.7h15.3v1h-15.3zM440.3 494.7h28.3v1h-28.3zM466.2 498.7h13.7v1h-13.7zM498.8 499.7h11.5v1h-11.5zM499.9 501.7h6.4v1h-6.4zM488.9 504.7h14.0v1h-14.0zM440.3 509.8h25.2v1h-25.2zM465.5 509.8h23.2v1h-23.2zM488.7 509.8h21.6v1h-21.6zM450.6 510.8h11.1v1h-11.1zM476.8 510.8h19.9v1h-19.9zM440.3 511.8h11.3v1h-11.3zM451.6 511.8h6.5v1h-6.5zM440.3 522.8h17.2v1h-17.2zM475.2 522.8h28.0v1h-28.0zM503.2 522.8h7.1v1h-7.1zM440.3 526.8h20.2v1h-20.2zM506.2 526.8h4.1v1h-4.1zM440.3 534.8h19.7v1h-19.7zM487.1 534.8h23.2v1h-23.2zM451.5 535.8h24.4v1h-24.4zM496.6 535.8h13.7v1h-13.7zM501.9 552.9h8.4v1h-8.4zM490.9 555.9h19.4v1h-19.4z" fill="#f05a28" fill-opacity="0.2"/><path d="M440.3 462.6h28.5v1h-28.5zM478.3 462.6h19.7v1h-19.7zM440.3 465.6h12.0v1h-12.0zM504.6 465.6h5.7v1h-5.7zM457.6 467.6h12.3v1h-12.3zM480.7 467.6h9.4v1h-9.4zM449.4 468.6h9.5v1h-9.5zM501.5 468.6h8.8v1h-8.8zM440.3 470.6h29.5v1h-29.5zM450.5 479.7h6.6v1h-6.6zM464.7 479.7h20.1v1h-20.1zM484.8 479.7h13.4v1h-13.4zM501.6 480.7h8.7v1h-8.7zM488.9 484.7h6.4v1h-6.4zM482.5 487.7h11.8v1h-11.8zM440.3 490.7h27.8v1h-27.8zM468.1 490.7h9.0v1h-9.0zM483.8 490.7h13.8v1h-13.8zM497.6 490.7h12.7v1h-12.7zM480.9 499.7h18.0v1h-18.0zM440.3 500.7h25.0v1h-25.0zM465.3 500.7h13.6v1h-13.6zM478.9 500.7h31.4v1h-31.4zM455.5 502.7h9.1v1h-9.1zM473.5 502.7h18.9v1h-18.9zM492.4 502.7h17.9v1h-17.9zM489.4 508.8h20.9v1h-20.9zM461.7 510.8h15.1v1h-15.1zM496.4 526.8h9.8v1h-9.8zM440.3 529.8h7.4v1h-7.4z" fill="#f05a28" fill-opacity="0.25"/><path d="M460.9 459.6h22.5v1h-22.5zM469.5 460.6h25.6v1h-25.6zM494.3 461.6h16.0v1h-16.0zM440.3 463.6h28.5v1h-28.5zM468.6 472.6h26.5v1h-26.5zM440.3 474.7h16.5v1h-16.5zM462.8 476.7h24.6v1h-24.6zM498.2 479.7h12.1v1h-12.1zM468.6 483.7h17.3v1h-17.3zM481.9 484.7h7.0v1h-7.0zM495.2 484.7h15.1v1h-15.1zM477.1 490.7h6.7v1h-6.7zM454.9 493.7h17.4v1h-17.4zM494.0 493.7h13.0v1h-13.0zM462.6 499.7h18.3v1h-18.3zM440.3 501.7h29.7v1h-29.7zM440.3 502.7h15.2v1h-15.2zM464.6 502.7h8.9v1h-8.9zM440.3 503.7h20.3v1h-20.3zM460.6 503.7h27.7v1h-27.7zM440.3 510.8h10.3v1h-10.3z" fill="#f05a28" fill-opacity="0.3"/><path d="M451.5 460.6h18.0v1h-18.0zM495.2 460.6h15.1v1h-15.1zM457.8 461.6h18.8v1h-18.8zM476.7 461.6h17.6v1h-17.6zM482.1 463.6h21.1v1h-21.1zM503.2 463.6h7.1v1h-7.1zM440.3 467.6h17.3v1h-17.3zM469.9 467.6h10.8v1h-10.8zM495.1 472.6h15.2v1h-15.2zM481.9 474.7h22.3v1h-22.3zM440.3 479.7h10.2v1h-10.2zM460.0 483.7h8.5v1h-8.5zM493.4 483.7h16.9v1h-16.9zM457.2 484.7h24.7v1h-24.7zM487.6 493.7h6.4v1h-6.4zM468.6 494.7h15.9v1h-15.9zM484.5 494.7h25.8v1h-25.8z" fill="#f05a28" fill-opacity="0.35"/><path d="M503.5 459.6h6.8v1h-6.8zM468.8 462.6h9.4v1h-9.4zM490.1 467.6h16.7v1h-16.7zM440.3 483.7h8.2v1h-8.2zM485.9 483.7h7.5v1h-7.5zM440.3 493.7h14.6v1h-14.6zM507.0 493.7h3.3v1h-3.3zM440.3 498.7h25.9v1h-25.9zM480.0 498.7h30.3v1h-30.3zM440.3 499.7h22.3v1h-22.3zM506.3 501.7h4.0v1h-4.0zM488.2 503.7h22.1v1h-22.1z" fill="#f05a28" fill-opacity="0.4"/><path d="M440.3 466.6h26.2v1h-26.2zM440.3 469.6h12.4v1h-12.4zM481.1 469.6h7.5v1h-7.5z" fill="#f05a28" fill-opacity="0.45"/><path d="M440.3 458.6h21.2v1h-21.2zM499.6 458.6h10.7v1h-10.7zM440.3 461.6h17.5v1h-17.5zM506.8 467.6h3.5v1h-3.5zM452.7 469.6h28.4v1h-28.4zM488.6 469.6h21.7v1h-21.7zM440.3 472.6h28.3v1h-28.3zM469.3 473.6h22.9v1h-22.9zM440.3 476.7h22.5v1h-22.5zM487.4 476.7h11.4v1h-11.4zM498.8 476.7h11.5v1h-11.5zM448.5 483.7h11.5v1h-11.5zM440.3 484.7h16.9v1h-16.9z" fill="#f05a28" fill-opacity="0.5"/><path d="M490.7 458.6h9.0v1h-9.0zM466.5 466.6h15.2v1h-15.2zM481.7 466.6h19.1v1h-19.1zM440.3 473.6h29.0v1h-29.0zM492.2 473.6h18.1v1h-18.1z" fill="#f05a28" fill-opacity="0.55"/><path d="M440.3 457.6h12.5v1h-12.5zM505.2 457.6h5.1v1h-5.1zM461.5 458.6h19.2v1h-19.2zM483.4 459.6h20.1v1h-20.1zM498.0 462.6h12.3v1h-12.3z" fill="#f05a28" fill-opacity="0.6"/><path d="M480.7 458.6h10.0v1h-10.0z" fill="#f05a28" fill-opacity="0.65"/><path d="M452.8 457.6h23.6v1h-23.6zM476.4 457.6h13.3v1h-13.3zM440.3 460.6h11.2v1h-11.2zM500.8 466.6h9.5v1h-9.5z" fill="#f05a28" fill-opacity="0.7"/><path d="M440.3 459.6h20.6v1h-20.6z" fill="#f05a28" fill-opacity="0.75"/><path d="M489.7 457.6h15.5v1h-15.5z" fill="#f05a28" fill-opacity="0.9"/></g></svg>
<rect x="530.00" y="350.00" width="68.50" height="105.50" fill="#fbfbfe"/>
<svg x="530.0" y="350.0" width="68.5" height="105.5" viewBox="530.0 350.0 68.5 105.5" overflow="hidden"><g filter="url(#hb2)"><path d="M569.8 380.9h11.6v1h-11.6zM567.1 382.8h11.9v1h-11.9zM573.5 383.8h9.4v1h-9.4zM571.3 384.8h10.7v1h-10.7zM570.8 385.8h11.7v1h-11.7zM567.0 388.8h12.1v1h-12.1zM567.0 389.8h11.2v1h-11.2zM571.3 390.8h8.9v1h-8.9zM573.3 391.8h10.2v1h-10.2zM571.2 392.8h12.9v1h-12.9zM572.1 393.8h12.6v1h-12.6zM571.8 394.8h12.4v1h-12.4zM575.1 395.8h9.8v1h-9.8zM576.7 396.8h7.7v1h-7.7zM568.3 397.8h10.7v1h-10.7zM573.5 398.8h10.2v1h-10.2zM569.4 399.8h9.5v1h-9.5z" fill="#3b58a8" fill-opacity="0.05"/><path d="M568.4 350.0h22.3v1h-22.3zM566.0 352.0h21.8v1h-21.8zM573.4 365.9h14.3v1h-14.3zM572.3 374.9h9.2v1h-9.2zM576.4 375.9h7.8v1h-7.8zM567.4 378.9h12.4v1h-12.4zM569.9 379.9h10.4v1h-10.4zM573.7 381.8h11.9v1h-11.9zM571.4 386.8h10.7v1h-10.7zM570.7 387.8h9.4v1h-9.4zM555.6 388.8h32.6v1h-32.6zM560.3 393.8h33.7v1h-33.7zM565.9 395.8h26.3v1h-26.3zM558.3 397.8h28.8v1h-28.8zM563.9 398.8h27.4v1h-27.4zM560.5 399.8h25.6v1h-25.6z" fill="#3b58a8" fill-opacity="0.1"/><path d="M577.9 355.0h13.1v1h-13.1zM577.4 356.0h13.7v1h-13.7zM569.5 361.9h15.7v1h-15.7zM575.9 368.9h10.3v1h-10.3zM572.1 370.9h10.3v1h-10.3zM572.7 376.9h9.1v1h-9.1zM569.5 377.9h8.2v1h-8.2zM559.0 380.9h31.1v1h-31.1zM564.7 383.8h25.2v1h-25.2zM561.2 384.8h28.7v1h-28.7zM563.0 390.8h23.9v1h-23.9zM559.0 392.8h34.8v1h-34.8zM560.2 394.8h33.3v1h-33.3zM569.5 396.8h20.7v1h-20.7z" fill="#3b58a8" fill-opacity="0.15"/><path d="M573.2 353.0h10.7v1h-10.7zM573.7 360.9h13.2v1h-13.2zM573.5 366.9h15.5v1h-15.5zM570.5 369.9h14.7v1h-14.7zM563.7 374.9h24.7v1h-24.7zM555.9 382.8h31.9v1h-31.9zM559.8 385.8h31.4v1h-31.4zM561.3 386.8h28.9v1h-28.9zM556.5 389.8h30.1v1h-30.1zM563.8 391.8h27.3v1h-27.3z" fill="#3b58a8" fill-opacity="0.2"/><path d="M570.0 351.0h21.0v1h-21.0zM541.5 352.0h62.6v1h-62.6zM572.8 357.0h10.6v1h-10.6zM573.2 362.9h15.9v1h-15.9zM575.9 363.9h11.7v1h-11.7zM570.1 364.9h13.1v1h-13.1zM556.4 365.9h42.1v1h-42.1zM571.2 367.9h15.0v1h-15.0zM574.9 371.9h14.1v1h-14.1zM571.2 372.9h14.0v1h-14.0zM572.8 373.9h12.0v1h-12.0zM555.8 378.9h33.4v1h-33.4zM560.2 379.9h27.9v1h-27.9zM562.5 381.8h32.0v1h-32.0zM561.9 387.8h25.3v1h-25.3z" fill="#3b58a8" fill-opacity="0.25"/><path d="M569.5 358.0h17.5v1h-17.5zM573.5 359.0h15.8v1h-15.8zM569.1 375.9h21.0v1h-21.0z" fill="#3b58a8" fill-opacity="0.3"/><path d="M543.3 350.0h63.2v1h-63.2zM576.3 354.0h10.6v1h-10.6zM569.6 360.0h17.2v1h-17.2zM548.9 361.9h48.0v1h-48.0zM563.7 368.9h30.2v1h-30.2zM564.2 376.9h24.4v1h-24.4zM561.8 377.9h22.0v1h-22.0z" fill="#3b58a8" fill-opacity="0.35"/><path d="M560.7 355.0h40.1v1h-40.1zM559.9 370.9h30.3v1h-30.3zM544.0 390.8h32.4v1h-32.4z" fill="#3b58a8" fill-opacity="0.4"/><path d="M559.4 356.0h42.0v1h-42.0zM533.3 372.9h60.7v1h-60.7zM541.8 383.8h35.4v1h-35.4z" fill="#3b58a8" fill-opacity="0.45"/><path d="M559.2 353.0h32.7v1h-32.7z" fill="#3b58a8" fill-opacity="0.5"/><path d="M556.3 360.9h40.5v1h-40.5zM555.1 366.9h45.6v1h-45.6z" fill="#3b58a8" fill-opacity="0.6"/><path d="M553.0 369.9h43.2v1h-43.2z" fill="#3b58a8" fill-opacity="0.65"/><path d="M546.4 351.0h60.1v1h-60.1zM558.8 357.0h32.6v1h-32.6zM552.3 362.9h48.7v1h-48.7zM554.5 364.9h38.6v1h-38.6zM558.1 371.9h41.5v1h-41.5zM558.5 373.9h35.3v1h-35.3z" fill="#3b58a8" fill-opacity="0.7"/><path d="M560.5 363.9h35.8v1h-35.8zM553.4 367.9h44.1v1h-44.1zM554.5 372.9h41.1v1h-41.1z" fill="#3b58a8" fill-opacity="0.75"/><path d="M546.5 358.0h53.7v1h-53.7zM552.8 359.0h48.3v1h-48.3z" fill="#3b58a8" fill-opacity="0.9"/><path d="M547.1 360.0h52.6v1h-52.6z" fill="#3b58a8" fill-opacity="0.95"/><path d="M562.4 354.0h32.5v1h-32.5z" fill="#3b58a8" fill-opacity="1.0"/></g></svg>
<rect x="601.00" y="350.00" width="69.60" height="105.50" fill="#fbfbfe"/>
<svg x="601.0" y="350.0" width="69.6" height="105.5" viewBox="601.0 350.0 69.6 105.5" overflow="hidden"><g filter="url(#hb2)"><path d="M638.5 351.0h19.4v1h-19.4zM644.6 358.0h10.8v1h-10.8zM639.9 364.9h14.7v1h-14.7zM641.9 368.9h14.8v1h-14.8zM640.1 369.9h13.6v1h-13.6zM638.3 371.9h10.8v1h-10.8zM640.1 372.9h10.0v1h-10.0zM641.1 373.9h15.5v1h-15.5zM644.5 374.9h8.0v1h-8.0zM641.7 375.9h11.8v1h-11.8zM639.5 376.9h8.2v1h-8.2zM642.7 377.9h8.1v1h-8.1zM634.0 378.9h21.4v1h-21.4zM643.3 379.9h12.5v1h-12.5zM626.1 380.9h33.9v1h-33.9zM637.9 380.9h12.6v1h-12.6zM642.3 381.8h8.8v1h-8.8zM638.1 382.8h12.5v1h-12.5zM636.5 383.8h12.5v1h-12.5zM645.1 384.8h8.9v1h-8.9zM638.9 385.8h11.4v1h-11.4zM631.4 386.8h24.5v1h-24.5zM627.9 387.8h33.9v1h-33.9zM635.0 388.8h13.1v1h-13.1zM638.1 389.8h8.2v1h-8.2zM643.9 390.8h10.1v1h-10.1zM630.7 391.8h35.0v1h-35.0zM642.0 392.8h9.6v1h-9.6zM635.5 393.8h25.4v1h-25.4zM627.8 394.8h28.1v1h-28.1zM628.4 395.8h29.0v1h-29.0zM638.5 395.8h10.8v1h-10.8zM622.9 396.8h35.2v1h-35.2zM629.7 397.8h25.6v1h-25.6zM636.1 398.8h22.6v1h-22.6zM628.0 399.8h26.0v1h-26.0z" fill="#3b58a8" fill-opacity="0.05"/><path d="M638.7 354.0h16.9v1h-16.9zM647.1 356.0h12.9v1h-12.9zM644.0 360.0h12.8v1h-12.8zM643.9 360.9h14.5v1h-14.5zM642.4 361.9h13.6v1h-13.6zM637.1 365.9h12.1v1h-12.1zM643.5 366.9h12.7v1h-12.7zM624.0 369.9h39.9v1h-39.9zM640.8 370.9h11.2v1h-11.2zM637.0 374.9h21.4v1h-21.4zM630.7 375.9h31.7v1h-31.7zM631.9 376.9h21.9v1h-21.9zM634.1 381.8h23.6v1h-23.6zM626.4 382.8h33.6v1h-33.6zM624.8 383.8h33.5v1h-33.5zM628.1 385.8h30.8v1h-30.8zM622.8 388.8h35.1v1h-35.1zM630.5 389.8h21.9v1h-21.9zM634.5 390.8h27.1v1h-27.1zM633.0 392.8h25.8v1h-25.8z" fill="#3b58a8" fill-opacity="0.1"/><path d="M636.0 350.0h15.9v1h-15.9zM616.6 351.0h55.9v1h-55.9zM634.3 352.0h22.3v1h-22.3zM646.2 355.0h14.8v1h-14.8zM638.4 357.0h16.7v1h-16.7zM641.2 359.0h15.5v1h-15.5zM643.3 362.9h11.2v1h-11.2zM642.0 363.9h13.0v1h-13.0zM622.5 364.9h43.1v1h-43.1zM642.7 367.9h12.5v1h-12.5zM628.2 372.9h29.4v1h-29.4zM631.6 379.9h33.6v1h-33.6zM636.8 384.8h23.8v1h-23.8z" fill="#3b58a8" fill-opacity="0.15"/><path d="M646.0 353.0h10.9v1h-10.9zM630.5 358.0h33.0v1h-33.0zM624.3 368.9h43.6v1h-43.6zM625.5 371.9h31.7v1h-31.7zM622.7 373.9h45.6v1h-45.6zM635.1 377.9h21.8v1h-21.8z" fill="#3b58a8" fill-opacity="0.2"/><path d="M630.2 356.0h39.4v1h-39.4zM628.4 366.9h37.3v1h-37.3z" fill="#3b58a8" fill-opacity="0.25"/><path d="M616.5 354.0h51.8v1h-51.8zM627.3 360.0h39.1v1h-39.1zM624.6 361.9h41.5v1h-41.5zM622.8 365.9h35.5v1h-35.5zM627.6 370.9h32.8v1h-32.8zM609.4 393.8h25.9v1h-25.9z" fill="#3b58a8" fill-opacity="0.3"/><path d="M620.9 359.0h47.4v1h-47.4zM624.9 360.9h44.4v1h-44.4zM628.5 362.9h34.5v1h-34.5z" fill="#3b58a8" fill-opacity="0.35"/><path d="M618.2 350.0h45.6v1h-45.6zM609.2 352.0h64.1v1h-64.1zM616.4 357.0h51.2v1h-51.2zM624.9 363.9h39.8v1h-39.8zM627.9 367.9h36.8v1h-36.8z" fill="#3b58a8" fill-opacity="0.4"/><path d="M626.8 355.0h45.3v1h-45.3z" fill="#3b58a8" fill-opacity="0.45"/><path d="M631.7 353.0h33.3v1h-33.3z" fill="#3b58a8" fill-opacity="0.5"/></g></svg>
<rect x="530.00" y="457.60" width="68.50" height="132.40" fill="#fbfbfe"/>
<svg x="530.0" y="457.6" width="68.5" height="132.4" viewBox="530.0 457.6 68.5 132.4" overflow="hidden"><g filter="url(#hb2)"><path d="M565.5 482.7h12.0v1h-12.0zM569.0 484.7h10.3v1h-10.3zM564.4 490.7h12.3v1h-12.3zM570.8 492.7h9.0v1h-9.0zM570.4 493.7h9.2v1h-9.2zM562.7 495.7h12.7v1h-12.7zM568.8 497.7h10.8v1h-10.8zM568.5 498.7h9.5v1h-9.5zM570.4 500.7h10.1v1h-10.1zM571.3 501.7h9.4v1h-9.4zM554.9 503.7h31.3v1h-31.3zM567.7 504.7h8.0v1h-8.0zM568.2 505.7h9.9v1h-9.9zM567.7 506.7h8.6v1h-8.6z" fill="#3b58a8" fill-opacity="0.05"/><path d="M567.8 481.7h10.3v1h-10.3zM569.6 483.7h8.6v1h-8.6zM568.0 485.7h9.3v1h-9.3zM566.0 487.7h9.4v1h-9.4zM568.4 489.7h9.1v1h-9.1zM564.0 491.7h10.8v1h-10.8zM561.8 493.7h24.7v1h-24.7zM563.2 494.7h11.7v1h-11.7zM571.5 496.7h8.7v1h-8.7zM565.0 499.7h10.0v1h-10.0zM564.5 502.7h9.8v1h-9.8zM560.2 504.7h21.5v1h-21.5zM559.6 506.7h23.2v1h-23.2z" fill="#3b58a8" fill-opacity="0.1"/><path d="M565.7 459.6h15.6v1h-15.6zM568.9 474.7h10.3v1h-10.3zM565.6 475.7h15.1v1h-15.1zM569.2 479.7h11.4v1h-11.4zM572.7 480.7h9.7v1h-9.7zM554.2 482.7h32.2v1h-32.2zM570.3 486.7h10.4v1h-10.4zM566.3 488.7h9.8v1h-9.8zM550.8 495.7h34.1v1h-34.1zM561.0 500.7h27.0v1h-27.0zM558.9 505.7h26.7v1h-26.7z" fill="#3b58a8" fill-opacity="0.15"/><path d="M565.7 458.6h16.8v1h-16.8zM571.1 468.6h15.6v1h-15.6zM571.9 472.6h11.7v1h-11.7zM563.7 473.6h15.3v1h-15.3zM569.6 478.7h12.9v1h-12.9zM559.3 484.7h27.7v1h-27.7zM552.8 490.7h33.2v1h-33.2zM562.4 492.7h24.3v1h-24.3zM558.7 497.7h29.0v1h-29.0zM559.6 498.7h25.4v1h-25.4zM562.5 501.7h25.2v1h-25.2zM555.4 502.7h26.2v1h-26.2z" fill="#3b58a8" fill-opacity="0.2"/><path d="M572.2 462.6h13.1v1h-13.1zM566.2 463.6h13.9v1h-13.9zM569.0 466.6h16.4v1h-16.4zM566.9 467.6h16.1v1h-16.1zM569.8 477.7h13.4v1h-13.4zM558.2 481.7h27.6v1h-27.6zM561.6 483.7h23.2v1h-23.2zM559.9 489.7h24.4v1h-24.4zM553.9 491.7h29.0v1h-29.0zM555.7 499.7h26.9v1h-26.9z" fill="#3b58a8" fill-opacity="0.25"/><path d="M568.8 460.6h15.8v1h-15.8zM571.9 464.6h11.7v1h-11.7zM571.2 471.6h12.7v1h-12.7zM568.9 476.7h15.1v1h-15.1zM552.3 494.7h31.5v1h-31.5zM563.4 496.7h23.3v1h-23.3z" fill="#3b58a8" fill-opacity="0.3"/><path d="M565.0 457.6h25.1v1h-25.1zM572.7 469.6h14.7v1h-14.7zM556.7 474.7h30.3v1h-30.3zM555.7 479.7h33.5v1h-33.5zM559.3 485.7h25.0v1h-25.0zM557.2 487.7h25.3v1h-25.3z" fill="#3b58a8" fill-opacity="0.35"/><path d="M569.7 461.6h15.2v1h-15.2zM568.5 465.6h11.2v1h-11.2zM552.4 496.7h27.2v1h-27.2zM541.9 514.8h67.3v1h-67.3z" fill="#3b58a8" fill-opacity="0.4"/><path d="M566.2 470.6h13.4v1h-13.4zM547.7 475.7h44.4v1h-44.4zM561.1 480.7h28.6v1h-28.6zM560.5 486.7h27.9v1h-27.9zM557.1 488.7h26.3v1h-26.3z" fill="#3b58a8" fill-opacity="0.45"/><path d="M548.1 459.6h44.9v1h-44.9zM562.0 470.6h53.5v1h-53.5z" fill="#3b58a8" fill-opacity="0.5"/><path d="M550.7 468.6h47.7v1h-47.7zM558.0 472.6h34.3v1h-34.3zM554.4 478.7h37.8v1h-37.8z" fill="#3b58a8" fill-opacity="0.55"/><path d="M546.8 458.6h48.2v1h-48.2zM545.5 473.6h45.1v1h-45.1z" fill="#3b58a8" fill-opacity="0.6"/><path d="M547.4 466.6h50.3v1h-50.3zM545.8 467.6h49.3v1h-49.3z" fill="#3b58a8" fill-opacity="0.7"/><path d="M555.0 462.6h40.1v1h-40.1zM548.0 463.6h42.5v1h-42.5zM553.9 477.7h39.4v1h-39.4z" fill="#3b58a8" fill-opacity="0.75"/><path d="M548.1 460.6h48.4v1h-48.4zM556.5 464.6h35.8v1h-35.8zM556.0 471.6h37.4v1h-37.4z" fill="#3b58a8" fill-opacity="0.85"/><path d="M550.9 476.7h44.3v1h-44.3z" fill="#3b58a8" fill-opacity="0.9"/><path d="M553.3 469.6h45.1v1h-45.1z" fill="#3b58a8" fill-opacity="0.95"/><path d="M536.7 457.6h69.8v1h-69.8zM549.7 461.6h46.6v1h-46.6zM553.8 465.6h34.3v1h-34.3zM548.6 470.6h41.1v1h-41.1z" fill="#3b58a8" fill-opacity="1.0"/></g></svg>
<rect x="601.00" y="457.60" width="69.60" height="132.40" fill="#fbfbfe"/>
<svg x="601.0" y="457.6" width="69.6" height="132.4" viewBox="601.0 457.6 69.6 132.4" overflow="hidden"><g filter="url(#hb2)"><path d="M641.4 481.7h12.2v1h-12.2zM640.1 482.7h8.2v1h-8.2zM637.0 485.7h8.5v1h-8.5zM635.1 488.7h13.3v1h-13.3zM640.5 489.7h11.6v1h-11.6zM640.9 490.7h11.9v1h-11.9zM639.7 491.7h12.0v1h-12.0zM642.4 492.7h10.9v1h-10.9zM642.8 495.7h9.8v1h-9.8zM635.5 496.7h10.7v1h-10.7zM640.3 497.7h12.4v1h-12.4zM640.0 498.7h11.6v1h-11.6zM640.5 499.7h12.7v1h-12.7zM635.9 500.7h10.7v1h-10.7zM642.8 501.7h8.6v1h-8.6zM632.8 502.7h21.0v1h-21.0zM637.6 503.7h12.9v1h-12.9zM635.1 504.7h11.3v1h-11.3zM627.7 505.7h32.4v1h-32.4zM624.5 506.7h35.5v1h-35.5z" fill="#3b58a8" fill-opacity="0.05"/><path d="M636.4 483.7h11.4v1h-11.4zM642.0 484.7h12.5v1h-12.5zM638.5 487.7h13.1v1h-13.1zM638.2 493.7h13.0v1h-13.0zM642.6 494.7h10.6v1h-10.6zM629.2 498.7h31.2v1h-31.2zM628.6 499.7h34.2v1h-34.2zM634.7 501.7h23.1v1h-23.1zM624.5 504.7h30.5v1h-30.5z" fill="#3b58a8" fill-opacity="0.1"/><path d="M639.6 460.6h17.7v1h-17.7zM640.5 462.6h12.8v1h-12.8zM641.4 464.6h16.5v1h-16.5zM638.0 474.7h11.6v1h-11.6zM639.0 476.7h15.4v1h-15.4zM630.0 481.7h32.8v1h-32.8zM636.3 486.7h11.2v1h-11.2zM622.7 488.7h35.6v1h-35.6zM629.7 490.7h31.9v1h-31.9zM632.3 492.7h29.2v1h-29.2zM633.6 495.7h26.3v1h-26.3zM625.5 496.7h28.7v1h-28.7zM628.7 497.7h33.4v1h-33.4zM625.9 500.7h28.7v1h-28.7zM625.6 503.7h34.6v1h-34.6z" fill="#3b58a8" fill-opacity="0.15"/><path d="M646.5 461.6h11.2v1h-11.2zM640.1 473.6h12.1v1h-12.1zM636.0 475.7h11.1v1h-11.1zM634.6 478.7h14.6v1h-14.6zM632.4 482.7h22.1v1h-22.1zM629.0 485.7h22.9v1h-22.9zM629.6 489.7h31.3v1h-31.3zM628.5 491.7h32.1v1h-32.1z" fill="#3b58a8" fill-opacity="0.2"/><path d="M639.6 457.6h17.6v1h-17.6zM630.1 458.6h24.0v1h-24.0zM637.5 459.6h20.5v1h-20.5zM639.6 466.6h11.6v1h-11.6zM637.5 471.6h11.8v1h-11.8zM633.7 472.6h16.0v1h-16.0zM636.9 477.7h14.2v1h-14.2zM637.0 479.7h12.3v1h-12.3zM634.0 480.7h15.6v1h-15.6zM630.3 484.7h33.6v1h-33.6zM626.1 493.7h34.9v1h-34.9zM632.7 494.7h28.6v1h-28.6z" fill="#3b58a8" fill-opacity="0.25"/><path d="M638.5 468.6h15.3v1h-15.3zM639.2 469.6h16.5v1h-16.5zM616.0 471.6h36.1v1h-36.1zM626.3 487.7h35.1v1h-35.1z" fill="#3b58a8" fill-opacity="0.3"/><path d="M640.3 470.6h11.9v1h-11.9zM625.7 483.7h30.7v1h-30.7zM625.7 486.7h30.2v1h-30.2z" fill="#3b58a8" fill-opacity="0.35"/><path d="M645.4 463.6h12.9v1h-12.9zM638.3 465.6h16.1v1h-16.1zM638.1 467.6h14.3v1h-14.3z" fill="#3b58a8" fill-opacity="0.4"/><path d="M616.3 460.6h54.3v1h-54.3zM619.7 464.6h50.6v1h-50.6zM624.2 474.7h34.1v1h-34.1z" fill="#3b58a8" fill-opacity="0.45"/><path d="M623.6 462.6h39.3v1h-39.3zM620.7 476.7h45.2v1h-45.2zM617.3 478.7h42.9v1h-42.9z" fill="#3b58a8" fill-opacity="0.5"/><path d="M625.8 473.6h35.5v1h-35.5z" fill="#3b58a8" fill-opacity="0.55"/><path d="M631.9 461.6h34.2v1h-34.2z" fill="#3b58a8" fill-opacity="0.6"/><path d="M622.8 475.7h32.6v1h-32.6z" fill="#3b58a8" fill-opacity="0.65"/><path d="M619.7 457.6h50.7v1h-50.7zM603.1 458.6h69.1v1h-69.1zM614.4 459.6h59.0v1h-59.0zM614.7 472.6h46.9v1h-46.9zM620.1 477.7h41.6v1h-41.6z" fill="#3b58a8" fill-opacity="0.7"/><path d="M624.4 466.6h35.5v1h-35.5zM623.5 471.6h34.8v1h-34.8zM622.3 479.7h36.2v1h-36.2zM615.5 480.7h45.8v1h-45.8z" fill="#3b58a8" fill-opacity="0.75"/><path d="M618.5 468.6h46.8v1h-46.8z" fill="#3b58a8" fill-opacity="0.8"/><path d="M617.5 469.6h50.5v1h-50.5z" fill="#3b58a8" fill-opacity="0.9"/><path d="M628.5 463.6h39.5v1h-39.5zM617.2 465.6h49.3v1h-49.3zM619.3 467.6h43.9v1h-43.9zM624.6 470.6h36.5v1h-36.5z" fill="#3b58a8" fill-opacity="1.0"/></g></svg>
<rect x="512.20" y="538.00" width="3.90" height="52.00" fill="url(#cbo)" stroke="#aaa" stroke-width="0.3"/>
<text x="518.7" y="543.1" font-size="5.23" fill="#333" textLength="2.3" lengthAdjust="spacingAndGlyphs">7</text>
<text x="518.7" y="557.4" font-size="5.23" fill="#333" textLength="2.3" lengthAdjust="spacingAndGlyphs">5</text>
<text x="518.7" y="571.4" font-size="5.23" fill="#333" textLength="2.3" lengthAdjust="spacingAndGlyphs">3</text>
<text x="518.7" y="584.8" font-size="5.23" fill="#333" textLength="2.3" lengthAdjust="spacingAndGlyphs">1</text>
<rect x="673.30" y="539.10" width="4.70" height="52.60" fill="url(#cbb)" stroke="#aaa" stroke-width="0.3"/>
<text x="679.8" y="546.6" font-size="5.23" fill="#333" textLength="4.6" lengthAdjust="spacingAndGlyphs">40</text>
<text x="679.8" y="558.3" font-size="5.23" fill="#333" textLength="4.6" lengthAdjust="spacingAndGlyphs">30</text>
<text x="679.8" y="570.5" font-size="5.23" fill="#333" textLength="4.6" lengthAdjust="spacingAndGlyphs">20</text>
<text x="679.8" y="582.2" font-size="5.23" fill="#333" textLength="4.6" lengthAdjust="spacingAndGlyphs">10</text>
<text x="679.8" y="591.8" font-size="5.23" fill="#333" textLength="2.3" lengthAdjust="spacingAndGlyphs">0</text>
<text transform="translate(363.2,435.3) rotate(-90)" font-size="10.76" font-weight="bold" fill="#6e4280" textLength="63.7" lengthAdjust="spacingAndGlyphs">Downregulated</text>
<text transform="translate(363.2,559.5) rotate(-90)" font-size="10.76" font-weight="bold" fill="#2d7372" textLength="52.1" lengthAdjust="spacingAndGlyphs">Upregulated</text>
<text x="367.4" y="594.8" font-size="4.65" fill="#333" textLength="9.4" lengthAdjust="spacingAndGlyphs">-3kb</text>
<text x="426.4" y="594.3" font-size="4.65" fill="#333" textLength="10.0" lengthAdjust="spacingAndGlyphs">+3kb</text>
<line x1="384.8" y1="590.3" x2="384.8" y2="591.8" stroke="#555" stroke-width="0.5"/>
<line x1="419.5" y1="590.3" x2="419.5" y2="591.8" stroke="#555" stroke-width="0.5"/>
<text x="378.6" y="603.5" font-size="9.01" fill="#000" textLength="14.1" lengthAdjust="spacingAndGlyphs">TSS</text>
<text x="413.3" y="603.5" font-size="9.01" fill="#000" textLength="13.7" lengthAdjust="spacingAndGlyphs">TES</text>
<text x="440.1" y="594.8" font-size="4.65" fill="#333" textLength="9.4" lengthAdjust="spacingAndGlyphs">-3kb</text>
<text x="498.8" y="594.3" font-size="4.65" fill="#333" textLength="10.0" lengthAdjust="spacingAndGlyphs">+3kb</text>
<line x1="457.2" y1="590.3" x2="457.2" y2="591.8" stroke="#555" stroke-width="0.5"/>
<line x1="492.0" y1="590.3" x2="492.0" y2="591.8" stroke="#555" stroke-width="0.5"/>
<text x="450.5" y="603.5" font-size="9.01" fill="#000" textLength="13.7" lengthAdjust="spacingAndGlyphs">TSS</text>
<text x="485.3" y="603.5" font-size="9.01" fill="#000" textLength="13.6" lengthAdjust="spacingAndGlyphs">TES</text>
<text x="530.8" y="596.2" font-size="4.65" fill="#333" textLength="8.5" lengthAdjust="spacingAndGlyphs">-2kb</text>
<text x="588.2" y="596.2" font-size="4.65" fill="#333" textLength="9.4" lengthAdjust="spacingAndGlyphs">+2kb</text>
<text x="602.7" y="596.2" font-size="4.65" fill="#333" textLength="8.3" lengthAdjust="spacingAndGlyphs">-2kb</text>
<text x="659.8" y="596.2" font-size="4.65" fill="#333" textLength="9.6" lengthAdjust="spacingAndGlyphs">+2kb</text>
<line x1="564.1" y1="590.8" x2="564.1" y2="592.2" stroke="#555" stroke-width="0.5"/>
<line x1="635.7" y1="590.8" x2="635.7" y2="592.2" stroke="#555" stroke-width="0.5"/>
<text x="557.3" y="604.4" font-size="9.01" fill="#000" textLength="13.7" lengthAdjust="spacingAndGlyphs">TSS</text>
<text x="629.6" y="604.4" font-size="9.01" fill="#000" textLength="13.3" lengthAdjust="spacingAndGlyphs">TSS</text>
<text transform="translate(22.4,580.0) rotate(-90)" font-size="12.21" font-weight="bold" fill="#7a2e4c" textLength="37.6" lengthAdjust="spacingAndGlyphs">WCM154</text>
<text transform="translate(37.7,546.8) rotate(-90)" font-size="7.27" fill="#111" textLength="25.4" lengthAdjust="spacingAndGlyphs">sgGFP</text>
<text transform="translate(37.7,608.1) rotate(-90)" font-size="7.27" fill="#111" textLength="38.5" lengthAdjust="spacingAndGlyphs">sgDNMT1</text>
<line x1="41.8" y1="513.4" x2="41.8" y2="556.8" stroke="#bbb" stroke-width="0.9"/>
<line x1="41.8" y1="569.0" x2="41.8" y2="612.2" stroke="#bbb" stroke-width="0.9"/>
<line x1="45.9" y1="504.2" x2="116.0" y2="504.2" stroke="#ddd" stroke-width="1.0"/>
<text x="118.8" y="506.2" font-size="6.69" fill="#888" textLength="12.1" lengthAdjust="spacingAndGlyphs">49kb</text>
<line x1="137.5" y1="504.2" x2="207.6" y2="504.2" stroke="#ddd" stroke-width="1.0"/>
<line x1="214.5" y1="503.9" x2="257.8" y2="503.9" stroke="#ddd" stroke-width="1.0"/>
<text x="261.9" y="506.0" font-size="6.69" fill="#888" textLength="12.4" lengthAdjust="spacingAndGlyphs">61kb</text>
<line x1="285.6" y1="503.9" x2="328.7" y2="503.9" stroke="#ddd" stroke-width="1.0"/>
<rect x="45.30" y="508.30" width="164.40" height="120.30" fill="#f8f8f8" stroke="#444" stroke-width="0.9"/>
<rect x="212.60" y="508.50" width="118.00" height="120.00" fill="#f8f8f8" stroke="#444" stroke-width="0.9"/>
<line x1="45.3" y1="526.5" x2="209.7" y2="526.5" stroke="#4264b0" stroke-width="0.6"/>
<line x1="212.6" y1="526.5" x2="330.6" y2="526.5" stroke="#4264b0" stroke-width="0.6"/>
<line x1="45.3" y1="545.2" x2="209.7" y2="545.2" stroke="#f04e1c" stroke-width="0.6"/>
<line x1="212.6" y1="545.2" x2="330.6" y2="545.2" stroke="#f04e1c" stroke-width="0.6"/>
<line x1="45.3" y1="563.5" x2="209.7" y2="563.5" stroke="#a8a590" stroke-width="0.6"/>
<line x1="212.6" y1="563.5" x2="330.6" y2="563.5" stroke="#a8a590" stroke-width="0.6"/>
<line x1="45.3" y1="581.4" x2="209.7" y2="581.4" stroke="#4264b0" stroke-width="0.6"/>
<line x1="212.6" y1="581.4" x2="330.6" y2="581.4" stroke="#4264b0" stroke-width="0.6"/>
<line x1="45.3" y1="599.8" x2="209.7" y2="599.8" stroke="#f04e1c" stroke-width="0.6"/>
<line x1="212.6" y1="599.8" x2="330.6" y2="599.8" stroke="#f04e1c" stroke-width="0.6"/>
<line x1="45.3" y1="617.8" x2="209.7" y2="617.8" stroke="#a8a590" stroke-width="0.6"/>
<line x1="212.6" y1="617.8" x2="330.6" y2="617.8" stroke="#a8a590" stroke-width="0.6"/>
<path d="M46.0,526.5 L46.0,526.5 L46.5,526.2 L47.0,526.2 L47.5,526.4 L48.0,526.3 L48.5,526.3 L49.0,526.3 L49.5,526.2 L50.0,526.5 L50.5,526.5 L51.0,526.2 L51.5,526.3 L52.0,526.2 L52.5,526.5 L53.0,526.3 L53.5,526.2 L54.0,526.4 L54.5,526.2 L55.0,526.2 L55.5,526.5 L56.0,526.5 L56.5,526.3 L57.0,526.2 L57.5,526.4 L58.0,526.4 L58.5,526.3 L59.0,526.5 L59.5,526.4 L60.0,526.3 L60.5,526.3 L61.0,526.4 L61.5,526.4 L62.0,526.4 L62.5,526.3 L63.0,526.4 L63.5,526.5 L64.0,526.2 L64.5,526.3 L65.0,526.3 L65.5,526.4 L66.0,526.1 L66.5,526.2 L67.0,526.5 L67.5,526.4 L68.0,526.2 L68.5,526.2 L69.0,526.2 L69.5,526.3 L70.0,526.2 L70.5,526.3 L71.0,526.4 L71.5,526.3 L72.0,526.2 L72.5,526.2 L73.0,526.3 L73.5,526.2 L74.0,526.2 L74.5,525.9 L75.0,525.2 L75.5,525.0 L76.0,524.6 L76.5,523.7 L77.0,523.0 L77.5,522.6 L78.0,522.6 L78.5,522.6 L79.0,522.9 L79.5,523.3 L80.0,524.1 L80.5,524.8 L81.0,525.2 L81.5,525.9 L82.0,526.1 L82.5,526.1 L83.0,526.1 L83.5,526.3 L84.0,526.3 L84.5,526.4 L85.0,526.3 L85.5,526.1 L86.0,526.0 L86.5,525.8 L87.0,525.2 L87.5,525.0 L88.0,523.9 L88.5,522.6 L89.0,521.8 L89.5,520.9 L90.0,520.4 L90.5,520.0 L91.0,519.7 L91.5,520.6 L92.0,520.4 L92.5,520.8 L93.0,521.2 L93.5,521.8 L94.0,522.4 L94.5,523.3 L95.0,524.0 L95.5,524.8 L96.0,525.5 L96.5,525.4 L97.0,525.8 L97.5,526.3 L98.0,526.2 L98.5,526.3 L99.0,526.4 L99.5,526.4 L100.0,526.3 L100.5,526.2 L101.0,525.8 L101.5,525.5 L102.0,525.2 L102.5,524.3 L103.0,523.5 L103.5,522.7 L104.0,522.5 L104.5,523.0 L105.0,523.8 L105.5,524.6 L106.0,525.6 L106.5,525.6 L107.0,526.1 L107.5,526.4 L108.0,526.5 L108.5,526.5 L109.0,526.2 L109.5,526.4 L110.0,526.4 L110.5,526.2 L111.0,526.1 L111.5,525.7 L112.0,524.6 L112.5,522.5 L113.0,520.1 L113.5,517.0 L114.0,514.0 L114.5,512.6 L115.0,512.4 L115.5,513.0 L116.0,514.0 L116.5,514.1 L117.0,514.1 L117.5,514.5 L118.0,515.5 L118.5,516.3 L119.0,517.4 L119.5,517.3 L120.0,515.5 L120.5,513.3 L121.0,512.4 L121.5,512.3 L122.0,512.9 L122.5,513.2 L123.0,513.8 L123.5,513.8 L124.0,514.8 L124.5,516.5 L125.0,518.5 L125.5,519.4 L126.0,520.2 L126.5,520.7 L127.0,521.0 L127.5,520.9 L128.0,521.4 L128.5,521.8 L129.0,522.5 L129.5,522.9 L130.0,523.8 L130.5,524.2 L131.0,524.4 L131.5,524.9 L132.0,525.7 L132.5,525.6 L133.0,526.2 L133.5,526.1 L134.0,526.2 L134.5,526.3 L135.0,526.4 L135.5,526.5 L136.0,526.2 L136.5,526.5 L137.0,526.2 L137.5,526.2 L138.0,526.3 L138.5,526.4 L139.0,526.2 L139.5,526.1 L140.0,526.2 L140.5,526.3 L141.0,526.4 L141.5,526.4 L142.0,526.4 L142.5,526.3 L143.0,526.3 L143.5,526.4 L144.0,526.5 L144.5,526.3 L145.0,526.4 L145.5,526.3 L146.0,526.4 L146.5,526.2 L147.0,526.2 L147.5,526.5 L148.0,526.4 L148.5,526.4 L149.0,526.1 L149.5,526.2 L150.0,526.2 L150.5,525.8 L151.0,524.7 L151.5,522.9 L152.0,520.5 L152.5,518.7 L153.0,517.5 L153.5,518.5 L154.0,520.8 L154.5,522.8 L155.0,524.9 L155.5,525.5 L156.0,526.3 L156.5,526.4 L157.0,526.2 L157.5,526.4 L158.0,526.2 L158.5,526.3 L159.0,526.2 L159.5,526.4 L160.0,526.4 L160.5,526.4 L161.0,526.2 L161.5,526.3 L162.0,526.2 L162.5,526.2 L163.0,526.5 L163.5,526.3 L164.0,526.5 L164.5,526.5 L165.0,526.5 L165.5,526.2 L166.0,526.2 L166.5,526.2 L167.0,526.4 L167.5,526.3 L168.0,526.2 L168.5,526.4 L169.0,526.3 L169.5,526.4 L170.0,526.5 L170.5,526.4 L171.0,526.2 L171.5,526.3 L172.0,526.2 L172.5,526.3 L173.0,526.4 L173.5,526.2 L174.0,526.2 L174.5,526.5 L175.0,526.3 L175.5,526.5 L176.0,526.5 L176.5,526.2 L177.0,526.5 L177.5,526.4 L178.0,526.1 L178.5,526.3 L179.0,526.5 L179.5,526.4 L180.0,526.4 L180.5,526.2 L181.0,526.5 L181.5,526.2 L182.0,526.4 L182.5,526.2 L183.0,526.2 L183.5,526.4 L184.0,526.4 L184.5,526.3 L185.0,526.5 L185.5,526.3 L186.0,526.5 L186.5,526.5 L187.0,526.1 L187.5,526.4 L188.0,526.3 L188.5,526.3 L189.0,526.4 L189.5,526.5 L190.0,526.2 L190.5,526.2 L191.0,526.2 L191.5,526.5 L192.0,526.4 L192.5,526.3 L193.0,526.1 L193.5,526.3 L194.0,526.3 L194.5,526.3 L195.0,526.4 L195.5,526.3 L196.0,526.4 L196.5,526.4 L197.0,526.5 L197.5,526.4 L198.0,526.1 L198.5,526.3 L199.0,526.3 L199.5,526.3 L200.0,526.2 L200.5,526.4 L201.0,526.4 L201.5,526.4 L202.0,526.4 L202.5,526.2 L203.0,526.2 L203.5,526.4 L204.0,526.4 L204.5,526.3 L205.0,526.3 L205.5,526.3 L206.0,526.4 L206.5,526.5 L207.0,526.4 L207.5,526.5 L208.0,526.3 L208.5,526.5 L209.0,526.5 L209.0,526.5Z" fill="#4264b0"/>
<path d="M46.0,545.2 L46.0,543.2 L46.5,543.2 L47.0,544.6 L47.5,544.6 L48.0,543.4 L48.5,543.5 L49.0,543.6 L49.5,544.2 L50.0,543.7 L50.5,543.7 L51.0,543.8 L51.5,544.4 L52.0,544.0 L52.5,544.1 L53.0,543.5 L53.5,543.1 L54.0,543.2 L54.5,543.8 L55.0,544.0 L55.5,544.3 L56.0,544.6 L56.5,544.6 L57.0,543.9 L57.5,544.2 L58.0,544.0 L58.5,543.2 L59.0,543.7 L59.5,543.6 L60.0,544.0 L60.5,544.3 L61.0,543.7 L61.5,543.9 L62.0,543.1 L62.5,542.2 L63.0,542.6 L63.5,543.3 L64.0,542.0 L64.5,542.1 L65.0,542.2 L65.5,541.9 L66.0,542.2 L66.5,542.2 L67.0,543.0 L67.5,542.0 L68.0,542.1 L68.5,543.3 L69.0,542.4 L69.5,542.4 L70.0,542.8 L70.5,542.7 L71.0,542.8 L71.5,542.2 L72.0,542.9 L72.5,542.6 L73.0,543.5 L73.5,542.8 L74.0,542.9 L74.5,543.7 L75.0,543.6 L75.5,543.1 L76.0,543.5 L76.5,543.9 L77.0,544.3 L77.5,544.2 L78.0,543.6 L78.5,544.4 L79.0,543.2 L79.5,544.3 L80.0,543.2 L80.5,544.2 L81.0,543.2 L81.5,543.6 L82.0,543.9 L82.5,543.9 L83.0,543.7 L83.5,543.8 L84.0,544.2 L84.5,544.4 L85.0,543.9 L85.5,543.2 L86.0,543.7 L86.5,544.6 L87.0,543.4 L87.5,543.5 L88.0,543.2 L88.5,544.4 L89.0,543.5 L89.5,544.6 L90.0,543.7 L90.5,544.3 L91.0,544.3 L91.5,543.3 L92.0,544.5 L92.5,543.9 L93.0,543.3 L93.5,544.3 L94.0,544.4 L94.5,543.3 L95.0,544.0 L95.5,543.6 L96.0,544.6 L96.5,544.1 L97.0,544.4 L97.5,543.6 L98.0,544.6 L98.5,543.2 L99.0,544.7 L99.5,543.5 L100.0,544.7 L100.5,544.3 L101.0,543.4 L101.5,544.4 L102.0,544.4 L102.5,543.6 L103.0,544.1 L103.5,544.6 L104.0,543.1 L104.5,544.5 L105.0,544.6 L105.5,544.1 L106.0,543.7 L106.5,543.5 L107.0,544.5 L107.5,544.2 L108.0,544.7 L108.5,544.0 L109.0,543.5 L109.5,543.5 L110.0,543.3 L110.5,543.5 L111.0,543.3 L111.5,543.6 L112.0,543.9 L112.5,544.3 L113.0,543.6 L113.5,544.2 L114.0,544.5 L114.5,544.0 L115.0,543.3 L115.5,544.5 L116.0,543.8 L116.5,544.1 L117.0,543.9 L117.5,544.5 L118.0,543.2 L118.5,544.3 L119.0,543.7 L119.5,544.0 L120.0,544.7 L120.5,543.8 L121.0,544.5 L121.5,544.6 L122.0,544.6 L122.5,544.4 L123.0,544.5 L123.5,543.7 L124.0,543.9 L124.5,543.1 L125.0,543.2 L125.5,543.1 L126.0,544.3 L126.5,544.0 L127.0,544.3 L127.5,543.8 L128.0,543.7 L128.5,543.4 L129.0,543.6 L129.5,544.3 L130.0,544.0 L130.5,543.9 L131.0,544.7 L131.5,544.6 L132.0,544.0 L132.5,544.5 L133.0,543.5 L133.5,544.3 L134.0,544.5 L134.5,544.4 L135.0,544.3 L135.5,544.4 L136.0,543.9 L136.5,544.0 L137.0,544.2 L137.5,543.7 L138.0,544.4 L138.5,543.2 L139.0,543.2 L139.5,543.5 L140.0,544.0 L140.5,543.9 L141.0,543.8 L141.5,544.6 L142.0,544.0 L142.5,543.9 L143.0,544.4 L143.5,544.5 L144.0,543.4 L144.5,544.1 L145.0,543.9 L145.5,543.2 L146.0,543.7 L146.5,544.2 L147.0,543.1 L147.5,544.1 L148.0,544.7 L148.5,543.6 L149.0,544.5 L149.5,544.2 L150.0,543.4 L150.5,543.6 L151.0,544.7 L151.5,544.0 L152.0,544.0 L152.5,543.9 L153.0,544.4 L153.5,543.8 L154.0,544.6 L154.5,544.2 L155.0,544.1 L155.5,543.2 L156.0,544.6 L156.5,543.5 L157.0,544.4 L157.5,543.8 L158.0,544.1 L158.5,544.0 L159.0,543.5 L159.5,544.1 L160.0,544.5 L160.5,544.5 L161.0,544.6 L161.5,543.3 L162.0,543.7 L162.5,543.2 L163.0,543.6 L163.5,544.7 L164.0,543.6 L164.5,543.5 L165.0,543.5 L165.5,543.9 L166.0,544.1 L166.5,544.0 L167.0,543.4 L167.5,544.3 L168.0,543.9 L168.5,543.9 L169.0,543.2 L169.5,543.4 L170.0,543.2 L170.5,543.4 L171.0,544.2 L171.5,544.3 L172.0,543.9 L172.5,544.3 L173.0,544.0 L173.5,543.6 L174.0,543.2 L174.5,543.8 L175.0,543.4 L175.5,544.5 L176.0,544.1 L176.5,543.1 L177.0,544.5 L177.5,544.0 L178.0,544.6 L178.5,544.6 L179.0,543.3 L179.5,543.1 L180.0,543.7 L180.5,544.5 L181.0,544.2 L181.5,544.3 L182.0,543.6 L182.5,543.6 L183.0,544.0 L183.5,543.9 L184.0,544.5 L184.5,543.8 L185.0,543.2 L185.5,543.5 L186.0,544.5 L186.5,543.9 L187.0,543.6 L187.5,544.3 L188.0,543.3 L188.5,544.0 L189.0,543.6 L189.5,544.1 L190.0,543.1 L190.5,543.4 L191.0,543.8 L191.5,544.5 L192.0,544.0 L192.5,544.7 L193.0,543.7 L193.5,543.3 L194.0,544.4 L194.5,543.9 L195.0,543.9 L195.5,544.1 L196.0,543.6 L196.5,543.2 L197.0,543.6 L197.5,543.9 L198.0,543.2 L198.5,544.2 L199.0,543.5 L199.5,543.6 L200.0,543.5 L200.5,543.3 L201.0,544.3 L201.5,543.7 L202.0,544.1 L202.5,543.6 L203.0,543.1 L203.5,543.7 L204.0,544.7 L204.5,544.0 L205.0,543.6 L205.5,543.3 L206.0,543.7 L206.5,543.4 L207.0,544.7 L207.5,543.2 L208.0,543.5 L208.5,543.7 L209.0,543.3 L209.0,545.2Z" fill="#f04e1c"/>
<path d="M46.0,563.5 L46.0,563.5 L46.5,563.4 L47.0,563.5 L47.5,563.4 L48.0,563.4 L48.5,563.5 L49.0,563.5 L49.5,563.4 L50.0,563.5 L50.5,563.5 L51.0,563.4 L51.5,563.4 L52.0,563.4 L52.5,563.4 L53.0,563.4 L53.5,563.5 L54.0,563.4 L54.5,563.4 L55.0,563.4 L55.5,563.4 L56.0,563.4 L56.5,563.5 L57.0,563.4 L57.5,563.4 L58.0,563.5 L58.5,563.5 L59.0,563.4 L59.5,563.4 L60.0,563.4 L60.5,563.4 L61.0,563.4 L61.5,563.4 L62.0,563.5 L62.5,563.4 L63.0,563.4 L63.5,563.4 L64.0,563.4 L64.5,563.5 L65.0,563.5 L65.5,563.5 L66.0,563.4 L66.5,563.4 L67.0,563.4 L67.5,563.5 L68.0,563.4 L68.5,563.5 L69.0,563.5 L69.5,563.4 L70.0,563.4 L70.5,563.4 L71.0,563.4 L71.5,563.4 L72.0,563.4 L72.5,563.4 L73.0,563.4 L73.5,563.5 L74.0,563.4 L74.5,563.4 L75.0,563.4 L75.5,563.4 L76.0,563.4 L76.5,563.5 L77.0,563.4 L77.5,563.4 L78.0,563.5 L78.5,563.5 L79.0,563.4 L79.5,563.4 L80.0,563.5 L80.5,563.4 L81.0,563.5 L81.5,563.5 L82.0,563.5 L82.5,563.4 L83.0,563.4 L83.5,563.5 L84.0,563.4 L84.5,563.5 L85.0,563.4 L85.5,563.5 L86.0,563.4 L86.5,563.4 L87.0,563.4 L87.5,563.4 L88.0,563.5 L88.5,563.5 L89.0,563.4 L89.5,563.5 L90.0,563.5 L90.5,563.5 L91.0,563.4 L91.5,563.5 L92.0,563.5 L92.5,563.4 L93.0,563.5 L93.5,563.4 L94.0,563.4 L94.5,563.5 L95.0,563.4 L95.5,563.4 L96.0,563.4 L96.5,563.4 L97.0,563.4 L97.5,563.4 L98.0,563.4 L98.5,563.4 L99.0,563.4 L99.5,563.4 L100.0,563.5 L100.5,563.5 L101.0,563.4 L101.5,563.4 L102.0,563.4 L102.5,563.5 L103.0,563.5 L103.5,563.4 L104.0,563.5 L104.5,563.4 L105.0,563.4 L105.5,563.5 L106.0,563.4 L106.5,563.4 L107.0,563.4 L107.5,563.5 L108.0,563.4 L108.5,563.4 L109.0,563.5 L109.5,563.5 L110.0,563.4 L110.5,563.4 L111.0,563.5 L111.5,563.4 L112.0,563.4 L112.5,563.4 L113.0,563.4 L113.5,563.2 L114.0,562.8 L114.5,562.4 L115.0,562.2 L115.5,562.4 L116.0,562.7 L116.5,563.2 L117.0,563.4 L117.5,563.4 L118.0,563.5 L118.5,563.5 L119.0,563.4 L119.5,563.5 L120.0,563.5 L120.5,563.3 L121.0,562.8 L121.5,562.4 L122.0,562.0 L122.5,562.3 L123.0,562.8 L123.5,563.3 L124.0,563.4 L124.5,563.5 L125.0,563.5 L125.5,563.4 L126.0,563.4 L126.5,563.4 L127.0,563.5 L127.5,563.5 L128.0,563.4 L128.5,563.5 L129.0,563.4 L129.5,563.4 L130.0,563.5 L130.5,563.5 L131.0,563.4 L131.5,563.4 L132.0,563.4 L132.5,563.5 L133.0,563.5 L133.5,563.5 L134.0,563.4 L134.5,563.5 L135.0,563.5 L135.5,563.4 L136.0,563.4 L136.5,563.5 L137.0,563.4 L137.5,563.5 L138.0,563.5 L138.5,563.4 L139.0,563.4 L139.5,563.4 L140.0,563.4 L140.5,563.4 L141.0,563.4 L141.5,563.5 L142.0,563.4 L142.5,563.4 L143.0,563.4 L143.5,563.4 L144.0,563.5 L144.5,563.5 L145.0,563.5 L145.5,563.5 L146.0,563.4 L146.5,563.5 L147.0,563.4 L147.5,563.5 L148.0,563.4 L148.5,563.4 L149.0,563.4 L149.5,563.4 L150.0,563.4 L150.5,563.4 L151.0,563.5 L151.5,563.4 L152.0,563.5 L152.5,563.5 L153.0,563.4 L153.5,563.4 L154.0,563.5 L154.5,563.4 L155.0,563.4 L155.5,563.5 L156.0,563.5 L156.5,563.4 L157.0,563.4 L157.5,563.4 L158.0,563.5 L158.5,563.5 L159.0,563.4 L159.5,563.4 L160.0,563.5 L160.5,563.4 L161.0,563.4 L161.5,563.4 L162.0,563.4 L162.5,563.5 L163.0,563.4 L163.5,563.4 L164.0,563.5 L164.5,563.5 L165.0,563.5 L165.5,563.4 L166.0,563.4 L166.5,563.4 L167.0,563.4 L167.5,563.5 L168.0,563.5 L168.5,563.5 L169.0,563.5 L169.5,563.5 L170.0,563.4 L170.5,563.4 L171.0,563.5 L171.5,563.4 L172.0,563.5 L172.5,563.5 L173.0,563.5 L173.5,563.4 L174.0,563.4 L174.5,563.5 L175.0,563.5 L175.5,563.5 L176.0,563.5 L176.5,563.4 L177.0,563.4 L177.5,563.5 L178.0,563.5 L178.5,563.5 L179.0,563.5 L179.5,563.4 L180.0,563.4 L180.5,563.5 L181.0,563.4 L181.5,563.4 L182.0,563.4 L182.5,563.5 L183.0,563.4 L183.5,563.4 L184.0,563.4 L184.5,563.4 L185.0,563.4 L185.5,563.5 L186.0,563.4 L186.5,563.4 L187.0,563.5 L187.5,563.4 L188.0,563.4 L188.5,563.4 L189.0,563.4 L189.5,563.5 L190.0,563.4 L190.5,563.4 L191.0,563.5 L191.5,563.4 L192.0,563.5 L192.5,563.4 L193.0,563.4 L193.5,563.4 L194.0,563.4 L194.5,563.4 L195.0,563.4 L195.5,563.4 L196.0,563.5 L196.5,563.4 L197.0,563.5 L197.5,563.5 L198.0,563.4 L198.5,563.5 L199.0,563.5 L199.5,563.5 L200.0,563.4 L200.5,563.5 L201.0,563.5 L201.5,563.4 L202.0,563.5 L202.5,563.4 L203.0,563.4 L203.5,563.4 L204.0,563.4 L204.5,563.4 L205.0,563.4 L205.5,563.5 L206.0,563.4 L206.5,563.4 L207.0,563.4 L207.5,563.5 L208.0,563.4 L208.5,563.4 L209.0,563.5 L209.0,563.5Z" fill="#a8a590"/>
<rect x="86.90" y="553.00" width="2.40" height="10.50" fill="#b3b19e"/>
<rect x="97.20" y="553.00" width="2.50" height="10.50" fill="#b3b19e"/>
<path d="M46.0,581.4 L46.0,581.4 L46.5,581.4 L47.0,581.3 L47.5,581.4 L48.0,581.4 L48.5,581.3 L49.0,581.2 L49.5,581.3 L50.0,581.3 L50.5,581.4 L51.0,581.3 L51.5,581.4 L52.0,581.4 L52.5,581.4 L53.0,581.4 L53.5,581.2 L54.0,581.3 L54.5,581.3 L55.0,581.3 L55.5,581.4 L56.0,581.3 L56.5,581.3 L57.0,581.3 L57.5,581.2 L58.0,581.2 L58.5,581.4 L59.0,581.3 L59.5,581.3 L60.0,581.3 L60.5,581.4 L61.0,581.3 L61.5,581.4 L62.0,581.2 L62.5,581.2 L63.0,581.3 L63.5,581.3 L64.0,581.2 L64.5,581.3 L65.0,581.2 L65.5,581.2 L66.0,581.3 L66.5,581.3 L67.0,581.3 L67.5,581.3 L68.0,581.4 L68.5,581.3 L69.0,581.3 L69.5,581.4 L70.0,581.4 L70.5,581.3 L71.0,581.3 L71.5,581.3 L72.0,581.3 L72.5,581.3 L73.0,581.2 L73.5,581.4 L74.0,581.3 L74.5,581.3 L75.0,581.2 L75.5,581.1 L76.0,580.9 L76.5,580.5 L77.0,580.4 L77.5,580.1 L78.0,579.9 L78.5,580.2 L79.0,580.4 L79.5,580.6 L80.0,580.7 L80.5,581.0 L81.0,581.2 L81.5,581.3 L82.0,581.3 L82.5,581.3 L83.0,581.4 L83.5,581.3 L84.0,581.2 L84.5,581.2 L85.0,581.3 L85.5,581.2 L86.0,581.4 L86.5,581.3 L87.0,581.1 L87.5,581.0 L88.0,580.9 L88.5,580.5 L89.0,580.4 L89.5,580.0 L90.0,579.9 L90.5,579.8 L91.0,579.7 L91.5,579.8 L92.0,579.9 L92.5,580.0 L93.0,580.5 L93.5,580.8 L94.0,581.0 L94.5,581.1 L95.0,581.1 L95.5,581.3 L96.0,581.3 L96.5,581.4 L97.0,581.2 L97.5,581.3 L98.0,581.4 L98.5,581.4 L99.0,581.4 L99.5,581.4 L100.0,581.3 L100.5,581.4 L101.0,581.4 L101.5,581.2 L102.0,581.1 L102.5,580.5 L103.0,580.5 L103.5,580.1 L104.0,580.0 L104.5,580.3 L105.0,580.5 L105.5,580.9 L106.0,581.2 L106.5,581.3 L107.0,581.4 L107.5,581.3 L108.0,581.4 L108.5,581.2 L109.0,581.2 L109.5,581.3 L110.0,581.4 L110.5,581.3 L111.0,581.2 L111.5,581.1 L112.0,580.7 L112.5,579.9 L113.0,579.1 L113.5,578.0 L114.0,576.4 L114.5,575.5 L115.0,574.9 L115.5,575.1 L116.0,575.4 L116.5,576.0 L117.0,576.1 L117.5,575.8 L118.0,575.3 L118.5,574.9 L119.0,574.6 L119.5,574.7 L120.0,575.3 L120.5,576.0 L121.0,576.6 L121.5,576.6 L122.0,576.2 L122.5,575.9 L123.0,575.8 L123.5,576.2 L124.0,576.7 L124.5,577.4 L125.0,578.1 L125.5,578.1 L126.0,578.2 L126.5,578.6 L127.0,578.7 L127.5,579.1 L128.0,579.8 L128.5,580.5 L129.0,580.6 L129.5,581.1 L130.0,581.1 L130.5,581.2 L131.0,581.4 L131.5,581.4 L132.0,581.3 L132.5,581.3 L133.0,581.3 L133.5,581.2 L134.0,581.4 L134.5,581.4 L135.0,581.2 L135.5,581.4 L136.0,581.2 L136.5,581.4 L137.0,581.3 L137.5,581.3 L138.0,581.2 L138.5,581.3 L139.0,581.2 L139.5,581.4 L140.0,581.3 L140.5,581.3 L141.0,581.2 L141.5,581.3 L142.0,581.3 L142.5,581.3 L143.0,581.4 L143.5,581.4 L144.0,581.3 L144.5,581.3 L145.0,581.2 L145.5,581.3 L146.0,581.4 L146.5,581.3 L147.0,581.3 L147.5,581.3 L148.0,581.4 L148.5,581.2 L149.0,581.2 L149.5,581.4 L150.0,581.2 L150.5,581.0 L151.0,580.3 L151.5,579.5 L152.0,578.1 L152.5,576.8 L153.0,576.1 L153.5,576.9 L154.0,578.2 L154.5,579.4 L155.0,580.3 L155.5,580.9 L156.0,581.2 L156.5,581.2 L157.0,581.3 L157.5,581.4 L158.0,581.2 L158.5,581.4 L159.0,581.3 L159.5,581.2 L160.0,581.3 L160.5,581.3 L161.0,581.4 L161.5,581.2 L162.0,581.4 L162.5,581.4 L163.0,581.3 L163.5,581.3 L164.0,581.3 L164.5,581.2 L165.0,581.3 L165.5,581.4 L166.0,581.3 L166.5,581.3 L167.0,581.3 L167.5,581.3 L168.0,581.3 L168.5,581.4 L169.0,581.4 L169.5,581.2 L170.0,581.3 L170.5,581.3 L171.0,581.2 L171.5,581.3 L172.0,581.3 L172.5,581.3 L173.0,581.3 L173.5,581.2 L174.0,581.3 L174.5,581.2 L175.0,581.3 L175.5,581.2 L176.0,581.3 L176.5,581.3 L177.0,581.3 L177.5,581.4 L178.0,581.3 L178.5,581.3 L179.0,581.3 L179.5,581.4 L180.0,581.4 L180.5,581.4 L181.0,581.3 L181.5,581.4 L182.0,581.2 L182.5,581.3 L183.0,581.3 L183.5,581.3 L184.0,581.3 L184.5,581.4 L185.0,581.3 L185.5,581.2 L186.0,581.4 L186.5,581.3 L187.0,581.3 L187.5,581.3 L188.0,581.4 L188.5,581.4 L189.0,581.2 L189.5,581.3 L190.0,581.3 L190.5,581.3 L191.0,581.2 L191.5,581.4 L192.0,581.3 L192.5,581.3 L193.0,581.3 L193.5,581.2 L194.0,581.3 L194.5,581.2 L195.0,581.4 L195.5,581.3 L196.0,581.3 L196.5,581.3 L197.0,581.3 L197.5,581.3 L198.0,581.3 L198.5,581.2 L199.0,581.3 L199.5,581.3 L200.0,581.2 L200.5,581.3 L201.0,581.3 L201.5,581.4 L202.0,581.3 L202.5,581.3 L203.0,581.2 L203.5,581.2 L204.0,581.3 L204.5,581.3 L205.0,581.3 L205.5,581.3 L206.0,581.3 L206.5,581.4 L207.0,581.4 L207.5,581.3 L208.0,581.3 L208.5,581.3 L209.0,581.3 L209.0,581.4Z" fill="#4264b0"/>
<path d="M45.5,599.8 L45.5,598.3 L46.0,598.0 L46.5,597.8 L47.0,597.3 L47.5,597.5 L48.0,597.1 L48.5,598.9 L49.0,598.2 L49.5,597.6 L50.0,598.3 L50.5,598.2 L51.0,599.8 L51.5,599.6 L52.0,599.8 L52.5,599.5 L53.0,599.1 L53.5,599.8 L54.0,599.3 L54.5,598.9 L55.0,597.2 L55.5,597.0 L56.0,597.6 L56.5,596.0 L57.0,596.6 L57.5,595.5 L58.0,596.1 L58.5,596.1 L59.0,594.3 L59.5,595.2 L60.0,595.0 L60.5,593.5 L61.0,594.3 L61.5,595.9 L62.0,595.2 L62.5,596.4 L63.0,596.2 L63.5,597.0 L64.0,595.7 L64.5,596.2 L65.0,595.7 L65.5,596.3 L66.0,597.9 L66.5,598.2 L67.0,599.1 L67.5,598.6 L68.0,598.3 L68.5,597.3 L69.0,596.3 L69.5,597.0 L70.0,595.4 L70.5,595.7 L71.0,595.3 L71.5,594.0 L72.0,594.4 L72.5,594.4 L73.0,593.9 L73.5,593.2 L74.0,594.1 L74.5,592.3 L75.0,593.8 L75.5,592.4 L76.0,592.0 L76.5,593.5 L77.0,592.3 L77.5,593.2 L78.0,593.0 L78.5,593.7 L79.0,592.9 L79.5,592.0 L80.0,590.0 L80.5,590.9 L81.0,589.6 L81.5,588.9 L82.0,588.6 L82.5,589.8 L83.0,590.0 L83.5,589.7 L84.0,588.3 L84.5,588.5 L85.0,586.4 L85.5,585.3 L86.0,585.2 L86.5,587.7 L87.0,586.8 L87.5,588.8 L88.0,588.9 L88.5,587.9 L89.0,586.8 L89.5,587.2 L90.0,585.6 L90.5,586.9 L91.0,587.9 L91.5,588.6 L92.0,589.7 L92.5,590.7 L93.0,591.4 L93.5,590.8 L94.0,590.1 L94.5,591.5 L95.0,591.5 L95.5,589.8 L96.0,590.8 L96.5,591.2 L97.0,591.7 L97.5,590.9 L98.0,590.2 L98.5,590.5 L99.0,590.2 L99.5,591.1 L100.0,590.0 L100.5,592.1 L101.0,591.8 L101.5,591.6 L102.0,593.4 L102.5,592.8 L103.0,592.9 L103.5,593.4 L104.0,592.8 L104.5,593.7 L105.0,592.8 L105.5,593.9 L106.0,593.4 L106.5,595.3 L107.0,595.8 L107.5,595.4 L108.0,596.1 L108.5,596.4 L109.0,597.9 L109.5,598.0 L110.0,597.7 L110.5,598.4 L111.0,598.9 L111.5,598.0 L112.0,597.8 L112.5,596.7 L113.0,595.0 L113.5,594.9 L114.0,595.3 L114.5,595.4 L115.0,595.5 L115.5,595.4 L116.0,594.6 L116.5,593.2 L117.0,592.6 L117.5,593.3 L118.0,592.4 L118.5,592.3 L119.0,592.4 L119.5,592.3 L120.0,591.4 L120.5,591.2 L121.0,589.8 L121.5,589.7 L122.0,590.0 L122.5,590.3 L123.0,591.0 L123.5,591.8 L124.0,590.8 L124.5,591.5 L125.0,591.5 L125.5,593.1 L126.0,592.7 L126.5,593.8 L127.0,593.6 L127.5,593.8 L128.0,593.0 L128.5,593.1 L129.0,592.7 L129.5,593.7 L130.0,593.3 L130.5,593.3 L131.0,593.4 L131.5,595.0 L132.0,594.9 L132.5,595.4 L133.0,596.0 L133.5,595.8 L134.0,596.2 L134.5,597.3 L135.0,597.4 L135.5,598.3 L136.0,597.3 L136.5,597.3 L137.0,598.1 L137.5,597.3 L138.0,596.9 L138.5,596.5 L139.0,597.1 L139.5,595.7 L140.0,596.4 L140.5,596.7 L141.0,597.6 L141.5,597.6 L142.0,597.4 L142.5,597.8 L143.0,597.7 L143.5,599.1 L144.0,599.0 L144.5,598.5 L145.0,598.1 L145.5,598.7 L146.0,597.6 L146.5,597.5 L147.0,598.4 L147.5,597.4 L148.0,597.7 L148.5,598.1 L149.0,598.0 L149.5,597.8 L150.0,598.1 L150.5,598.2 L151.0,598.6 L151.5,597.9 L152.0,598.2 L152.5,597.8 L153.0,597.9 L153.5,598.6 L154.0,597.5 L154.5,599.2 L155.0,598.6 L155.5,598.9 L156.0,598.7 L156.5,599.3 L157.0,598.1 L157.5,599.1 L158.0,599.8 L158.5,599.1 L159.0,599.7 L159.5,599.5 L160.0,599.6 L160.5,599.4 L161.0,599.2 L161.5,599.2 L162.0,599.4 L162.5,599.2 L163.0,599.3 L163.5,599.4 L164.0,599.8 L164.5,599.1 L165.0,599.3 L165.5,599.1 L166.0,599.2 L166.5,599.4 L167.0,599.6 L167.5,598.6 L168.0,599.8 L168.5,599.4 L169.0,598.2 L169.5,597.9 L170.0,598.4 L170.5,597.2 L171.0,596.5 L171.5,597.7 L172.0,598.0 L172.5,598.7 L173.0,598.9 L173.5,597.9 L174.0,599.3 L174.5,599.1 L175.0,599.3 L175.5,599.4 L176.0,599.6 L176.5,599.2 L177.0,599.4 L177.5,599.4 L178.0,599.4 L178.5,598.4 L179.0,599.2 L179.5,599.6 L180.0,599.2 L180.5,599.8 L181.0,599.0 L181.5,599.3 L182.0,599.6 L182.5,598.8 L183.0,598.7 L183.5,599.6 L184.0,599.3 L184.5,599.5 L185.0,599.1 L185.5,599.3 L186.0,599.5 L186.5,599.5 L187.0,599.5 L187.5,599.0 L188.0,599.7 L188.5,599.1 L189.0,599.3 L189.5,598.9 L190.0,599.0 L190.5,598.7 L191.0,599.8 L191.5,598.8 L192.0,599.4 L192.5,599.4 L193.0,599.6 L193.5,599.6 L194.0,599.3 L194.5,599.3 L195.0,599.3 L195.5,598.4 L196.0,598.6 L196.5,599.7 L197.0,599.4 L197.5,599.1 L198.0,598.3 L198.5,598.4 L199.0,599.1 L199.5,599.8 L200.0,598.7 L200.5,599.3 L201.0,599.1 L201.5,598.8 L202.0,599.0 L202.5,599.3 L203.0,598.5 L203.5,599.5 L204.0,599.5 L204.5,598.6 L205.0,599.8 L205.5,599.6 L206.0,598.7 L206.5,599.8 L207.0,598.7 L207.5,598.9 L208.0,599.4 L208.5,599.7 L209.0,598.8 L209.2,599.8Z" fill="#f04e1c"/>
<path d="M46.0,617.8 L46.0,617.8 L46.5,617.8 L47.0,617.8 L47.5,617.8 L48.0,617.8 L48.5,617.8 L49.0,617.8 L49.5,617.8 L50.0,617.8 L50.5,617.8 L51.0,617.8 L51.5,617.8 L52.0,617.8 L52.5,617.8 L53.0,617.8 L53.5,617.8 L54.0,617.8 L54.5,617.8 L55.0,617.8 L55.5,617.8 L56.0,617.8 L56.5,617.8 L57.0,617.7 L57.5,617.8 L58.0,617.8 L58.5,617.8 L59.0,617.8 L59.5,617.8 L60.0,617.8 L60.5,617.8 L61.0,617.8 L61.5,617.8 L62.0,617.7 L62.5,617.8 L63.0,617.8 L63.5,617.8 L64.0,617.8 L64.5,617.7 L65.0,617.7 L65.5,617.8 L66.0,617.8 L66.5,617.8 L67.0,617.8 L67.5,617.7 L68.0,617.8 L68.5,617.8 L69.0,617.8 L69.5,617.8 L70.0,617.8 L70.5,617.8 L71.0,617.7 L71.5,617.8 L72.0,617.8 L72.5,617.8 L73.0,617.8 L73.5,617.8 L74.0,617.8 L74.5,617.8 L75.0,617.8 L75.5,617.7 L76.0,617.8 L76.5,617.8 L77.0,617.8 L77.5,617.8 L78.0,617.8 L78.5,617.7 L79.0,617.8 L79.5,617.8 L80.0,617.8 L80.5,617.8 L81.0,617.8 L81.5,617.7 L82.0,617.8 L82.5,617.8 L83.0,617.8 L83.5,617.8 L84.0,617.7 L84.5,617.8 L85.0,617.7 L85.5,617.7 L86.0,617.8 L86.5,617.7 L87.0,617.7 L87.5,616.4 L88.0,614.3 L88.5,615.5 L89.0,617.4 L89.5,617.7 L90.0,617.8 L90.5,617.8 L91.0,617.8 L91.5,617.8 L92.0,617.8 L92.5,617.8 L93.0,617.8 L93.5,617.8 L94.0,617.8 L94.5,617.8 L95.0,617.8 L95.5,617.8 L96.0,617.8 L96.5,617.7 L97.0,617.8 L97.5,617.5 L98.0,616.5 L98.5,616.4 L99.0,617.4 L99.5,617.7 L100.0,617.8 L100.5,617.8 L101.0,617.8 L101.5,617.8 L102.0,617.8 L102.5,617.8 L103.0,617.8 L103.5,617.7 L104.0,617.7 L104.5,617.8 L105.0,617.8 L105.5,617.8 L106.0,617.8 L106.5,617.8 L107.0,617.8 L107.5,617.7 L108.0,617.8 L108.5,617.8 L109.0,617.8 L109.5,617.8 L110.0,617.8 L110.5,617.8 L111.0,617.8 L111.5,617.8 L112.0,617.8 L112.5,617.7 L113.0,617.7 L113.5,617.8 L114.0,617.8 L114.5,617.7 L115.0,617.8 L115.5,617.8 L116.0,617.8 L116.5,617.8 L117.0,617.8 L117.5,617.8 L118.0,617.8 L118.5,617.8 L119.0,617.8 L119.5,617.8 L120.0,617.8 L120.5,617.8 L121.0,617.8 L121.5,617.8 L122.0,617.8 L122.5,617.8 L123.0,617.8 L123.5,617.7 L124.0,617.8 L124.5,617.8 L125.0,617.8 L125.5,617.8 L126.0,617.8 L126.5,617.8 L127.0,617.7 L127.5,617.7 L128.0,617.7 L128.5,617.8 L129.0,617.8 L129.5,617.8 L130.0,617.8 L130.5,617.7 L131.0,617.7 L131.5,617.8 L132.0,617.8 L132.5,617.8 L133.0,617.8 L133.5,617.8 L134.0,617.8 L134.5,617.8 L135.0,617.7 L135.5,617.8 L136.0,617.7 L136.5,617.8 L137.0,617.7 L137.5,617.8 L138.0,617.7 L138.5,617.8 L139.0,617.7 L139.5,617.8 L140.0,617.8 L140.5,617.8 L141.0,617.8 L141.5,617.8 L142.0,617.8 L142.5,617.8 L143.0,617.8 L143.5,617.8 L144.0,617.7 L144.5,617.8 L145.0,617.7 L145.5,617.8 L146.0,617.8 L146.5,617.8 L147.0,617.8 L147.5,617.8 L148.0,617.8 L148.5,617.8 L149.0,617.8 L149.5,617.8 L150.0,617.8 L150.5,617.8 L151.0,617.8 L151.5,617.8 L152.0,617.8 L152.5,617.8 L153.0,617.8 L153.5,617.8 L154.0,617.8 L154.5,617.8 L155.0,617.8 L155.5,617.8 L156.0,617.7 L156.5,617.8 L157.0,617.8 L157.5,617.8 L158.0,617.8 L158.5,617.8 L159.0,617.8 L159.5,617.8 L160.0,617.8 L160.5,617.8 L161.0,617.8 L161.5,617.8 L162.0,617.8 L162.5,617.7 L163.0,617.8 L163.5,617.8 L164.0,617.8 L164.5,617.8 L165.0,617.8 L165.5,617.8 L166.0,617.8 L166.5,617.7 L167.0,617.8 L167.5,617.8 L168.0,617.8 L168.5,617.8 L169.0,617.8 L169.5,617.8 L170.0,617.8 L170.5,617.8 L171.0,617.8 L171.5,617.8 L172.0,617.8 L172.5,617.8 L173.0,617.8 L173.5,617.8 L174.0,617.8 L174.5,617.7 L175.0,617.8 L175.5,617.8 L176.0,617.8 L176.5,617.7 L177.0,617.8 L177.5,617.8 L178.0,617.8 L178.5,617.8 L179.0,617.7 L179.5,617.8 L180.0,617.7 L180.5,617.8 L181.0,617.8 L181.5,617.8 L182.0,617.8 L182.5,617.8 L183.0,617.8 L183.5,617.8 L184.0,617.7 L184.5,617.8 L185.0,617.8 L185.5,617.8 L186.0,617.8 L186.5,617.8 L187.0,617.8 L187.5,617.8 L188.0,617.7 L188.5,617.8 L189.0,617.8 L189.5,617.8 L190.0,617.8 L190.5,617.8 L191.0,617.8 L191.5,617.8 L192.0,617.8 L192.5,617.7 L193.0,617.8 L193.5,617.7 L194.0,617.7 L194.5,617.8 L195.0,617.8 L195.5,617.8 L196.0,617.8 L196.5,617.8 L197.0,617.8 L197.5,617.8 L198.0,617.8 L198.5,617.8 L199.0,617.8 L199.5,617.8 L200.0,617.8 L200.5,617.8 L201.0,617.8 L201.5,617.7 L202.0,617.8 L202.5,617.8 L203.0,617.8 L203.5,617.8 L204.0,617.8 L204.5,617.8 L205.0,617.8 L205.5,617.7 L206.0,617.8 L206.5,617.8 L207.0,617.8 L207.5,617.8 L208.0,617.7 L208.5,617.8 L209.0,617.8 L209.0,617.8Z" fill="#a8a590"/>
<path d="M213.0,527.3 L213.0,527.3 L213.5,527.3 L214.0,527.2 L214.5,527.3 L215.0,527.2 L215.5,527.3 L216.0,527.3 L216.5,527.2 L217.0,527.3 L217.5,527.2 L218.0,527.3 L218.5,527.3 L219.0,527.2 L219.5,527.2 L220.0,527.3 L220.5,527.3 L221.0,527.2 L221.5,527.2 L222.0,527.2 L222.5,527.3 L223.0,527.2 L223.5,527.3 L224.0,527.2 L224.5,527.3 L225.0,527.3 L225.5,527.3 L226.0,527.3 L226.5,527.2 L227.0,527.3 L227.5,527.2 L228.0,527.2 L228.5,527.3 L229.0,527.2 L229.5,527.3 L230.0,527.3 L230.5,527.3 L231.0,527.2 L231.5,527.2 L232.0,527.3 L232.5,527.2 L233.0,527.2 L233.5,527.3 L234.0,527.2 L234.5,527.2 L235.0,527.3 L235.5,527.2 L236.0,527.2 L236.5,527.2 L237.0,527.2 L237.5,527.3 L238.0,527.2 L238.5,527.3 L239.0,527.2 L239.5,527.2 L240.0,527.3 L240.5,527.2 L241.0,527.3 L241.5,527.2 L242.0,527.2 L242.5,527.2 L243.0,527.2 L243.5,527.3 L244.0,527.2 L244.5,527.2 L245.0,527.2 L245.5,527.2 L246.0,527.2 L246.5,527.2 L247.0,527.2 L247.5,527.2 L248.0,527.3 L248.5,527.2 L249.0,527.2 L249.5,527.2 L250.0,527.2 L250.5,527.3 L251.0,527.3 L251.5,527.2 L252.0,527.3 L252.5,527.2 L253.0,527.3 L253.5,527.2 L254.0,527.0 L254.5,526.5 L255.0,525.8 L255.5,524.7 L256.0,523.6 L256.5,522.6 L257.0,521.8 L257.5,519.3 L258.0,515.4 L258.5,512.3 L259.0,513.1 L259.5,517.1 L260.0,521.2 L260.5,523.2 L261.0,523.9 L261.5,524.5 L262.0,525.6 L262.5,526.6 L263.0,527.1 L263.5,527.2 L264.0,527.3 L264.5,527.2 L265.0,527.2 L265.5,527.3 L266.0,527.3 L266.5,527.2 L267.0,527.3 L267.5,527.2 L268.0,527.2 L268.5,527.2 L269.0,527.2 L269.5,527.2 L270.0,527.2 L270.5,527.2 L271.0,526.7 L271.5,525.7 L272.0,524.0 L272.5,523.1 L273.0,523.1 L273.5,520.6 L274.0,514.7 L274.5,513.9 L275.0,520.8 L275.5,525.8 L276.0,527.1 L276.5,527.3 L277.0,527.3 L277.5,527.3 L278.0,526.8 L278.5,523.0 L279.0,518.8 L279.5,523.0 L280.0,526.8 L280.5,527.2 L281.0,527.2 L281.5,527.3 L282.0,527.3 L282.5,527.3 L283.0,527.3 L283.5,527.3 L284.0,527.2 L284.5,527.2 L285.0,527.2 L285.5,527.2 L286.0,527.3 L286.5,527.3 L287.0,527.3 L287.5,527.3 L288.0,527.2 L288.5,527.3 L289.0,527.3 L289.5,527.2 L290.0,527.2 L290.5,527.3 L291.0,526.7 L291.5,524.1 L292.0,522.3 L292.5,525.3 L293.0,527.0 L293.5,527.2 L294.0,527.3 L294.5,527.3 L295.0,527.3 L295.5,527.2 L296.0,527.2 L296.5,527.2 L297.0,527.3 L297.5,527.3 L298.0,527.2 L298.5,527.2 L299.0,527.2 L299.5,527.2 L300.0,527.2 L300.5,527.2 L301.0,527.3 L301.5,527.2 L302.0,527.3 L302.5,527.3 L303.0,527.3 L303.5,527.3 L304.0,527.3 L304.5,527.0 L305.0,526.5 L305.5,527.0 L306.0,527.2 L306.5,527.2 L307.0,527.2 L307.5,527.3 L308.0,527.3 L308.5,527.3 L309.0,527.3 L309.5,527.3 L310.0,527.2 L310.5,527.2 L311.0,527.2 L311.5,527.2 L312.0,527.2 L312.5,527.2 L313.0,527.3 L313.5,527.2 L314.0,527.2 L314.5,527.2 L315.0,527.2 L315.5,527.2 L316.0,527.3 L316.5,527.2 L317.0,527.3 L317.5,527.2 L318.0,527.2 L318.5,527.3 L319.0,527.2 L319.5,527.0 L320.0,526.6 L320.5,527.1 L321.0,527.3 L321.5,527.3 L322.0,527.2 L322.5,527.2 L323.0,527.3 L323.5,527.2 L324.0,527.2 L324.5,527.2 L325.0,527.3 L325.5,527.2 L326.0,527.3 L326.5,527.3 L327.0,527.2 L327.5,527.2 L328.0,527.2 L328.5,527.2 L329.0,527.2 L329.5,527.2 L330.0,527.2 L330.0,527.3Z" fill="#4264b0"/>
<path d="M213.0,545.3 L213.0,542.5 L213.5,541.5 L214.0,542.7 L214.5,541.9 L215.0,542.7 L215.5,542.5 L216.0,543.4 L216.5,545.3 L217.0,545.2 L217.5,545.3 L218.0,545.3 L218.5,545.3 L219.0,545.3 L219.5,545.2 L220.0,545.3 L220.5,544.2 L221.0,542.8 L221.5,542.5 L222.0,542.4 L222.5,541.7 L223.0,542.5 L223.5,542.9 L224.0,542.6 L224.5,541.4 L225.0,542.5 L225.5,541.6 L226.0,542.2 L226.5,542.0 L227.0,542.8 L227.5,542.5 L228.0,543.0 L228.5,542.9 L229.0,542.6 L229.5,543.2 L230.0,543.9 L230.5,544.0 L231.0,542.7 L231.5,543.2 L232.0,543.5 L232.5,542.3 L233.0,542.7 L233.5,542.4 L234.0,542.2 L234.5,543.0 L235.0,542.9 L235.5,542.2 L236.0,543.3 L236.5,542.4 L237.0,543.4 L237.5,542.6 L238.0,542.6 L238.5,542.3 L239.0,542.5 L239.5,543.0 L240.0,543.4 L240.5,543.6 L241.0,542.9 L241.5,542.7 L242.0,543.2 L242.5,541.9 L243.0,544.4 L243.5,545.2 L244.0,545.3 L244.5,545.3 L245.0,545.3 L245.5,542.3 L246.0,542.1 L246.5,541.5 L247.0,541.2 L247.5,540.2 L248.0,539.6 L248.5,540.0 L249.0,539.0 L249.5,539.8 L250.0,539.9 L250.5,540.2 L251.0,541.5 L251.5,540.8 L252.0,541.7 L252.5,542.2 L253.0,541.4 L253.5,541.9 L254.0,542.0 L254.5,541.5 L255.0,541.6 L255.5,541.3 L256.0,541.0 L256.5,540.8 L257.0,540.3 L257.5,540.4 L258.0,540.3 L258.5,540.0 L259.0,539.6 L259.5,538.7 L260.0,538.6 L260.5,537.8 L261.0,538.3 L261.5,538.1 L262.0,537.8 L262.5,539.2 L263.0,539.5 L263.5,539.6 L264.0,539.5 L264.5,539.5 L265.0,539.5 L265.5,540.2 L266.0,539.5 L266.5,541.0 L267.0,540.0 L267.5,540.8 L268.0,539.9 L268.5,541.1 L269.0,539.8 L269.5,540.2 L270.0,540.0 L270.5,540.7 L271.0,541.4 L271.5,540.5 L272.0,541.7 L272.5,542.7 L273.0,542.5 L273.5,543.3 L274.0,543.9 L274.5,544.5 L275.0,544.7 L275.5,544.1 L276.0,544.3 L276.5,544.9 L277.0,544.5 L277.5,544.2 L278.0,544.3 L278.5,544.7 L279.0,544.9 L279.5,544.9 L280.0,545.0 L280.5,544.8 L281.0,544.3 L281.5,544.7 L282.0,543.7 L282.5,543.7 L283.0,543.8 L283.5,544.7 L284.0,544.2 L284.5,544.1 L285.0,544.5 L285.5,543.2 L286.0,543.5 L286.5,543.8 L287.0,543.5 L287.5,544.2 L288.0,544.2 L288.5,543.8 L289.0,543.6 L289.5,543.7 L290.0,544.6 L290.5,543.5 L291.0,542.9 L291.5,542.9 L292.0,542.6 L292.5,542.8 L293.0,544.2 L293.5,544.5 L294.0,544.2 L294.5,543.5 L295.0,544.1 L295.5,543.2 L296.0,543.1 L296.5,543.5 L297.0,543.4 L297.5,543.1 L298.0,543.5 L298.5,544.3 L299.0,543.5 L299.5,544.4 L300.0,544.2 L300.5,543.3 L301.0,543.5 L301.5,544.2 L302.0,544.3 L302.5,543.8 L303.0,543.5 L303.5,543.7 L304.0,543.4 L304.5,543.7 L305.0,543.5 L305.5,543.8 L306.0,544.2 L306.5,544.1 L307.0,544.0 L307.5,543.9 L308.0,543.5 L308.5,544.3 L309.0,544.6 L309.5,543.7 L310.0,544.3 L310.5,544.1 L311.0,544.5 L311.5,543.4 L312.0,544.2 L312.5,544.2 L313.0,543.4 L313.5,543.8 L314.0,544.1 L314.5,543.2 L315.0,543.9 L315.5,543.9 L316.0,543.1 L316.5,543.3 L317.0,543.4 L317.5,544.2 L318.0,543.4 L318.5,543.7 L319.0,543.4 L319.5,544.1 L320.0,543.6 L320.5,543.6 L321.0,544.2 L321.5,543.8 L322.0,543.7 L322.5,543.4 L323.0,543.5 L323.5,543.7 L324.0,544.6 L324.5,543.9 L325.0,543.8 L325.5,544.6 L326.0,544.1 L326.5,543.5 L327.0,543.5 L327.5,543.4 L328.0,544.6 L328.5,543.9 L329.0,543.5 L329.5,543.8 L330.0,544.2 L330.1,545.3Z" fill="#f04e1c"/>
<path d="M213.0,563.3 L213.0,562.9 L213.5,563.0 L214.0,563.2 L214.5,562.6 L215.0,563.3 L215.5,562.9 L216.0,562.6 L216.5,563.2 L217.0,562.9 L217.5,562.8 L218.0,563.3 L218.5,563.0 L219.0,562.8 L219.5,562.9 L220.0,562.7 L220.5,563.2 L221.0,563.1 L221.5,563.2 L222.0,562.9 L222.5,562.6 L223.0,562.8 L223.5,562.7 L224.0,563.0 L224.5,562.7 L225.0,563.2 L225.5,563.1 L226.0,562.8 L226.5,562.7 L227.0,563.0 L227.5,563.2 L228.0,563.1 L228.5,563.1 L229.0,563.1 L229.5,562.7 L230.0,563.1 L230.5,562.6 L231.0,562.6 L231.5,563.3 L232.0,563.0 L232.5,562.9 L233.0,563.3 L233.5,563.0 L234.0,562.6 L234.5,563.2 L235.0,562.8 L235.5,563.2 L236.0,562.8 L236.5,562.6 L237.0,563.1 L237.5,563.3 L238.0,563.2 L238.5,562.9 L239.0,563.3 L239.5,563.2 L240.0,562.9 L240.5,562.6 L241.0,563.0 L241.5,563.0 L242.0,562.8 L242.5,563.2 L243.0,562.8 L243.5,563.2 L244.0,562.8 L244.5,562.6 L245.0,563.3 L245.5,562.9 L246.0,562.8 L246.5,563.2 L247.0,563.1 L247.5,562.5 L248.0,562.5 L248.5,563.2 L249.0,562.7 L249.5,562.6 L250.0,563.1 L250.5,562.8 L251.0,563.3 L251.5,563.0 L252.0,562.8 L252.5,562.8 L253.0,562.7 L253.5,563.2 L254.0,563.0 L254.5,562.6 L255.0,562.8 L255.5,562.9 L256.0,563.0 L256.5,562.5 L257.0,562.9 L257.5,563.3 L258.0,562.7 L258.5,563.0 L259.0,563.0 L259.5,563.1 L260.0,563.0 L260.5,563.0 L261.0,563.2 L261.5,562.8 L262.0,563.2 L262.5,562.7 L263.0,563.3 L263.5,562.7 L264.0,562.7 L264.5,562.9 L265.0,562.7 L265.5,563.1 L266.0,562.7 L266.5,563.0 L267.0,563.1 L267.5,562.5 L268.0,563.0 L268.5,563.0 L269.0,562.6 L269.5,563.0 L270.0,562.8 L270.5,563.2 L271.0,562.6 L271.5,563.1 L272.0,563.3 L272.5,562.5 L273.0,563.2 L273.5,562.6 L274.0,562.5 L274.5,562.8 L275.0,563.3 L275.5,563.3 L276.0,563.1 L276.5,563.0 L277.0,562.8 L277.5,562.5 L278.0,563.0 L278.5,563.2 L279.0,562.9 L279.5,563.2 L280.0,563.2 L280.5,562.9 L281.0,562.8 L281.5,563.2 L282.0,562.9 L282.5,562.8 L283.0,562.7 L283.5,563.0 L284.0,562.6 L284.5,563.2 L285.0,562.7 L285.5,562.7 L286.0,562.6 L286.5,562.9 L287.0,563.2 L287.5,563.3 L288.0,562.9 L288.5,563.2 L289.0,562.8 L289.5,563.2 L290.0,562.7 L290.5,563.1 L291.0,563.3 L291.5,563.2 L292.0,562.9 L292.5,562.9 L293.0,563.0 L293.5,563.2 L294.0,562.9 L294.5,562.6 L295.0,562.9 L295.5,562.6 L296.0,563.3 L296.5,562.5 L297.0,562.6 L297.5,562.9 L298.0,562.9 L298.5,562.9 L299.0,562.6 L299.5,563.2 L300.0,562.8 L300.5,562.9 L301.0,563.1 L301.5,562.7 L302.0,562.7 L302.5,563.2 L303.0,562.8 L303.5,562.9 L304.0,562.9 L304.5,562.8 L305.0,563.3 L305.5,562.8 L306.0,563.0 L306.5,562.6 L307.0,563.1 L307.5,562.7 L308.0,562.7 L308.5,562.8 L309.0,562.6 L309.5,563.3 L310.0,562.8 L310.5,562.8 L311.0,562.8 L311.5,563.0 L312.0,563.2 L312.5,563.2 L313.0,562.8 L313.5,563.2 L314.0,563.2 L314.5,563.0 L315.0,562.9 L315.5,562.9 L316.0,563.3 L316.5,562.7 L317.0,563.0 L317.5,562.7 L318.0,563.3 L318.5,562.6 L319.0,562.8 L319.5,562.5 L320.0,562.5 L320.5,562.7 L321.0,563.2 L321.5,563.0 L322.0,563.1 L322.5,562.7 L323.0,563.2 L323.5,563.1 L324.0,563.2 L324.5,563.2 L325.0,562.6 L325.5,562.5 L326.0,563.0 L326.5,562.7 L327.0,562.9 L327.5,562.9 L328.0,563.0 L328.5,562.8 L329.0,563.1 L329.5,563.1 L330.0,562.9 L330.0,563.3Z" fill="#a8a590"/>
<path d="M213.0,581.4 L213.0,581.1 L213.5,581.2 L214.0,581.1 L214.5,581.3 L215.0,581.0 L215.5,581.0 L216.0,581.0 L216.5,581.3 L217.0,581.1 L217.5,581.2 L218.0,581.3 L218.5,580.9 L219.0,580.9 L219.5,581.4 L220.0,580.9 L220.5,581.1 L221.0,581.2 L221.5,581.2 L222.0,581.0 L222.5,581.2 L223.0,581.0 L223.5,581.0 L224.0,581.3 L224.5,581.0 L225.0,580.9 L225.5,580.9 L226.0,581.1 L226.5,581.4 L227.0,581.4 L227.5,581.3 L228.0,580.9 L228.5,581.2 L229.0,581.2 L229.5,580.9 L230.0,581.2 L230.5,581.1 L231.0,581.2 L231.5,581.4 L232.0,581.1 L232.5,580.9 L233.0,581.3 L233.5,581.3 L234.0,581.2 L234.5,581.4 L235.0,581.1 L235.5,581.0 L236.0,581.0 L236.5,581.1 L237.0,580.9 L237.5,581.3 L238.0,581.1 L238.5,581.2 L239.0,581.1 L239.5,581.3 L240.0,581.0 L240.5,581.3 L241.0,581.3 L241.5,581.0 L242.0,580.9 L242.5,581.2 L243.0,581.2 L243.5,581.3 L244.0,581.3 L244.5,581.1 L245.0,581.3 L245.5,581.3 L246.0,581.2 L246.5,581.3 L247.0,581.0 L247.5,581.0 L248.0,581.0 L248.5,581.1 L249.0,581.2 L249.5,581.2 L250.0,581.4 L250.5,581.0 L251.0,581.2 L251.5,581.2 L252.0,581.4 L252.5,581.2 L253.0,581.1 L253.5,581.2 L254.0,580.9 L254.5,581.0 L255.0,581.3 L255.5,581.1 L256.0,580.9 L256.5,581.1 L257.0,580.5 L257.5,579.9 L258.0,577.3 L258.5,575.2 L259.0,575.6 L259.5,577.9 L260.0,579.8 L260.5,580.9 L261.0,581.1 L261.5,581.3 L262.0,581.2 L262.5,580.9 L263.0,581.2 L263.5,581.4 L264.0,581.4 L264.5,581.1 L265.0,581.4 L265.5,581.3 L266.0,581.3 L266.5,581.2 L267.0,580.9 L267.5,581.1 L268.0,581.2 L268.5,581.2 L269.0,581.1 L269.5,581.2 L270.0,581.0 L270.5,580.9 L271.0,581.0 L271.5,581.2 L272.0,581.0 L272.5,580.9 L273.0,581.1 L273.5,579.9 L274.0,577.8 L274.5,577.5 L275.0,579.2 L275.5,580.5 L276.0,580.9 L276.5,581.1 L277.0,581.0 L277.5,580.9 L278.0,581.1 L278.5,580.0 L279.0,579.6 L279.5,580.0 L280.0,581.3 L280.5,580.9 L281.0,581.0 L281.5,580.9 L282.0,580.9 L282.5,581.2 L283.0,581.0 L283.5,581.3 L284.0,581.1 L284.5,580.9 L285.0,581.3 L285.5,581.2 L286.0,581.4 L286.5,581.3 L287.0,581.3 L287.5,581.3 L288.0,580.9 L288.5,580.9 L289.0,581.1 L289.5,581.0 L290.0,581.0 L290.5,581.1 L291.0,580.9 L291.5,579.4 L292.0,578.8 L292.5,580.4 L293.0,581.1 L293.5,581.1 L294.0,581.1 L294.5,581.3 L295.0,581.1 L295.5,580.9 L296.0,580.9 L296.5,581.0 L297.0,581.4 L297.5,581.2 L298.0,581.4 L298.5,581.4 L299.0,581.3 L299.5,581.2 L300.0,581.0 L300.5,581.1 L301.0,581.2 L301.5,581.0 L302.0,581.1 L302.5,581.1 L303.0,581.3 L303.5,581.2 L304.0,581.2 L304.5,581.0 L305.0,581.1 L305.5,581.2 L306.0,581.1 L306.5,581.1 L307.0,581.0 L307.5,581.0 L308.0,581.0 L308.5,581.2 L309.0,581.0 L309.5,580.9 L310.0,580.9 L310.5,581.0 L311.0,581.4 L311.5,580.9 L312.0,580.9 L312.5,581.4 L313.0,581.2 L313.5,581.2 L314.0,581.0 L314.5,581.1 L315.0,581.2 L315.5,581.3 L316.0,581.3 L316.5,581.3 L317.0,581.0 L317.5,580.9 L318.0,581.3 L318.5,581.0 L319.0,580.9 L319.5,581.3 L320.0,581.1 L320.5,581.2 L321.0,580.9 L321.5,580.9 L322.0,581.4 L322.5,581.3 L323.0,580.9 L323.5,581.1 L324.0,581.1 L324.5,581.0 L325.0,581.0 L325.5,580.9 L326.0,581.2 L326.5,581.4 L327.0,581.0 L327.5,581.4 L328.0,581.1 L328.5,580.9 L329.0,581.2 L329.5,581.1 L330.0,581.3 L330.0,581.4Z" fill="#4264b0"/>
<path d="M213.0,600.0 L213.0,597.2 L213.5,596.8 L214.0,596.1 L214.5,596.7 L215.0,596.6 L215.5,598.2 L216.0,600.0 L216.5,600.0 L217.0,599.9 L217.5,599.9 L218.0,600.0 L218.5,600.0 L219.0,600.0 L219.5,599.9 L220.0,599.9 L220.5,599.1 L221.0,595.6 L221.5,595.5 L222.0,595.8 L222.5,595.7 L223.0,596.3 L223.5,596.3 L224.0,595.4 L224.5,595.9 L225.0,595.8 L225.5,596.3 L226.0,597.1 L226.5,596.6 L227.0,596.8 L227.5,596.4 L228.0,597.1 L228.5,596.8 L229.0,597.0 L229.5,596.7 L230.0,597.0 L230.5,597.2 L231.0,596.1 L231.5,596.1 L232.0,596.4 L232.5,596.7 L233.0,597.4 L233.5,597.5 L234.0,597.3 L234.5,597.5 L235.0,596.3 L235.5,596.7 L236.0,595.9 L236.5,596.7 L237.0,595.9 L237.5,596.1 L238.0,597.6 L238.5,597.3 L239.0,596.1 L239.5,596.7 L240.0,595.7 L240.5,596.6 L241.0,597.0 L241.5,595.9 L242.0,596.1 L242.5,598.7 L243.0,600.0 L243.5,600.0 L244.0,599.8 L244.5,599.9 L245.0,599.8 L245.5,596.1 L246.0,595.8 L246.5,595.3 L247.0,593.6 L247.5,594.0 L248.0,592.6 L248.5,591.6 L249.0,590.8 L249.5,589.5 L250.0,591.9 L250.5,592.3 L251.0,593.6 L251.5,593.4 L252.0,594.2 L252.5,594.4 L253.0,593.7 L253.5,593.8 L254.0,594.3 L254.5,593.1 L255.0,594.0 L255.5,593.4 L256.0,592.4 L256.5,592.4 L257.0,592.9 L257.5,591.2 L258.0,591.6 L258.5,590.5 L259.0,588.8 L259.5,589.6 L260.0,589.8 L260.5,590.3 L261.0,590.4 L261.5,589.7 L262.0,589.4 L262.5,587.7 L263.0,587.0 L263.5,585.8 L264.0,585.8 L264.5,587.7 L265.0,588.3 L265.5,587.4 L266.0,588.0 L266.5,588.6 L267.0,588.6 L267.5,590.0 L268.0,590.9 L268.5,591.0 L269.0,590.2 L269.5,589.8 L270.0,590.0 L270.5,587.8 L271.0,586.9 L271.5,586.4 L272.0,586.2 L272.5,589.1 L273.0,592.4 L273.5,591.8 L274.0,593.8 L274.5,593.8 L275.0,595.0 L275.5,594.2 L276.0,594.7 L276.5,595.4 L277.0,596.0 L277.5,595.6 L278.0,597.1 L278.5,597.7 L279.0,598.0 L279.5,598.4 L280.0,599.7 L280.5,599.7 L281.0,598.4 L281.5,599.2 L282.0,599.1 L282.5,598.1 L283.0,597.2 L283.5,597.2 L284.0,596.4 L284.5,595.5 L285.0,595.4 L285.5,596.6 L286.0,596.8 L286.5,596.4 L287.0,596.3 L287.5,596.9 L288.0,596.8 L288.5,597.0 L289.0,597.2 L289.5,596.9 L290.0,596.4 L290.5,594.5 L291.0,594.3 L291.5,593.2 L292.0,594.0 L292.5,592.3 L293.0,593.6 L293.5,594.2 L294.0,595.6 L294.5,595.1 L295.0,597.0 L295.5,596.8 L296.0,596.7 L296.5,596.3 L297.0,596.4 L297.5,596.3 L298.0,596.1 L298.5,595.8 L299.0,596.8 L299.5,596.3 L300.0,596.1 L300.5,596.2 L301.0,597.0 L301.5,596.5 L302.0,596.4 L302.5,597.0 L303.0,597.0 L303.5,597.5 L304.0,597.3 L304.5,597.3 L305.0,598.3 L305.5,597.5 L306.0,597.0 L306.5,597.3 L307.0,597.6 L307.5,598.2 L308.0,597.8 L308.5,598.1 L309.0,598.4 L309.5,597.9 L310.0,599.0 L310.5,597.8 L311.0,598.9 L311.5,597.9 L312.0,598.0 L312.5,598.3 L313.0,597.4 L313.5,597.6 L314.0,597.4 L314.5,596.8 L315.0,597.7 L315.5,598.0 L316.0,597.5 L316.5,596.9 L317.0,597.8 L317.5,598.0 L318.0,596.9 L318.5,597.4 L319.0,597.9 L319.5,597.3 L320.0,598.3 L320.5,597.9 L321.0,598.8 L321.5,598.5 L322.0,598.0 L322.5,598.0 L323.0,598.1 L323.5,598.8 L324.0,598.5 L324.5,598.9 L325.0,599.2 L325.5,598.6 L326.0,598.0 L326.5,598.0 L327.0,598.2 L327.5,597.8 L328.0,598.8 L328.5,599.0 L329.0,598.5 L329.5,598.8 L330.0,598.9 L330.1,600.0Z" fill="#f04e1c"/>
<path d="M213.0,617.8 L213.0,617.6 L213.5,617.5 L214.0,617.5 L214.5,617.7 L215.0,617.8 L215.5,617.6 L216.0,617.7 L216.5,617.4 L217.0,617.5 L217.5,617.5 L218.0,617.5 L218.5,617.5 L219.0,617.7 L219.5,617.6 L220.0,617.7 L220.5,617.4 L221.0,617.8 L221.5,617.4 L222.0,617.8 L222.5,617.5 L223.0,617.6 L223.5,617.6 L224.0,617.4 L224.5,617.8 L225.0,617.8 L225.5,617.4 L226.0,617.6 L226.5,617.8 L227.0,617.3 L227.5,617.3 L228.0,617.7 L228.5,617.6 L229.0,617.7 L229.5,617.6 L230.0,617.5 L230.5,617.7 L231.0,617.5 L231.5,617.8 L232.0,617.7 L232.5,617.4 L233.0,617.6 L233.5,617.6 L234.0,617.5 L234.5,617.6 L235.0,617.6 L235.5,617.8 L236.0,617.5 L236.5,617.3 L237.0,617.3 L237.5,617.5 L238.0,617.6 L238.5,617.6 L239.0,617.5 L239.5,617.5 L240.0,617.7 L240.5,617.7 L241.0,617.6 L241.5,617.6 L242.0,617.4 L242.5,617.6 L243.0,617.8 L243.5,617.4 L244.0,617.6 L244.5,617.6 L245.0,617.7 L245.5,617.6 L246.0,617.6 L246.5,617.4 L247.0,617.8 L247.5,617.5 L248.0,617.7 L248.5,617.5 L249.0,617.8 L249.5,617.7 L250.0,617.6 L250.5,617.5 L251.0,617.8 L251.5,617.6 L252.0,617.7 L252.5,617.7 L253.0,617.6 L253.5,617.3 L254.0,617.6 L254.5,617.3 L255.0,617.7 L255.5,617.4 L256.0,617.6 L256.5,617.7 L257.0,617.4 L257.5,617.4 L258.0,617.8 L258.5,617.7 L259.0,617.4 L259.5,617.6 L260.0,617.7 L260.5,617.8 L261.0,617.8 L261.5,617.5 L262.0,617.3 L262.5,617.3 L263.0,617.6 L263.5,617.8 L264.0,617.6 L264.5,617.4 L265.0,617.4 L265.5,617.5 L266.0,617.7 L266.5,617.5 L267.0,617.6 L267.5,617.5 L268.0,617.7 L268.5,617.3 L269.0,617.4 L269.5,617.7 L270.0,617.7 L270.5,617.4 L271.0,617.7 L271.5,617.3 L272.0,617.6 L272.5,617.5 L273.0,617.5 L273.5,617.7 L274.0,617.7 L274.5,617.7 L275.0,617.5 L275.5,617.5 L276.0,617.7 L276.5,617.4 L277.0,617.6 L277.5,617.7 L278.0,617.6 L278.5,617.3 L279.0,617.5 L279.5,617.5 L280.0,617.4 L280.5,617.3 L281.0,617.4 L281.5,617.6 L282.0,617.5 L282.5,617.4 L283.0,617.4 L283.5,617.5 L284.0,617.6 L284.5,617.6 L285.0,617.4 L285.5,617.5 L286.0,617.8 L286.5,617.5 L287.0,617.4 L287.5,617.4 L288.0,617.4 L288.5,617.4 L289.0,617.5 L289.5,617.4 L290.0,617.6 L290.5,617.8 L291.0,617.6 L291.5,617.7 L292.0,617.4 L292.5,617.5 L293.0,617.5 L293.5,617.5 L294.0,617.7 L294.5,617.5 L295.0,617.5 L295.5,617.6 L296.0,617.7 L296.5,617.6 L297.0,617.6 L297.5,617.5 L298.0,617.7 L298.5,617.8 L299.0,617.7 L299.5,617.5 L300.0,617.4 L300.5,617.5 L301.0,617.4 L301.5,617.6 L302.0,617.8 L302.5,617.6 L303.0,617.6 L303.5,617.7 L304.0,617.5 L304.5,617.6 L305.0,617.7 L305.5,617.6 L306.0,617.3 L306.5,617.8 L307.0,617.6 L307.5,617.7 L308.0,617.7 L308.5,617.6 L309.0,617.7 L309.5,617.4 L310.0,617.6 L310.5,617.5 L311.0,617.7 L311.5,617.6 L312.0,617.5 L312.5,617.4 L313.0,617.7 L313.5,617.6 L314.0,617.4 L314.5,617.4 L315.0,617.7 L315.5,617.5 L316.0,617.4 L316.5,617.6 L317.0,617.5 L317.5,617.5 L318.0,617.3 L318.5,617.5 L319.0,617.5 L319.5,617.6 L320.0,617.4 L320.5,617.6 L321.0,617.6 L321.5,617.6 L322.0,617.7 L322.5,617.7 L323.0,617.7 L323.5,617.5 L324.0,617.7 L324.5,617.8 L325.0,617.4 L325.5,617.7 L326.0,617.4 L326.5,617.5 L327.0,617.6 L327.5,617.4 L328.0,617.4 L328.5,617.6 L329.0,617.7 L329.5,617.5 L330.0,617.4 L330.0,617.8Z" fill="#a8a590"/>
<text x="47.9" y="517.6" font-size="6.83" fill="#4264b0" textLength="24.3" lengthAdjust="spacingAndGlyphs">H3K4me3</text>
<text x="47.9" y="535.4" font-size="6.83" fill="#f04e1c" textLength="27.6" lengthAdjust="spacingAndGlyphs">H3K27me3</text>
<text x="47.9" y="554.6" font-size="6.83" fill="#b0ae9e" textLength="9.4" lengthAdjust="spacingAndGlyphs">IgG</text>
<text x="47.9" y="572.3" font-size="6.83" fill="#4264b0" textLength="24.3" lengthAdjust="spacingAndGlyphs">H3K4me3</text>
<text x="47.9" y="590.6" font-size="6.83" fill="#f04e1c" textLength="27.6" lengthAdjust="spacingAndGlyphs">H3K27me3</text>
<text x="47.9" y="608.0" font-size="6.83" fill="#b0ae9e" textLength="9.4" lengthAdjust="spacingAndGlyphs">IgG</text>
<text x="198.9" y="514.5" font-size="5.81" fill="#4264b0" textLength="9.0" lengthAdjust="spacingAndGlyphs">0-10</text>
<text x="194.6" y="532.7" font-size="5.81" fill="#f04e1c" textLength="13.3" lengthAdjust="spacingAndGlyphs">0-0.67</text>
<text x="198.9" y="550.5" font-size="5.81" fill="#b0ae9e" textLength="9.0" lengthAdjust="spacingAndGlyphs">0-10</text>
<text x="198.9" y="569.0" font-size="5.81" fill="#4264b0" textLength="9.0" lengthAdjust="spacingAndGlyphs">0-10</text>
<text x="194.6" y="587.3" font-size="5.81" fill="#f04e1c" textLength="13.3" lengthAdjust="spacingAndGlyphs">0-0.67</text>
<text x="198.9" y="605.6" font-size="5.81" fill="#b0ae9e" textLength="9.0" lengthAdjust="spacingAndGlyphs">0-10</text>
<text x="316.0" y="514.5" font-size="5.81" fill="#4264b0" textLength="13.3" lengthAdjust="spacingAndGlyphs">0-5.64</text>
<text x="316.0" y="532.0" font-size="5.81" fill="#f04e1c" textLength="13.3" lengthAdjust="spacingAndGlyphs">0-4.10</text>
<text x="316.0" y="550.4" font-size="5.81" fill="#b0ae9e" textLength="13.3" lengthAdjust="spacingAndGlyphs">0-5.64</text>
<text x="316.0" y="568.6" font-size="5.81" fill="#4264b0" textLength="13.3" lengthAdjust="spacingAndGlyphs">0-5.64</text>
<text x="316.0" y="586.2" font-size="5.81" fill="#f04e1c" textLength="13.3" lengthAdjust="spacingAndGlyphs">0-4.10</text>
<text x="316.0" y="604.7" font-size="5.81" fill="#b0ae9e" textLength="13.3" lengthAdjust="spacingAndGlyphs">0-5.64</text>
<rect x="98.60" y="622.00" width="5.20" height="3.20" fill="#1a2ab0"/>
<rect x="114.90" y="621.00" width="5.00" height="5.20" fill="#1a2ab0"/>
<rect x="118.00" y="622.20" width="13.40" height="2.80" fill="#1a2ab0"/>
<circle cx="116.3" cy="623.6" r="2.60" fill="#1a2ab0"/>
<rect x="158.80" y="622.20" width="6.80" height="2.80" fill="#1a2ab0"/>
<rect x="165.60" y="622.80" width="4.40" height="1.60" fill="#1a2ab0"/>
<rect x="251.10" y="621.90" width="6.10" height="3.40" fill="#1a2ab0"/>
<rect x="269.50" y="622.30" width="3.80" height="2.60" fill="#1a2ab0"/>
<line x1="273.0" y1="623.6" x2="275.0" y2="623.6" stroke="#1a2ab0" stroke-width="0.8"/>
<line x1="279.6" y1="623.6" x2="317.9" y2="623.6" stroke="#1a2ab0" stroke-width="0.8"/>
<rect x="279.60" y="621.20" width="1.20" height="4.80" fill="#1a2ab0"/>
<rect x="281.80" y="621.00" width="1.50" height="5.20" fill="#1a2ab0"/>
<rect x="284.00" y="621.00" width="1.30" height="5.20" fill="#1a2ab0"/>
<rect x="296.50" y="621.00" width="2.00" height="5.20" fill="#1a2ab0"/>
<rect x="298.50" y="622.00" width="2.00" height="3.20" fill="#1a2ab0"/>
<rect x="317.20" y="621.00" width="1.00" height="5.20" fill="#1a2ab0"/>
<path d="M288,622.3 L289.2,623.6 L288,624.9" stroke="#1a2ab0" stroke-width="0.5" fill="none"/>
<path d="M292,622.3 L293.2,623.6 L292,624.9" stroke="#1a2ab0" stroke-width="0.5" fill="none"/>
<path d="M303,622.3 L304.2,623.6 L303,624.9" stroke="#1a2ab0" stroke-width="0.5" fill="none"/>
<path d="M308,622.3 L309.2,623.6 L308,624.9" stroke="#1a2ab0" stroke-width="0.5" fill="none"/>
<path d="M312,622.3 L313.2,623.6 L312,624.9" stroke="#1a2ab0" stroke-width="0.5" fill="none"/>
<line x1="322.3" y1="623.6" x2="330.0" y2="623.6" stroke="#1a2ab0" stroke-width="0.8"/>
<rect x="322.00" y="621.50" width="0.90" height="4.20" fill="#1a2ab0"/>
<text x="108.3" y="639.4" font-size="9.01" fill="#111" font-weight="bold" font-style="italic" textLength="25.7" lengthAdjust="spacingAndGlyphs">POU3F2</text>
<text x="280.9" y="639.7" font-size="9.88" fill="#111" font-weight="bold" font-style="italic" textLength="17.1" lengthAdjust="spacingAndGlyphs">LHX2</text>
<text x="96.0" y="690.2" font-size="9.30" fill="#222" font-weight="bold" textLength="74.8" lengthAdjust="spacingAndGlyphs">H3K27me3 peaks</text>
<text x="17.2" y="704.3" font-size="9.45" fill="#333" font-weight="bold" textLength="56.0" lengthAdjust="spacingAndGlyphs">Vehicle (n=3)</text>
<text x="45.9" y="716.5" font-size="9.59" fill="#333" font-weight="bold" textLength="26.8" lengthAdjust="spacingAndGlyphs">34,075</text>
<ellipse cx="96.5" cy="749.3" rx="44.2" ry="41.7" fill="#fde2c4"/>
<ellipse cx="157.8" cy="750.5" rx="59.4" ry="53.6" fill="#855b34"/>
<clipPath id="cv"><ellipse cx="96.5" cy="749.3" rx="44.2" ry="41.7"/></clipPath>
<ellipse cx="157.8" cy="750.5" rx="59.4" ry="53.6" fill="#d2a97d" clip-path="url(#cv)"/>
<text x="64.8" y="748.6" font-size="10.17" fill="#b39475" font-weight="bold" textLength="28.6" lengthAdjust="spacingAndGlyphs">23,980</text>
<text x="162.0" y="761.2" font-size="10.17" fill="#fff" font-weight="bold" textLength="29.0" lengthAdjust="spacingAndGlyphs">57,333</text>
<text x="204.6" y="788.8" font-size="10.47" fill="#333" font-weight="bold" textLength="55.2" lengthAdjust="spacingAndGlyphs">Decitabine</text>
<text x="204.6" y="800.9" font-size="10.47" fill="#333" font-weight="bold" textLength="62.8" lengthAdjust="spacingAndGlyphs">(n=3) 63,754</text>
<text x="327.4" y="691.0" font-size="11.48" fill="#111" font-weight="bold" textLength="151.0" lengthAdjust="spacingAndGlyphs">WCM154 sgDNMT1 Vs. sgGFP</text>
<text x="366.6" y="702.9" font-size="11.48" fill="#111" font-weight="bold" textLength="72.1" lengthAdjust="spacingAndGlyphs">bivalent peaks</text>
<text x="309.6" y="717.0" font-size="11.05" fill="#111" font-weight="bold" textLength="52.1" lengthAdjust="spacingAndGlyphs">H3K27me3</text>
<text x="439.5" y="717.5" font-size="11.05" fill="#111" font-weight="bold" textLength="45.9" lengthAdjust="spacingAndGlyphs">H3K4me3</text>
<rect x="285.60" y="719.20" width="104.50" height="59.40" fill="#fff" stroke="#111" stroke-width="1.1"/>
<rect x="409.80" y="720.00" width="109.50" height="60.50" fill="#fff" stroke="#111" stroke-width="1.1"/>
<line x1="288.0" y1="724.1" x2="294.7" y2="724.1" stroke="#8d6035" stroke-width="1.0"/>
<text x="297.5" y="726.4" font-size="6.83" fill="#111" font-weight="bold" textLength="33.6" lengthAdjust="spacingAndGlyphs">Decitabine</text>
<line x1="288.0" y1="730.2" x2="294.7" y2="730.2" stroke="#f5a324" stroke-width="1.0"/>
<text x="297.5" y="732.6" font-size="6.83" fill="#111" font-weight="bold" textLength="23.4" lengthAdjust="spacingAndGlyphs">Vehicle</text>
<line x1="412.0" y1="724.9" x2="418.7" y2="724.9" stroke="#8d6035" stroke-width="1.0"/>
<text x="421.2" y="727.2" font-size="6.83" fill="#111" font-weight="bold" textLength="33.6" lengthAdjust="spacingAndGlyphs">Decitabine</text>
<line x1="412.0" y1="731.2" x2="418.7" y2="731.2" stroke="#f5a324" stroke-width="1.0"/>
<text x="421.2" y="733.4" font-size="6.83" fill="#111" font-weight="bold" textLength="23.5" lengthAdjust="spacingAndGlyphs">Vehicle</text>
<text x="277.6" y="735.6" font-size="5.23" fill="#222" textLength="6.4" lengthAdjust="spacingAndGlyphs">2.5</text>
<line x1="284.3" y1="734.0" x2="285.6" y2="734.0" stroke="#111" stroke-width="0.6"/>
<text x="277.6" y="754.2" font-size="5.23" fill="#222" textLength="6.4" lengthAdjust="spacingAndGlyphs">2.0</text>
<line x1="284.3" y1="752.6" x2="285.6" y2="752.6" stroke="#111" stroke-width="0.6"/>
<text x="277.6" y="772.2" font-size="5.23" fill="#222" textLength="6.4" lengthAdjust="spacingAndGlyphs">1.5</text>
<line x1="284.3" y1="770.6" x2="285.6" y2="770.6" stroke="#111" stroke-width="0.6"/>
<text x="400.5" y="731.2" font-size="5.23" fill="#222" textLength="6.8" lengthAdjust="spacingAndGlyphs">1.5</text>
<line x1="408.3" y1="729.6" x2="409.8" y2="729.6" stroke="#111" stroke-width="0.6"/>
<text x="400.5" y="753.0" font-size="5.23" fill="#222" textLength="6.8" lengthAdjust="spacingAndGlyphs">1.0</text>
<line x1="408.3" y1="751.4" x2="409.8" y2="751.4" stroke="#111" stroke-width="0.6"/>
<text x="400.5" y="775.4" font-size="5.23" fill="#222" textLength="6.8" lengthAdjust="spacingAndGlyphs">0.5</text>
<line x1="408.3" y1="773.8" x2="409.8" y2="773.8" stroke="#111" stroke-width="0.6"/>
<line x1="285.6" y1="778.6" x2="285.6" y2="780.4" stroke="#111" stroke-width="0.8"/>
<line x1="337.8" y1="778.6" x2="337.8" y2="780.4" stroke="#111" stroke-width="0.8"/>
<line x1="390.0" y1="778.6" x2="390.0" y2="780.4" stroke="#111" stroke-width="0.8"/>
<line x1="409.8" y1="780.5" x2="409.8" y2="782.3" stroke="#111" stroke-width="0.8"/>
<line x1="464.5" y1="780.5" x2="464.5" y2="782.3" stroke="#111" stroke-width="0.8"/>
<line x1="519.3" y1="780.5" x2="519.3" y2="782.3" stroke="#111" stroke-width="0.8"/>
<text x="286.0" y="786.7" font-size="5.52" fill="#222" textLength="6.8" lengthAdjust="spacingAndGlyphs">-3.0</text>
<text x="331.7" y="786.7" font-size="5.52" fill="#222" textLength="12.7" lengthAdjust="spacingAndGlyphs">center</text>
<text x="379.1" y="786.7" font-size="5.52" fill="#222" textLength="11.4" lengthAdjust="spacingAndGlyphs">3.0Kb</text>
<text x="410.2" y="787.5" font-size="5.52" fill="#222" textLength="7.6" lengthAdjust="spacingAndGlyphs">-1.0</text>
<text x="457.6" y="787.5" font-size="5.52" fill="#222" textLength="13.3" lengthAdjust="spacingAndGlyphs">center</text>
<text x="507.0" y="787.5" font-size="5.52" fill="#222" textLength="12.3" lengthAdjust="spacingAndGlyphs">1.0Kb</text>
<polyline points="285.6,754.0 286.2,754.3 286.8,754.2 287.4,754.4 288.0,754.7 288.7,755.2 289.3,756.2 289.9,757.0 290.6,756.3 291.2,755.4 291.8,755.0 292.5,753.5 293.1,752.8 293.9,753.6 294.7,754.6 295.4,755.4 296.1,755.6 296.8,756.1 297.5,756.5 298.2,756.6 298.9,756.6 299.6,756.6 300.4,756.1 301.1,756.9 301.8,756.8 302.5,757.2 303.2,757.8 303.9,757.5 304.6,757.3 305.3,757.3 306.1,757.0 306.8,757.0 307.5,756.3 308.2,756.3 308.9,756.0 309.6,756.1 310.3,756.0 311.0,756.7 311.7,756.5 312.4,756.8 313.0,756.8 313.6,756.7 314.3,757.1 314.9,757.2 315.5,757.2 316.3,757.3 317.0,757.7 317.7,758.0 318.4,758.1 319.1,758.2 319.8,758.0 320.5,757.6 321.2,757.4 321.9,756.7 322.7,756.8 323.4,755.9 324.1,755.8 324.8,755.1 325.5,754.8 326.2,754.5 326.9,754.0 327.6,754.1 328.3,754.3 329.1,754.4 329.8,754.8 330.4,753.8 331.0,752.8 331.7,752.1 332.3,749.8 332.9,747.5 333.6,745.2 334.2,741.7 334.8,737.6 335.5,733.8 336.1,729.7 336.8,725.6 337.9,722.9 338.6,724.6 339.3,726.7 339.9,731.4 340.6,736.0 341.3,740.7 342.1,745.1 342.7,746.8 343.4,748.2 344.0,750.3 344.6,751.5 345.3,752.7 345.9,753.8 346.6,754.0 347.3,754.2 348.0,754.7 348.7,755.1 349.5,755.0 350.2,755.0 350.9,755.4 351.6,755.7 352.3,756.3 353.0,756.5 353.7,756.5 354.4,756.5 355.2,756.7 355.9,757.0 356.6,757.6 357.3,757.7 358.0,757.5 358.7,757.0 359.4,756.4 360.1,755.8 360.8,755.8 361.6,755.1 362.3,754.9 363.0,754.9 363.6,754.7 364.2,754.4 364.9,754.2 365.5,753.9 366.1,754.3 366.8,754.0 367.5,754.6 368.2,755.1 368.9,755.3 369.6,755.9 370.3,755.5 371.0,755.5 371.8,755.3 372.5,754.6 373.2,754.3 373.9,754.2 374.6,754.2 375.3,753.8 376.0,753.4 376.7,753.6 377.4,753.4 378.2,752.9 378.9,752.2 379.6,752.2 380.3,751.5 381.0,750.8 381.7,751.2 382.4,751.6 383.1,752.0 383.9,752.0 384.6,751.6 385.3,750.9 386.0,750.4 386.7,750.3 387.4,750.3 388.1,750.3 388.8,750.9 389.5,751.1" fill="none" stroke="#8d6035" stroke-width="1.0" stroke-linejoin="round"/>
<polyline points="285.6,765.6 286.2,765.9 286.8,766.2 287.4,766.5 288.0,766.7 288.7,766.6 289.4,766.4 290.2,766.1 290.9,766.4 291.6,766.2 292.3,766.7 293.0,766.9 293.7,767.3 294.4,768.1 295.1,768.6 295.9,769.7 296.6,770.5 297.3,770.1 298.0,769.5 298.7,769.7 299.4,769.1 300.0,768.2 300.7,767.7 301.3,767.5 302.0,766.8 302.7,766.6 303.4,766.6 304.2,766.4 304.9,767.3 305.6,768.3 306.3,768.8 307.0,769.8 307.7,769.8 308.4,769.3 309.1,768.3 309.8,767.9 310.6,768.4 311.3,769.3 312.0,769.4 312.7,770.1 313.4,769.6 314.1,768.7 314.8,768.1 315.5,767.0 316.3,766.5 317.0,765.9 317.7,765.9 318.4,765.0 319.1,765.4 319.8,765.1 320.5,764.7 321.2,764.9 321.9,764.7 322.7,765.0 323.4,764.9 324.1,765.5 324.8,766.0 325.5,766.5 326.2,766.4 326.9,767.4 327.6,766.9 328.3,766.7 329.1,766.2 329.8,765.9 330.5,765.8 331.2,765.7 331.9,765.2 332.6,765.0 333.3,765.9 333.9,766.4 334.5,767.1 335.1,768.5 335.8,770.5 336.4,771.6 337.2,774.0 337.9,775.9 338.6,774.3 339.3,772.6 339.9,772.0 340.5,770.8 341.2,770.0 341.9,769.3 342.6,769.4 343.3,768.6 344.0,768.0 344.7,767.7 345.4,767.8 346.1,767.6 346.9,767.4 347.6,767.7 348.3,768.5 349.0,769.2 349.7,770.2 350.4,769.3 351.1,769.1 351.8,768.9 352.5,768.3 353.3,768.3 354.0,768.8 354.7,769.3 355.4,770.1 356.1,769.4 356.8,768.6 357.5,767.9 358.2,767.1 358.9,767.0 359.7,766.8 360.4,766.7 361.1,766.4 361.8,765.9 362.5,765.5 363.2,765.0 363.9,764.5 364.6,764.7 365.2,765.7 365.8,766.4 366.5,766.9 367.2,767.9 368.0,768.2 368.7,769.3 369.4,768.1 370.1,767.3 370.8,766.1 371.5,765.2 372.2,765.1 372.9,764.9 373.7,764.6 374.4,764.7 375.0,764.9 375.6,764.7 376.3,764.8 376.9,764.6 377.5,764.6 378.2,764.6 378.9,764.0 379.6,763.3 380.3,762.8 381.0,762.4 381.7,761.9 382.4,761.8 383.1,762.0 383.9,761.7 384.6,761.1 385.3,761.0 386.0,760.7 386.7,760.4 387.3,760.8 388.0,761.1 388.6,761.3 389.4,762.2 390.1,762.4" fill="none" stroke="#f5a324" stroke-width="1.0" stroke-linejoin="round"/>
<polyline points="409.8,770.3 410.5,770.6 411.2,770.5 411.9,770.7 412.6,771.0 413.3,770.7 414.0,771.0 414.7,771.2 415.4,771.3 416.1,771.6 416.8,771.5 417.5,771.9 418.2,772.0 419.0,772.3 419.7,772.1 420.3,772.2 420.9,772.2 421.6,772.5 422.2,772.1 422.8,772.2 423.5,772.4 424.1,772.7 424.7,772.5 425.4,772.8 426.0,773.2 426.6,773.3 427.3,773.6 427.9,773.8 428.5,773.8 429.2,774.0 429.8,774.1 430.4,774.6 431.1,774.6 431.7,774.9 432.3,775.4 433.0,775.5 433.6,775.7 434.2,776.0 434.8,776.1 435.5,776.3 436.1,776.2 436.7,776.2 437.4,776.3 438.0,776.3 438.6,776.6 439.3,776.6 439.9,776.6 440.5,776.9 441.2,777.2 441.8,777.1 442.4,776.9 443.1,777.1 443.7,776.8 444.3,776.7 445.0,776.7 445.6,776.7 446.2,776.8 446.9,776.4 447.5,776.3 448.1,775.8 448.8,776.0 449.4,775.5 450.0,775.5 450.7,774.5 451.3,774.4 451.9,773.5 452.6,773.2 453.2,772.6 453.8,772.0 454.5,771.2 455.1,770.5 455.7,770.1 456.4,769.9 457.0,768.9 457.6,768.6 458.3,768.1 458.9,767.7 459.5,767.0 460.1,766.6 460.8,766.1 461.4,766.1 462.0,765.7 462.7,765.7 463.3,765.6 463.9,765.3 464.6,765.2 465.2,765.0 465.8,765.4 466.5,764.9 467.1,765.2 467.7,764.8 468.4,764.9 469.0,764.5 469.7,764.3 470.4,763.5 471.1,762.9 471.9,762.4 472.6,761.8 473.3,761.4 474.0,761.2 474.7,760.4 475.4,760.1 476.1,759.9 476.8,759.3 477.5,758.9 478.3,758.1 479.0,757.4 479.7,756.5 480.4,755.9 481.1,754.8 481.8,754.1 482.5,752.7 483.2,752.1 483.9,751.2 484.7,750.0 485.4,748.9 486.1,748.2 486.8,747.2 487.6,746.5 488.4,745.8 489.0,745.7 489.6,745.8 490.2,746.2 490.8,746.1 491.5,746.6 492.2,747.2 493.0,747.5 493.7,748.0 494.3,748.6 494.9,749.1 495.6,749.8 496.2,750.1 496.8,750.4 497.5,750.9 498.1,751.6 498.7,752.0 499.4,752.7 500.0,753.2 500.6,753.6 501.3,753.7 502.0,755.1 502.7,755.8 503.4,756.6 504.1,757.5 504.7,758.3 505.4,758.4 506.0,758.8 506.7,758.8 507.4,759.0 508.1,758.7 508.9,758.8 509.5,758.4 510.1,758.6 510.7,758.6 511.4,758.5 512.0,758.7 512.6,758.6 513.3,758.5 513.9,759.0 514.5,758.8 515.2,758.7 515.8,758.7 516.4,759.1 517.2,759.0 517.9,758.8 518.6,759.0 519.3,759.0" fill="none" stroke="#8d6035" stroke-width="1.0" stroke-linejoin="round"/>
<polyline points="409.8,771.7 410.5,771.7 411.2,771.7 411.9,771.9 412.6,772.1 413.3,772.3 414.0,772.1 414.6,772.6 415.2,772.9 415.9,773.0 416.5,773.2 417.1,773.2 417.8,773.6 418.4,773.3 419.0,773.4 419.7,773.7 420.3,773.9 420.9,773.6 421.6,773.7 422.2,773.7 422.8,773.9 423.5,773.8 424.1,773.9 424.7,774.3 425.4,774.2 426.0,774.5 426.6,774.3 427.3,774.6 427.9,774.3 428.5,774.9 429.2,774.6 429.8,774.9 430.4,775.0 431.1,775.3 431.7,775.1 432.3,775.5 433.0,775.4 433.6,775.3 434.2,775.6 434.8,775.4 435.5,775.8 436.1,775.6 436.7,775.6 437.4,776.0 438.0,775.8 438.6,775.9 439.3,775.9 439.9,776.1 440.5,775.9 441.2,776.0 441.8,775.8 442.4,776.1 443.1,775.6 443.7,775.8 444.3,775.6 445.0,775.6 445.6,775.6 446.2,775.6 446.9,775.3 447.5,775.3 448.1,775.2 448.8,775.2 449.4,774.3 450.0,773.9 450.7,773.7 451.3,773.3 451.9,773.1 452.6,771.9 453.2,771.3 453.8,770.5 454.5,770.0 455.1,769.2 455.7,768.5 456.4,768.0 457.0,767.2 457.6,766.6 458.3,766.0 458.9,764.9 459.5,764.6 460.2,763.8 460.9,763.2 461.7,763.1 462.4,762.2 463.1,762.0 463.8,761.9 464.5,761.6 465.2,761.7 465.9,761.3 466.6,760.8 467.3,760.5 468.1,760.3 468.8,759.9 469.5,759.5 470.2,759.0 470.9,758.5 471.6,758.0 472.3,757.8 473.0,757.3 473.7,756.9 474.5,756.0 475.2,755.1 475.9,753.7 476.6,752.7 477.3,751.7 478.0,750.1 478.7,748.5 479.4,747.4 480.1,745.2 480.7,743.3 481.3,741.5 482.0,739.0 482.6,736.6 483.2,733.8 483.9,731.6 484.5,729.0 485.1,726.4 485.8,725.8 486.6,725.1 487.3,724.0 488.0,723.5 488.7,723.6 489.4,723.6 490.1,723.6 490.8,723.4 491.5,723.9 492.2,724.0 493.0,723.8 493.7,724.1 494.4,724.7 495.1,724.6 495.8,725.1 496.5,725.7 497.2,726.0 497.9,726.0 498.7,726.6 499.4,726.7 500.1,727.7 500.8,728.6 501.5,729.1 502.2,730.0 502.8,731.3 503.5,732.6 504.1,733.7 504.7,735.7 505.4,737.7 506.0,739.6 506.6,741.4 507.3,743.5 507.9,745.6 508.5,746.7 509.2,747.8 509.8,749.3 510.4,750.1 511.1,750.9 511.7,752.0 512.3,752.4 513.0,753.4 513.6,753.7 514.2,754.2 514.9,754.8 515.5,755.0 516.1,756.0 516.8,756.8 517.4,757.8 518.0,758.2 518.7,758.8 519.3,759.0" fill="none" stroke="#f5a324" stroke-width="1.0" stroke-linejoin="round"/>
</svg></body></html>
